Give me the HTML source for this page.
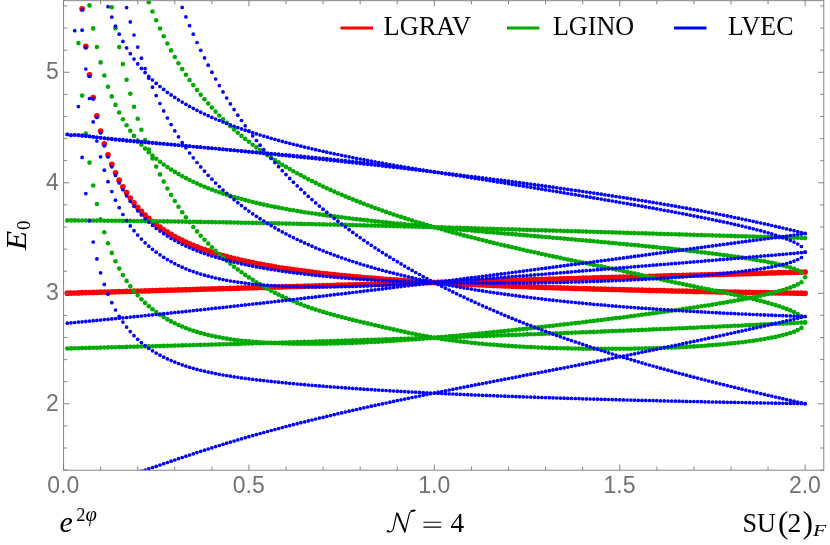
<!DOCTYPE html>
<html><head><meta charset="utf-8"><title>E0 spectrum</title>
<style>html,body{margin:0;padding:0;background:#fff;}svg{display:block;will-change:transform;}</style></head>
<body>
<svg width="830" height="545" viewBox="0 0 830 545">
<defs><clipPath id="cp"><rect x="63.60" y="0.70" width="760.20" height="469.50"/></clipPath></defs>
<rect x="0" y="0" width="830" height="545" fill="#fff"/>
<g clip-path="url(#cp)">
<g fill="#ff0000">
<circle cx="67.3" cy="293.2" r="2.85"/>
<circle cx="71.0" cy="293.1" r="2.85"/>
<circle cx="74.7" cy="293.0" r="2.85"/>
<circle cx="78.4" cy="292.9" r="2.85"/>
<circle cx="82.1" cy="292.7" r="2.85"/>
<circle cx="85.8" cy="292.6" r="2.85"/>
<circle cx="89.5" cy="292.5" r="2.85"/>
<circle cx="93.2" cy="292.4" r="2.85"/>
<circle cx="96.9" cy="292.3" r="2.85"/>
<circle cx="100.6" cy="292.2" r="2.85"/>
<circle cx="104.3" cy="292.1" r="2.85"/>
<circle cx="108.0" cy="292.0" r="2.85"/>
<circle cx="111.8" cy="291.9" r="2.85"/>
<circle cx="115.5" cy="291.8" r="2.85"/>
<circle cx="119.2" cy="291.6" r="2.85"/>
<circle cx="122.9" cy="291.5" r="2.85"/>
<circle cx="126.6" cy="291.4" r="2.85"/>
<circle cx="130.3" cy="291.3" r="2.85"/>
<circle cx="134.0" cy="291.2" r="2.85"/>
<circle cx="137.7" cy="291.1" r="2.85"/>
<circle cx="141.4" cy="291.0" r="2.85"/>
<circle cx="145.1" cy="290.9" r="2.85"/>
<circle cx="148.8" cy="290.8" r="2.85"/>
<circle cx="152.5" cy="290.7" r="2.85"/>
<circle cx="156.2" cy="290.6" r="2.85"/>
<circle cx="160.0" cy="290.4" r="2.85"/>
<circle cx="163.7" cy="290.3" r="2.85"/>
<circle cx="167.4" cy="290.2" r="2.85"/>
<circle cx="171.1" cy="290.1" r="2.85"/>
<circle cx="174.8" cy="290.0" r="2.85"/>
<circle cx="178.5" cy="289.9" r="2.85"/>
<circle cx="182.2" cy="289.8" r="2.85"/>
<circle cx="185.9" cy="289.7" r="2.85"/>
<circle cx="189.6" cy="289.6" r="2.85"/>
<circle cx="193.3" cy="289.5" r="2.85"/>
<circle cx="197.0" cy="289.4" r="2.85"/>
<circle cx="200.7" cy="289.2" r="2.85"/>
<circle cx="204.5" cy="289.1" r="2.85"/>
<circle cx="208.2" cy="289.0" r="2.85"/>
<circle cx="211.9" cy="288.9" r="2.85"/>
<circle cx="215.6" cy="288.8" r="2.85"/>
<circle cx="219.3" cy="288.7" r="2.85"/>
<circle cx="223.0" cy="288.6" r="2.85"/>
<circle cx="226.7" cy="288.5" r="2.85"/>
<circle cx="230.4" cy="288.4" r="2.85"/>
<circle cx="234.1" cy="288.3" r="2.85"/>
<circle cx="237.8" cy="288.2" r="2.85"/>
<circle cx="241.5" cy="288.0" r="2.85"/>
<circle cx="245.2" cy="287.9" r="2.85"/>
<circle cx="248.9" cy="287.8" r="2.85"/>
<circle cx="252.7" cy="287.7" r="2.85"/>
<circle cx="256.4" cy="287.6" r="2.85"/>
<circle cx="260.1" cy="287.5" r="2.85"/>
<circle cx="263.8" cy="287.4" r="2.85"/>
<circle cx="267.5" cy="287.3" r="2.85"/>
<circle cx="271.2" cy="287.2" r="2.85"/>
<circle cx="274.9" cy="287.1" r="2.85"/>
<circle cx="278.6" cy="287.0" r="2.85"/>
<circle cx="282.3" cy="286.9" r="2.85"/>
<circle cx="286.0" cy="286.7" r="2.85"/>
<circle cx="289.7" cy="286.6" r="2.85"/>
<circle cx="293.4" cy="286.5" r="2.85"/>
<circle cx="297.2" cy="286.4" r="2.85"/>
<circle cx="300.9" cy="286.3" r="2.85"/>
<circle cx="304.6" cy="286.2" r="2.85"/>
<circle cx="308.3" cy="286.1" r="2.85"/>
<circle cx="312.0" cy="286.0" r="2.85"/>
<circle cx="315.7" cy="285.9" r="2.85"/>
<circle cx="319.4" cy="285.8" r="2.85"/>
<circle cx="323.1" cy="285.7" r="2.85"/>
<circle cx="326.8" cy="285.6" r="2.85"/>
<circle cx="330.5" cy="285.5" r="2.85"/>
<circle cx="334.2" cy="285.3" r="2.85"/>
<circle cx="337.9" cy="285.2" r="2.85"/>
<circle cx="341.7" cy="285.1" r="2.85"/>
<circle cx="345.4" cy="285.0" r="2.85"/>
<circle cx="349.1" cy="284.9" r="2.85"/>
<circle cx="352.8" cy="284.8" r="2.85"/>
<circle cx="356.5" cy="284.7" r="2.85"/>
<circle cx="360.2" cy="284.6" r="2.85"/>
<circle cx="363.9" cy="284.5" r="2.85"/>
<circle cx="367.6" cy="284.4" r="2.85"/>
<circle cx="371.3" cy="284.3" r="2.85"/>
<circle cx="375.0" cy="284.2" r="2.85"/>
<circle cx="378.7" cy="284.1" r="2.85"/>
<circle cx="382.4" cy="284.0" r="2.85"/>
<circle cx="386.1" cy="283.8" r="2.85"/>
<circle cx="389.9" cy="283.7" r="2.85"/>
<circle cx="393.6" cy="283.6" r="2.85"/>
<circle cx="397.3" cy="283.5" r="2.85"/>
<circle cx="401.0" cy="283.4" r="2.85"/>
<circle cx="404.7" cy="283.3" r="2.85"/>
<circle cx="408.4" cy="283.2" r="2.85"/>
<circle cx="412.1" cy="283.1" r="2.85"/>
<circle cx="415.8" cy="283.0" r="2.85"/>
<circle cx="419.5" cy="282.9" r="2.85"/>
<circle cx="423.2" cy="282.8" r="2.85"/>
<circle cx="426.9" cy="282.7" r="2.85"/>
<circle cx="430.6" cy="282.6" r="2.85"/>
<circle cx="434.4" cy="282.5" r="2.85"/>
<circle cx="438.1" cy="282.4" r="2.85"/>
<circle cx="441.8" cy="282.2" r="2.85"/>
<circle cx="445.5" cy="282.1" r="2.85"/>
<circle cx="449.2" cy="282.0" r="2.85"/>
<circle cx="452.9" cy="281.9" r="2.85"/>
<circle cx="456.6" cy="281.8" r="2.85"/>
<circle cx="460.3" cy="281.7" r="2.85"/>
<circle cx="464.0" cy="281.6" r="2.85"/>
<circle cx="467.7" cy="281.5" r="2.85"/>
<circle cx="471.4" cy="281.4" r="2.85"/>
<circle cx="475.1" cy="281.3" r="2.85"/>
<circle cx="478.8" cy="281.2" r="2.85"/>
<circle cx="482.6" cy="281.1" r="2.85"/>
<circle cx="486.3" cy="281.0" r="2.85"/>
<circle cx="490.0" cy="280.9" r="2.85"/>
<circle cx="493.7" cy="280.8" r="2.85"/>
<circle cx="497.4" cy="280.7" r="2.85"/>
<circle cx="501.1" cy="280.6" r="2.85"/>
<circle cx="504.8" cy="280.4" r="2.85"/>
<circle cx="508.5" cy="280.3" r="2.85"/>
<circle cx="512.2" cy="280.2" r="2.85"/>
<circle cx="515.9" cy="280.1" r="2.85"/>
<circle cx="519.6" cy="280.0" r="2.85"/>
<circle cx="523.3" cy="279.9" r="2.85"/>
<circle cx="527.0" cy="279.8" r="2.85"/>
<circle cx="530.8" cy="279.7" r="2.85"/>
<circle cx="534.5" cy="279.6" r="2.85"/>
<circle cx="538.2" cy="279.5" r="2.85"/>
<circle cx="541.9" cy="279.4" r="2.85"/>
<circle cx="545.6" cy="279.3" r="2.85"/>
<circle cx="549.3" cy="279.2" r="2.85"/>
<circle cx="553.0" cy="279.1" r="2.85"/>
<circle cx="556.7" cy="279.0" r="2.85"/>
<circle cx="560.4" cy="278.9" r="2.85"/>
<circle cx="564.1" cy="278.8" r="2.85"/>
<circle cx="567.8" cy="278.7" r="2.85"/>
<circle cx="571.5" cy="278.6" r="2.85"/>
<circle cx="575.3" cy="278.5" r="2.85"/>
<circle cx="579.0" cy="278.3" r="2.85"/>
<circle cx="582.7" cy="278.2" r="2.85"/>
<circle cx="586.4" cy="278.1" r="2.85"/>
<circle cx="590.1" cy="278.0" r="2.85"/>
<circle cx="593.8" cy="277.9" r="2.85"/>
<circle cx="597.5" cy="277.8" r="2.85"/>
<circle cx="601.2" cy="277.7" r="2.85"/>
<circle cx="604.9" cy="277.6" r="2.85"/>
<circle cx="608.6" cy="277.5" r="2.85"/>
<circle cx="612.3" cy="277.4" r="2.85"/>
<circle cx="616.0" cy="277.3" r="2.85"/>
<circle cx="619.8" cy="277.2" r="2.85"/>
<circle cx="623.5" cy="277.1" r="2.85"/>
<circle cx="627.2" cy="277.0" r="2.85"/>
<circle cx="630.9" cy="276.9" r="2.85"/>
<circle cx="634.6" cy="276.8" r="2.85"/>
<circle cx="638.3" cy="276.7" r="2.85"/>
<circle cx="642.0" cy="276.6" r="2.85"/>
<circle cx="645.7" cy="276.5" r="2.85"/>
<circle cx="649.4" cy="276.4" r="2.85"/>
<circle cx="653.1" cy="276.3" r="2.85"/>
<circle cx="656.8" cy="276.2" r="2.85"/>
<circle cx="660.5" cy="276.0" r="2.85"/>
<circle cx="664.2" cy="275.9" r="2.85"/>
<circle cx="668.0" cy="275.8" r="2.85"/>
<circle cx="671.7" cy="275.7" r="2.85"/>
<circle cx="675.4" cy="275.6" r="2.85"/>
<circle cx="679.1" cy="275.5" r="2.85"/>
<circle cx="682.8" cy="275.4" r="2.85"/>
<circle cx="686.5" cy="275.3" r="2.85"/>
<circle cx="690.2" cy="275.2" r="2.85"/>
<circle cx="693.9" cy="275.1" r="2.85"/>
<circle cx="697.6" cy="275.0" r="2.85"/>
<circle cx="701.3" cy="274.9" r="2.85"/>
<circle cx="705.0" cy="274.8" r="2.85"/>
<circle cx="708.7" cy="274.7" r="2.85"/>
<circle cx="712.4" cy="274.6" r="2.85"/>
<circle cx="716.2" cy="274.5" r="2.85"/>
<circle cx="719.9" cy="274.4" r="2.85"/>
<circle cx="723.6" cy="274.3" r="2.85"/>
<circle cx="727.3" cy="274.2" r="2.85"/>
<circle cx="731.0" cy="274.1" r="2.85"/>
<circle cx="734.7" cy="274.0" r="2.85"/>
<circle cx="738.4" cy="273.9" r="2.85"/>
<circle cx="742.1" cy="273.8" r="2.85"/>
<circle cx="745.8" cy="273.7" r="2.85"/>
<circle cx="749.5" cy="273.6" r="2.85"/>
<circle cx="753.2" cy="273.5" r="2.85"/>
<circle cx="756.9" cy="273.4" r="2.85"/>
<circle cx="760.7" cy="273.3" r="2.85"/>
<circle cx="764.4" cy="273.2" r="2.85"/>
<circle cx="768.1" cy="273.0" r="2.85"/>
<circle cx="771.8" cy="272.9" r="2.85"/>
<circle cx="775.5" cy="272.8" r="2.85"/>
<circle cx="779.2" cy="272.7" r="2.85"/>
<circle cx="782.9" cy="272.6" r="2.85"/>
<circle cx="786.6" cy="272.5" r="2.85"/>
<circle cx="790.3" cy="272.4" r="2.85"/>
<circle cx="794.0" cy="272.3" r="2.85"/>
<circle cx="797.7" cy="272.2" r="2.85"/>
<circle cx="801.4" cy="272.1" r="2.85"/>
<circle cx="805.1" cy="272.0" r="2.85"/>
<circle cx="82.1" cy="8.8" r="2.85"/>
<circle cx="85.8" cy="46.4" r="2.85"/>
<circle cx="89.5" cy="74.9" r="2.85"/>
<circle cx="93.2" cy="97.5" r="2.85"/>
<circle cx="96.9" cy="115.8" r="2.85"/>
<circle cx="100.6" cy="131.0" r="2.85"/>
<circle cx="104.3" cy="143.9" r="2.85"/>
<circle cx="108.0" cy="154.9" r="2.85"/>
<circle cx="111.8" cy="164.4" r="2.85"/>
<circle cx="115.5" cy="172.8" r="2.85"/>
<circle cx="119.2" cy="180.2" r="2.85"/>
<circle cx="122.9" cy="186.8" r="2.85"/>
<circle cx="126.6" cy="192.7" r="2.85"/>
<circle cx="130.3" cy="198.0" r="2.85"/>
<circle cx="134.0" cy="202.8" r="2.85"/>
<circle cx="137.7" cy="207.3" r="2.85"/>
<circle cx="141.4" cy="211.3" r="2.85"/>
<circle cx="145.1" cy="215.0" r="2.85"/>
<circle cx="148.8" cy="218.4" r="2.85"/>
<circle cx="152.5" cy="221.6" r="2.85"/>
<circle cx="156.2" cy="224.5" r="2.85"/>
<circle cx="160.0" cy="227.2" r="2.85"/>
<circle cx="163.7" cy="229.8" r="2.85"/>
<circle cx="167.4" cy="232.2" r="2.85"/>
<circle cx="171.1" cy="234.4" r="2.85"/>
<circle cx="174.8" cy="236.5" r="2.85"/>
<circle cx="178.5" cy="238.5" r="2.85"/>
<circle cx="182.2" cy="240.4" r="2.85"/>
<circle cx="185.9" cy="242.1" r="2.85"/>
<circle cx="189.6" cy="243.8" r="2.85"/>
<circle cx="193.3" cy="245.4" r="2.85"/>
<circle cx="197.0" cy="246.9" r="2.85"/>
<circle cx="200.7" cy="248.3" r="2.85"/>
<circle cx="204.5" cy="249.6" r="2.85"/>
<circle cx="208.2" cy="250.9" r="2.85"/>
<circle cx="211.9" cy="252.2" r="2.85"/>
<circle cx="215.6" cy="253.3" r="2.85"/>
<circle cx="219.3" cy="254.5" r="2.85"/>
<circle cx="223.0" cy="255.5" r="2.85"/>
<circle cx="226.7" cy="256.6" r="2.85"/>
<circle cx="230.4" cy="257.6" r="2.85"/>
<circle cx="234.1" cy="258.5" r="2.85"/>
<circle cx="237.8" cy="259.4" r="2.85"/>
<circle cx="241.5" cy="260.3" r="2.85"/>
<circle cx="245.2" cy="261.1" r="2.85"/>
<circle cx="248.9" cy="261.9" r="2.85"/>
<circle cx="252.7" cy="262.7" r="2.85"/>
<circle cx="256.4" cy="263.5" r="2.85"/>
<circle cx="260.1" cy="264.2" r="2.85"/>
<circle cx="263.8" cy="264.9" r="2.85"/>
<circle cx="267.5" cy="265.6" r="2.85"/>
<circle cx="271.2" cy="266.2" r="2.85"/>
<circle cx="274.9" cy="266.8" r="2.85"/>
<circle cx="278.6" cy="267.5" r="2.85"/>
<circle cx="282.3" cy="268.0" r="2.85"/>
<circle cx="286.0" cy="268.6" r="2.85"/>
<circle cx="289.7" cy="269.2" r="2.85"/>
<circle cx="293.4" cy="269.7" r="2.85"/>
<circle cx="297.2" cy="270.2" r="2.85"/>
<circle cx="300.9" cy="270.7" r="2.85"/>
<circle cx="304.6" cy="271.2" r="2.85"/>
<circle cx="308.3" cy="271.7" r="2.85"/>
<circle cx="312.0" cy="272.2" r="2.85"/>
<circle cx="315.7" cy="272.6" r="2.85"/>
<circle cx="319.4" cy="273.1" r="2.85"/>
<circle cx="323.1" cy="273.5" r="2.85"/>
<circle cx="326.8" cy="273.9" r="2.85"/>
<circle cx="330.5" cy="274.3" r="2.85"/>
<circle cx="334.2" cy="274.7" r="2.85"/>
<circle cx="337.9" cy="275.1" r="2.85"/>
<circle cx="341.7" cy="275.5" r="2.85"/>
<circle cx="345.4" cy="275.8" r="2.85"/>
<circle cx="349.1" cy="276.2" r="2.85"/>
<circle cx="352.8" cy="276.5" r="2.85"/>
<circle cx="356.5" cy="276.9" r="2.85"/>
<circle cx="360.2" cy="277.2" r="2.85"/>
<circle cx="363.9" cy="277.5" r="2.85"/>
<circle cx="367.6" cy="277.8" r="2.85"/>
<circle cx="371.3" cy="278.1" r="2.85"/>
<circle cx="375.0" cy="278.4" r="2.85"/>
<circle cx="378.7" cy="278.7" r="2.85"/>
<circle cx="382.4" cy="279.0" r="2.85"/>
<circle cx="386.1" cy="279.3" r="2.85"/>
<circle cx="389.9" cy="279.6" r="2.85"/>
<circle cx="393.6" cy="279.8" r="2.85"/>
<circle cx="397.3" cy="280.1" r="2.85"/>
<circle cx="401.0" cy="280.4" r="2.85"/>
<circle cx="404.7" cy="280.6" r="2.85"/>
<circle cx="408.4" cy="280.9" r="2.85"/>
<circle cx="412.1" cy="281.1" r="2.85"/>
<circle cx="415.8" cy="281.3" r="2.85"/>
<circle cx="419.5" cy="281.6" r="2.85"/>
<circle cx="423.2" cy="281.8" r="2.85"/>
<circle cx="426.9" cy="282.0" r="2.85"/>
<circle cx="430.6" cy="282.2" r="2.85"/>
<circle cx="434.4" cy="282.5" r="2.85"/>
<circle cx="438.1" cy="282.7" r="2.85"/>
<circle cx="441.8" cy="282.9" r="2.85"/>
<circle cx="445.5" cy="283.1" r="2.85"/>
<circle cx="449.2" cy="283.3" r="2.85"/>
<circle cx="452.9" cy="283.5" r="2.85"/>
<circle cx="456.6" cy="283.7" r="2.85"/>
<circle cx="460.3" cy="283.9" r="2.85"/>
<circle cx="464.0" cy="284.0" r="2.85"/>
<circle cx="467.7" cy="284.2" r="2.85"/>
<circle cx="471.4" cy="284.4" r="2.85"/>
<circle cx="475.1" cy="284.6" r="2.85"/>
<circle cx="478.8" cy="284.8" r="2.85"/>
<circle cx="482.6" cy="284.9" r="2.85"/>
<circle cx="486.3" cy="285.1" r="2.85"/>
<circle cx="490.0" cy="285.2" r="2.85"/>
<circle cx="493.7" cy="285.4" r="2.85"/>
<circle cx="497.4" cy="285.6" r="2.85"/>
<circle cx="501.1" cy="285.7" r="2.85"/>
<circle cx="504.8" cy="285.9" r="2.85"/>
<circle cx="508.5" cy="286.0" r="2.85"/>
<circle cx="512.2" cy="286.2" r="2.85"/>
<circle cx="515.9" cy="286.3" r="2.85"/>
<circle cx="519.6" cy="286.5" r="2.85"/>
<circle cx="523.3" cy="286.6" r="2.85"/>
<circle cx="527.0" cy="286.7" r="2.85"/>
<circle cx="530.8" cy="286.9" r="2.85"/>
<circle cx="534.5" cy="287.0" r="2.85"/>
<circle cx="538.2" cy="287.2" r="2.85"/>
<circle cx="541.9" cy="287.3" r="2.85"/>
<circle cx="545.6" cy="287.4" r="2.85"/>
<circle cx="549.3" cy="287.5" r="2.85"/>
<circle cx="553.0" cy="287.7" r="2.85"/>
<circle cx="556.7" cy="287.8" r="2.85"/>
<circle cx="560.4" cy="287.9" r="2.85"/>
<circle cx="564.1" cy="288.0" r="2.85"/>
<circle cx="567.8" cy="288.1" r="2.85"/>
<circle cx="571.5" cy="288.3" r="2.85"/>
<circle cx="575.3" cy="288.4" r="2.85"/>
<circle cx="579.0" cy="288.5" r="2.85"/>
<circle cx="582.7" cy="288.6" r="2.85"/>
<circle cx="586.4" cy="288.7" r="2.85"/>
<circle cx="590.1" cy="288.8" r="2.85"/>
<circle cx="593.8" cy="288.9" r="2.85"/>
<circle cx="597.5" cy="289.0" r="2.85"/>
<circle cx="601.2" cy="289.1" r="2.85"/>
<circle cx="604.9" cy="289.2" r="2.85"/>
<circle cx="608.6" cy="289.3" r="2.85"/>
<circle cx="612.3" cy="289.4" r="2.85"/>
<circle cx="616.0" cy="289.5" r="2.85"/>
<circle cx="619.8" cy="289.6" r="2.85"/>
<circle cx="623.5" cy="289.7" r="2.85"/>
<circle cx="627.2" cy="289.8" r="2.85"/>
<circle cx="630.9" cy="289.9" r="2.85"/>
<circle cx="634.6" cy="290.0" r="2.85"/>
<circle cx="638.3" cy="290.1" r="2.85"/>
<circle cx="642.0" cy="290.2" r="2.85"/>
<circle cx="645.7" cy="290.3" r="2.85"/>
<circle cx="649.4" cy="290.4" r="2.85"/>
<circle cx="653.1" cy="290.5" r="2.85"/>
<circle cx="656.8" cy="290.6" r="2.85"/>
<circle cx="660.5" cy="290.6" r="2.85"/>
<circle cx="664.2" cy="290.7" r="2.85"/>
<circle cx="668.0" cy="290.8" r="2.85"/>
<circle cx="671.7" cy="290.9" r="2.85"/>
<circle cx="675.4" cy="291.0" r="2.85"/>
<circle cx="679.1" cy="291.0" r="2.85"/>
<circle cx="682.8" cy="291.1" r="2.85"/>
<circle cx="686.5" cy="291.2" r="2.85"/>
<circle cx="690.2" cy="291.3" r="2.85"/>
<circle cx="693.9" cy="291.4" r="2.85"/>
<circle cx="697.6" cy="291.4" r="2.85"/>
<circle cx="701.3" cy="291.5" r="2.85"/>
<circle cx="705.0" cy="291.6" r="2.85"/>
<circle cx="708.7" cy="291.7" r="2.85"/>
<circle cx="712.4" cy="291.7" r="2.85"/>
<circle cx="716.2" cy="291.8" r="2.85"/>
<circle cx="719.9" cy="291.9" r="2.85"/>
<circle cx="723.6" cy="291.9" r="2.85"/>
<circle cx="727.3" cy="292.0" r="2.85"/>
<circle cx="731.0" cy="292.1" r="2.85"/>
<circle cx="734.7" cy="292.1" r="2.85"/>
<circle cx="738.4" cy="292.2" r="2.85"/>
<circle cx="742.1" cy="292.3" r="2.85"/>
<circle cx="745.8" cy="292.3" r="2.85"/>
<circle cx="749.5" cy="292.4" r="2.85"/>
<circle cx="753.2" cy="292.5" r="2.85"/>
<circle cx="756.9" cy="292.5" r="2.85"/>
<circle cx="760.7" cy="292.6" r="2.85"/>
<circle cx="764.4" cy="292.7" r="2.85"/>
<circle cx="768.1" cy="292.7" r="2.85"/>
<circle cx="771.8" cy="292.8" r="2.85"/>
<circle cx="775.5" cy="292.8" r="2.85"/>
<circle cx="779.2" cy="292.9" r="2.85"/>
<circle cx="782.9" cy="293.0" r="2.85"/>
<circle cx="786.6" cy="293.0" r="2.85"/>
<circle cx="790.3" cy="293.1" r="2.85"/>
<circle cx="794.0" cy="293.1" r="2.85"/>
<circle cx="797.7" cy="293.2" r="2.85"/>
<circle cx="801.4" cy="293.2" r="2.85"/>
<circle cx="805.1" cy="293.3" r="2.85"/>
</g>
<g fill="#00aa00">
<circle cx="67.3" cy="220.4" r="2.3"/>
<circle cx="71.0" cy="220.4" r="2.3"/>
<circle cx="74.7" cy="220.4" r="2.3"/>
<circle cx="78.4" cy="220.5" r="2.3"/>
<circle cx="82.1" cy="220.5" r="2.3"/>
<circle cx="85.8" cy="220.5" r="2.3"/>
<circle cx="89.5" cy="220.5" r="2.3"/>
<circle cx="93.2" cy="220.6" r="2.3"/>
<circle cx="96.9" cy="220.6" r="2.3"/>
<circle cx="100.6" cy="220.6" r="2.3"/>
<circle cx="104.3" cy="220.7" r="2.3"/>
<circle cx="108.0" cy="220.7" r="2.3"/>
<circle cx="111.8" cy="220.7" r="2.3"/>
<circle cx="115.5" cy="220.8" r="2.3"/>
<circle cx="119.2" cy="220.8" r="2.3"/>
<circle cx="122.9" cy="220.9" r="2.3"/>
<circle cx="126.6" cy="220.9" r="2.3"/>
<circle cx="130.3" cy="220.9" r="2.3"/>
<circle cx="134.0" cy="221.0" r="2.3"/>
<circle cx="137.7" cy="221.0" r="2.3"/>
<circle cx="141.4" cy="221.1" r="2.3"/>
<circle cx="145.1" cy="221.1" r="2.3"/>
<circle cx="148.8" cy="221.2" r="2.3"/>
<circle cx="152.5" cy="221.2" r="2.3"/>
<circle cx="156.2" cy="221.3" r="2.3"/>
<circle cx="160.0" cy="221.3" r="2.3"/>
<circle cx="163.7" cy="221.4" r="2.3"/>
<circle cx="167.4" cy="221.4" r="2.3"/>
<circle cx="171.1" cy="221.5" r="2.3"/>
<circle cx="174.8" cy="221.5" r="2.3"/>
<circle cx="178.5" cy="221.6" r="2.3"/>
<circle cx="182.2" cy="221.6" r="2.3"/>
<circle cx="185.9" cy="221.7" r="2.3"/>
<circle cx="189.6" cy="221.8" r="2.3"/>
<circle cx="193.3" cy="221.8" r="2.3"/>
<circle cx="197.0" cy="221.9" r="2.3"/>
<circle cx="200.7" cy="221.9" r="2.3"/>
<circle cx="204.5" cy="222.0" r="2.3"/>
<circle cx="208.2" cy="222.1" r="2.3"/>
<circle cx="211.9" cy="222.1" r="2.3"/>
<circle cx="215.6" cy="222.2" r="2.3"/>
<circle cx="219.3" cy="222.2" r="2.3"/>
<circle cx="223.0" cy="222.3" r="2.3"/>
<circle cx="226.7" cy="222.4" r="2.3"/>
<circle cx="230.4" cy="222.4" r="2.3"/>
<circle cx="234.1" cy="222.5" r="2.3"/>
<circle cx="237.8" cy="222.6" r="2.3"/>
<circle cx="241.5" cy="222.7" r="2.3"/>
<circle cx="245.2" cy="222.7" r="2.3"/>
<circle cx="248.9" cy="222.8" r="2.3"/>
<circle cx="252.7" cy="222.9" r="2.3"/>
<circle cx="256.4" cy="222.9" r="2.3"/>
<circle cx="260.1" cy="223.0" r="2.3"/>
<circle cx="263.8" cy="223.1" r="2.3"/>
<circle cx="267.5" cy="223.2" r="2.3"/>
<circle cx="271.2" cy="223.2" r="2.3"/>
<circle cx="274.9" cy="223.3" r="2.3"/>
<circle cx="278.6" cy="223.4" r="2.3"/>
<circle cx="282.3" cy="223.5" r="2.3"/>
<circle cx="286.0" cy="223.6" r="2.3"/>
<circle cx="289.7" cy="223.6" r="2.3"/>
<circle cx="293.4" cy="223.7" r="2.3"/>
<circle cx="297.2" cy="223.8" r="2.3"/>
<circle cx="300.9" cy="223.9" r="2.3"/>
<circle cx="304.6" cy="224.0" r="2.3"/>
<circle cx="308.3" cy="224.0" r="2.3"/>
<circle cx="312.0" cy="224.1" r="2.3"/>
<circle cx="315.7" cy="224.2" r="2.3"/>
<circle cx="319.4" cy="224.3" r="2.3"/>
<circle cx="323.1" cy="224.4" r="2.3"/>
<circle cx="326.8" cy="224.5" r="2.3"/>
<circle cx="330.5" cy="224.6" r="2.3"/>
<circle cx="334.2" cy="224.6" r="2.3"/>
<circle cx="337.9" cy="224.7" r="2.3"/>
<circle cx="341.7" cy="224.8" r="2.3"/>
<circle cx="345.4" cy="224.9" r="2.3"/>
<circle cx="349.1" cy="225.0" r="2.3"/>
<circle cx="352.8" cy="225.1" r="2.3"/>
<circle cx="356.5" cy="225.2" r="2.3"/>
<circle cx="360.2" cy="225.3" r="2.3"/>
<circle cx="363.9" cy="225.4" r="2.3"/>
<circle cx="367.6" cy="225.5" r="2.3"/>
<circle cx="371.3" cy="225.6" r="2.3"/>
<circle cx="375.0" cy="225.6" r="2.3"/>
<circle cx="378.7" cy="225.7" r="2.3"/>
<circle cx="382.4" cy="225.8" r="2.3"/>
<circle cx="386.1" cy="225.9" r="2.3"/>
<circle cx="389.9" cy="226.0" r="2.3"/>
<circle cx="393.6" cy="226.1" r="2.3"/>
<circle cx="397.3" cy="226.2" r="2.3"/>
<circle cx="401.0" cy="226.3" r="2.3"/>
<circle cx="404.7" cy="226.4" r="2.3"/>
<circle cx="408.4" cy="226.5" r="2.3"/>
<circle cx="412.1" cy="226.6" r="2.3"/>
<circle cx="415.8" cy="226.7" r="2.3"/>
<circle cx="419.5" cy="226.8" r="2.3"/>
<circle cx="423.2" cy="226.9" r="2.3"/>
<circle cx="426.9" cy="227.0" r="2.3"/>
<circle cx="430.6" cy="227.1" r="2.3"/>
<circle cx="434.4" cy="227.2" r="2.3"/>
<circle cx="438.1" cy="227.3" r="2.3"/>
<circle cx="441.8" cy="227.4" r="2.3"/>
<circle cx="445.5" cy="227.5" r="2.3"/>
<circle cx="449.2" cy="227.6" r="2.3"/>
<circle cx="452.9" cy="227.7" r="2.3"/>
<circle cx="456.6" cy="227.8" r="2.3"/>
<circle cx="460.3" cy="227.9" r="2.3"/>
<circle cx="464.0" cy="228.0" r="2.3"/>
<circle cx="467.7" cy="228.1" r="2.3"/>
<circle cx="471.4" cy="228.3" r="2.3"/>
<circle cx="475.1" cy="228.4" r="2.3"/>
<circle cx="478.8" cy="228.5" r="2.3"/>
<circle cx="482.6" cy="228.6" r="2.3"/>
<circle cx="486.3" cy="228.7" r="2.3"/>
<circle cx="490.0" cy="228.8" r="2.3"/>
<circle cx="493.7" cy="228.9" r="2.3"/>
<circle cx="497.4" cy="229.0" r="2.3"/>
<circle cx="501.1" cy="229.1" r="2.3"/>
<circle cx="504.8" cy="229.2" r="2.3"/>
<circle cx="508.5" cy="229.3" r="2.3"/>
<circle cx="512.2" cy="229.4" r="2.3"/>
<circle cx="515.9" cy="229.5" r="2.3"/>
<circle cx="519.6" cy="229.6" r="2.3"/>
<circle cx="523.3" cy="229.8" r="2.3"/>
<circle cx="527.0" cy="229.9" r="2.3"/>
<circle cx="530.8" cy="230.0" r="2.3"/>
<circle cx="534.5" cy="230.1" r="2.3"/>
<circle cx="538.2" cy="230.2" r="2.3"/>
<circle cx="541.9" cy="230.3" r="2.3"/>
<circle cx="545.6" cy="230.4" r="2.3"/>
<circle cx="549.3" cy="230.5" r="2.3"/>
<circle cx="553.0" cy="230.6" r="2.3"/>
<circle cx="556.7" cy="230.7" r="2.3"/>
<circle cx="560.4" cy="230.8" r="2.3"/>
<circle cx="564.1" cy="231.0" r="2.3"/>
<circle cx="567.8" cy="231.1" r="2.3"/>
<circle cx="571.5" cy="231.2" r="2.3"/>
<circle cx="575.3" cy="231.3" r="2.3"/>
<circle cx="579.0" cy="231.4" r="2.3"/>
<circle cx="582.7" cy="231.5" r="2.3"/>
<circle cx="586.4" cy="231.6" r="2.3"/>
<circle cx="590.1" cy="231.7" r="2.3"/>
<circle cx="593.8" cy="231.8" r="2.3"/>
<circle cx="597.5" cy="232.0" r="2.3"/>
<circle cx="601.2" cy="232.1" r="2.3"/>
<circle cx="604.9" cy="232.2" r="2.3"/>
<circle cx="608.6" cy="232.3" r="2.3"/>
<circle cx="612.3" cy="232.4" r="2.3"/>
<circle cx="616.0" cy="232.5" r="2.3"/>
<circle cx="619.8" cy="232.6" r="2.3"/>
<circle cx="623.5" cy="232.7" r="2.3"/>
<circle cx="627.2" cy="232.9" r="2.3"/>
<circle cx="630.9" cy="233.0" r="2.3"/>
<circle cx="634.6" cy="233.1" r="2.3"/>
<circle cx="638.3" cy="233.2" r="2.3"/>
<circle cx="642.0" cy="233.3" r="2.3"/>
<circle cx="645.7" cy="233.4" r="2.3"/>
<circle cx="649.4" cy="233.5" r="2.3"/>
<circle cx="653.1" cy="233.6" r="2.3"/>
<circle cx="656.8" cy="233.7" r="2.3"/>
<circle cx="660.5" cy="233.9" r="2.3"/>
<circle cx="664.2" cy="234.0" r="2.3"/>
<circle cx="668.0" cy="234.1" r="2.3"/>
<circle cx="671.7" cy="234.2" r="2.3"/>
<circle cx="675.4" cy="234.3" r="2.3"/>
<circle cx="679.1" cy="234.4" r="2.3"/>
<circle cx="682.8" cy="234.5" r="2.3"/>
<circle cx="686.5" cy="234.6" r="2.3"/>
<circle cx="690.2" cy="234.7" r="2.3"/>
<circle cx="693.9" cy="234.9" r="2.3"/>
<circle cx="697.6" cy="235.0" r="2.3"/>
<circle cx="701.3" cy="235.1" r="2.3"/>
<circle cx="705.0" cy="235.2" r="2.3"/>
<circle cx="708.7" cy="235.3" r="2.3"/>
<circle cx="712.4" cy="235.4" r="2.3"/>
<circle cx="716.2" cy="235.5" r="2.3"/>
<circle cx="719.9" cy="235.6" r="2.3"/>
<circle cx="723.6" cy="235.7" r="2.3"/>
<circle cx="727.3" cy="235.8" r="2.3"/>
<circle cx="731.0" cy="235.9" r="2.3"/>
<circle cx="734.7" cy="236.1" r="2.3"/>
<circle cx="738.4" cy="236.2" r="2.3"/>
<circle cx="742.1" cy="236.3" r="2.3"/>
<circle cx="745.8" cy="236.4" r="2.3"/>
<circle cx="749.5" cy="236.5" r="2.3"/>
<circle cx="753.2" cy="236.6" r="2.3"/>
<circle cx="756.9" cy="236.7" r="2.3"/>
<circle cx="760.7" cy="236.8" r="2.3"/>
<circle cx="764.4" cy="236.9" r="2.3"/>
<circle cx="768.1" cy="237.0" r="2.3"/>
<circle cx="771.8" cy="237.1" r="2.3"/>
<circle cx="775.5" cy="237.2" r="2.3"/>
<circle cx="779.2" cy="237.3" r="2.3"/>
<circle cx="782.9" cy="237.4" r="2.3"/>
<circle cx="786.6" cy="237.5" r="2.3"/>
<circle cx="790.3" cy="237.6" r="2.3"/>
<circle cx="794.0" cy="237.7" r="2.3"/>
<circle cx="797.7" cy="237.8" r="2.3"/>
<circle cx="801.4" cy="237.9" r="2.3"/>
<circle cx="805.1" cy="238.1" r="2.3"/>
<circle cx="67.3" cy="348.5" r="2.3"/>
<circle cx="71.0" cy="348.4" r="2.3"/>
<circle cx="74.7" cy="348.3" r="2.3"/>
<circle cx="78.4" cy="348.2" r="2.3"/>
<circle cx="82.1" cy="348.1" r="2.3"/>
<circle cx="85.8" cy="348.0" r="2.3"/>
<circle cx="89.5" cy="347.9" r="2.3"/>
<circle cx="93.2" cy="347.8" r="2.3"/>
<circle cx="96.9" cy="347.7" r="2.3"/>
<circle cx="100.6" cy="347.6" r="2.3"/>
<circle cx="104.3" cy="347.5" r="2.3"/>
<circle cx="108.0" cy="347.4" r="2.3"/>
<circle cx="111.8" cy="347.3" r="2.3"/>
<circle cx="115.5" cy="347.2" r="2.3"/>
<circle cx="119.2" cy="347.1" r="2.3"/>
<circle cx="122.9" cy="347.0" r="2.3"/>
<circle cx="126.6" cy="346.9" r="2.3"/>
<circle cx="130.3" cy="346.8" r="2.3"/>
<circle cx="134.0" cy="346.7" r="2.3"/>
<circle cx="137.7" cy="346.6" r="2.3"/>
<circle cx="141.4" cy="346.5" r="2.3"/>
<circle cx="145.1" cy="346.4" r="2.3"/>
<circle cx="148.8" cy="346.3" r="2.3"/>
<circle cx="152.5" cy="346.2" r="2.3"/>
<circle cx="156.2" cy="346.1" r="2.3"/>
<circle cx="160.0" cy="346.0" r="2.3"/>
<circle cx="163.7" cy="345.9" r="2.3"/>
<circle cx="167.4" cy="345.8" r="2.3"/>
<circle cx="171.1" cy="345.7" r="2.3"/>
<circle cx="174.8" cy="345.6" r="2.3"/>
<circle cx="178.5" cy="345.5" r="2.3"/>
<circle cx="182.2" cy="345.4" r="2.3"/>
<circle cx="185.9" cy="345.3" r="2.3"/>
<circle cx="189.6" cy="345.2" r="2.3"/>
<circle cx="193.3" cy="345.1" r="2.3"/>
<circle cx="197.0" cy="345.0" r="2.3"/>
<circle cx="200.7" cy="344.9" r="2.3"/>
<circle cx="204.5" cy="344.8" r="2.3"/>
<circle cx="208.2" cy="344.7" r="2.3"/>
<circle cx="211.9" cy="344.6" r="2.3"/>
<circle cx="215.6" cy="344.5" r="2.3"/>
<circle cx="219.3" cy="344.4" r="2.3"/>
<circle cx="223.0" cy="344.3" r="2.3"/>
<circle cx="226.7" cy="344.2" r="2.3"/>
<circle cx="230.4" cy="344.1" r="2.3"/>
<circle cx="234.1" cy="344.0" r="2.3"/>
<circle cx="237.8" cy="343.9" r="2.3"/>
<circle cx="241.5" cy="343.8" r="2.3"/>
<circle cx="245.2" cy="343.6" r="2.3"/>
<circle cx="248.9" cy="343.5" r="2.3"/>
<circle cx="252.7" cy="343.4" r="2.3"/>
<circle cx="256.4" cy="343.3" r="2.3"/>
<circle cx="260.1" cy="343.2" r="2.3"/>
<circle cx="263.8" cy="343.1" r="2.3"/>
<circle cx="267.5" cy="343.0" r="2.3"/>
<circle cx="271.2" cy="342.9" r="2.3"/>
<circle cx="274.9" cy="342.8" r="2.3"/>
<circle cx="278.6" cy="342.7" r="2.3"/>
<circle cx="282.3" cy="342.6" r="2.3"/>
<circle cx="286.0" cy="342.5" r="2.3"/>
<circle cx="289.7" cy="342.3" r="2.3"/>
<circle cx="293.4" cy="342.2" r="2.3"/>
<circle cx="297.2" cy="342.1" r="2.3"/>
<circle cx="300.9" cy="342.0" r="2.3"/>
<circle cx="304.6" cy="341.9" r="2.3"/>
<circle cx="308.3" cy="341.8" r="2.3"/>
<circle cx="312.0" cy="341.7" r="2.3"/>
<circle cx="315.7" cy="341.6" r="2.3"/>
<circle cx="319.4" cy="341.4" r="2.3"/>
<circle cx="323.1" cy="341.3" r="2.3"/>
<circle cx="326.8" cy="341.2" r="2.3"/>
<circle cx="330.5" cy="341.1" r="2.3"/>
<circle cx="334.2" cy="341.0" r="2.3"/>
<circle cx="337.9" cy="340.9" r="2.3"/>
<circle cx="341.7" cy="340.8" r="2.3"/>
<circle cx="345.4" cy="340.6" r="2.3"/>
<circle cx="349.1" cy="340.5" r="2.3"/>
<circle cx="352.8" cy="340.4" r="2.3"/>
<circle cx="356.5" cy="340.3" r="2.3"/>
<circle cx="360.2" cy="340.2" r="2.3"/>
<circle cx="363.9" cy="340.1" r="2.3"/>
<circle cx="367.6" cy="339.9" r="2.3"/>
<circle cx="371.3" cy="339.8" r="2.3"/>
<circle cx="375.0" cy="339.7" r="2.3"/>
<circle cx="378.7" cy="339.6" r="2.3"/>
<circle cx="382.4" cy="339.5" r="2.3"/>
<circle cx="386.1" cy="339.3" r="2.3"/>
<circle cx="389.9" cy="339.2" r="2.3"/>
<circle cx="393.6" cy="339.1" r="2.3"/>
<circle cx="397.3" cy="339.0" r="2.3"/>
<circle cx="401.0" cy="338.9" r="2.3"/>
<circle cx="404.7" cy="338.7" r="2.3"/>
<circle cx="408.4" cy="338.6" r="2.3"/>
<circle cx="412.1" cy="338.5" r="2.3"/>
<circle cx="415.8" cy="338.4" r="2.3"/>
<circle cx="419.5" cy="338.2" r="2.3"/>
<circle cx="423.2" cy="338.1" r="2.3"/>
<circle cx="426.9" cy="338.0" r="2.3"/>
<circle cx="430.6" cy="337.9" r="2.3"/>
<circle cx="434.4" cy="337.7" r="2.3"/>
<circle cx="438.1" cy="337.6" r="2.3"/>
<circle cx="441.8" cy="337.5" r="2.3"/>
<circle cx="445.5" cy="337.4" r="2.3"/>
<circle cx="449.2" cy="337.2" r="2.3"/>
<circle cx="452.9" cy="337.1" r="2.3"/>
<circle cx="456.6" cy="337.0" r="2.3"/>
<circle cx="460.3" cy="336.8" r="2.3"/>
<circle cx="464.0" cy="336.7" r="2.3"/>
<circle cx="467.7" cy="336.6" r="2.3"/>
<circle cx="471.4" cy="336.5" r="2.3"/>
<circle cx="475.1" cy="336.3" r="2.3"/>
<circle cx="478.8" cy="336.2" r="2.3"/>
<circle cx="482.6" cy="336.1" r="2.3"/>
<circle cx="486.3" cy="335.9" r="2.3"/>
<circle cx="490.0" cy="335.8" r="2.3"/>
<circle cx="493.7" cy="335.7" r="2.3"/>
<circle cx="497.4" cy="335.5" r="2.3"/>
<circle cx="501.1" cy="335.4" r="2.3"/>
<circle cx="504.8" cy="335.3" r="2.3"/>
<circle cx="508.5" cy="335.1" r="2.3"/>
<circle cx="512.2" cy="335.0" r="2.3"/>
<circle cx="515.9" cy="334.9" r="2.3"/>
<circle cx="519.6" cy="334.7" r="2.3"/>
<circle cx="523.3" cy="334.6" r="2.3"/>
<circle cx="527.0" cy="334.4" r="2.3"/>
<circle cx="530.8" cy="334.3" r="2.3"/>
<circle cx="534.5" cy="334.2" r="2.3"/>
<circle cx="538.2" cy="334.0" r="2.3"/>
<circle cx="541.9" cy="333.9" r="2.3"/>
<circle cx="545.6" cy="333.7" r="2.3"/>
<circle cx="549.3" cy="333.6" r="2.3"/>
<circle cx="553.0" cy="333.5" r="2.3"/>
<circle cx="556.7" cy="333.3" r="2.3"/>
<circle cx="560.4" cy="333.2" r="2.3"/>
<circle cx="564.1" cy="333.0" r="2.3"/>
<circle cx="567.8" cy="332.9" r="2.3"/>
<circle cx="571.5" cy="332.8" r="2.3"/>
<circle cx="575.3" cy="332.6" r="2.3"/>
<circle cx="579.0" cy="332.5" r="2.3"/>
<circle cx="582.7" cy="332.3" r="2.3"/>
<circle cx="586.4" cy="332.2" r="2.3"/>
<circle cx="590.1" cy="332.0" r="2.3"/>
<circle cx="593.8" cy="331.9" r="2.3"/>
<circle cx="597.5" cy="331.7" r="2.3"/>
<circle cx="601.2" cy="331.6" r="2.3"/>
<circle cx="604.9" cy="331.4" r="2.3"/>
<circle cx="608.6" cy="331.3" r="2.3"/>
<circle cx="612.3" cy="331.1" r="2.3"/>
<circle cx="616.0" cy="331.0" r="2.3"/>
<circle cx="619.8" cy="330.8" r="2.3"/>
<circle cx="623.5" cy="330.7" r="2.3"/>
<circle cx="627.2" cy="330.5" r="2.3"/>
<circle cx="630.9" cy="330.4" r="2.3"/>
<circle cx="634.6" cy="330.2" r="2.3"/>
<circle cx="638.3" cy="330.1" r="2.3"/>
<circle cx="642.0" cy="329.9" r="2.3"/>
<circle cx="645.7" cy="329.8" r="2.3"/>
<circle cx="649.4" cy="329.6" r="2.3"/>
<circle cx="653.1" cy="329.4" r="2.3"/>
<circle cx="656.8" cy="329.3" r="2.3"/>
<circle cx="660.5" cy="329.1" r="2.3"/>
<circle cx="664.2" cy="329.0" r="2.3"/>
<circle cx="668.0" cy="328.8" r="2.3"/>
<circle cx="671.7" cy="328.6" r="2.3"/>
<circle cx="675.4" cy="328.5" r="2.3"/>
<circle cx="679.1" cy="328.3" r="2.3"/>
<circle cx="682.8" cy="328.2" r="2.3"/>
<circle cx="686.5" cy="328.0" r="2.3"/>
<circle cx="690.2" cy="327.8" r="2.3"/>
<circle cx="693.9" cy="327.7" r="2.3"/>
<circle cx="697.6" cy="327.5" r="2.3"/>
<circle cx="701.3" cy="327.3" r="2.3"/>
<circle cx="705.0" cy="327.2" r="2.3"/>
<circle cx="708.7" cy="327.0" r="2.3"/>
<circle cx="712.4" cy="326.8" r="2.3"/>
<circle cx="716.2" cy="326.7" r="2.3"/>
<circle cx="719.9" cy="326.5" r="2.3"/>
<circle cx="723.6" cy="326.3" r="2.3"/>
<circle cx="727.3" cy="326.2" r="2.3"/>
<circle cx="731.0" cy="326.0" r="2.3"/>
<circle cx="734.7" cy="325.8" r="2.3"/>
<circle cx="738.4" cy="325.7" r="2.3"/>
<circle cx="742.1" cy="325.5" r="2.3"/>
<circle cx="745.8" cy="325.3" r="2.3"/>
<circle cx="749.5" cy="325.1" r="2.3"/>
<circle cx="753.2" cy="325.0" r="2.3"/>
<circle cx="756.9" cy="324.8" r="2.3"/>
<circle cx="760.7" cy="324.6" r="2.3"/>
<circle cx="764.4" cy="324.4" r="2.3"/>
<circle cx="768.1" cy="324.3" r="2.3"/>
<circle cx="771.8" cy="324.1" r="2.3"/>
<circle cx="775.5" cy="323.9" r="2.3"/>
<circle cx="779.2" cy="323.7" r="2.3"/>
<circle cx="782.9" cy="323.6" r="2.3"/>
<circle cx="786.6" cy="323.4" r="2.3"/>
<circle cx="790.3" cy="323.2" r="2.3"/>
<circle cx="794.0" cy="323.0" r="2.3"/>
<circle cx="797.7" cy="322.8" r="2.3"/>
<circle cx="801.4" cy="322.6" r="2.3"/>
<circle cx="805.1" cy="322.5" r="2.3"/>
<circle cx="89.5" cy="5.4" r="2.3"/>
<circle cx="93.2" cy="28.4" r="2.3"/>
<circle cx="96.9" cy="47.0" r="2.3"/>
<circle cx="100.6" cy="62.4" r="2.3"/>
<circle cx="104.3" cy="75.5" r="2.3"/>
<circle cx="108.0" cy="86.7" r="2.3"/>
<circle cx="111.8" cy="96.4" r="2.3"/>
<circle cx="115.5" cy="104.9" r="2.3"/>
<circle cx="119.2" cy="112.5" r="2.3"/>
<circle cx="122.9" cy="119.2" r="2.3"/>
<circle cx="126.6" cy="125.3" r="2.3"/>
<circle cx="130.3" cy="130.8" r="2.3"/>
<circle cx="134.0" cy="135.9" r="2.3"/>
<circle cx="137.7" cy="140.5" r="2.3"/>
<circle cx="141.4" cy="144.7" r="2.3"/>
<circle cx="145.1" cy="148.6" r="2.3"/>
<circle cx="148.8" cy="152.3" r="2.3"/>
<circle cx="152.5" cy="155.6" r="2.3"/>
<circle cx="156.2" cy="158.8" r="2.3"/>
<circle cx="160.0" cy="161.7" r="2.3"/>
<circle cx="163.7" cy="164.5" r="2.3"/>
<circle cx="167.4" cy="167.1" r="2.3"/>
<circle cx="171.1" cy="169.6" r="2.3"/>
<circle cx="174.8" cy="171.9" r="2.3"/>
<circle cx="178.5" cy="174.1" r="2.3"/>
<circle cx="182.2" cy="176.2" r="2.3"/>
<circle cx="185.9" cy="178.1" r="2.3"/>
<circle cx="189.6" cy="180.0" r="2.3"/>
<circle cx="193.3" cy="181.8" r="2.3"/>
<circle cx="197.0" cy="183.5" r="2.3"/>
<circle cx="200.7" cy="185.2" r="2.3"/>
<circle cx="204.5" cy="186.7" r="2.3"/>
<circle cx="208.2" cy="188.2" r="2.3"/>
<circle cx="211.9" cy="189.6" r="2.3"/>
<circle cx="215.6" cy="191.0" r="2.3"/>
<circle cx="219.3" cy="192.3" r="2.3"/>
<circle cx="223.0" cy="193.6" r="2.3"/>
<circle cx="226.7" cy="194.8" r="2.3"/>
<circle cx="230.4" cy="195.9" r="2.3"/>
<circle cx="234.1" cy="197.0" r="2.3"/>
<circle cx="237.8" cy="198.1" r="2.3"/>
<circle cx="241.5" cy="199.1" r="2.3"/>
<circle cx="245.2" cy="200.1" r="2.3"/>
<circle cx="248.9" cy="201.1" r="2.3"/>
<circle cx="252.7" cy="202.0" r="2.3"/>
<circle cx="256.4" cy="202.9" r="2.3"/>
<circle cx="260.1" cy="203.8" r="2.3"/>
<circle cx="263.8" cy="204.6" r="2.3"/>
<circle cx="267.5" cy="205.4" r="2.3"/>
<circle cx="271.2" cy="206.2" r="2.3"/>
<circle cx="274.9" cy="206.9" r="2.3"/>
<circle cx="278.6" cy="207.6" r="2.3"/>
<circle cx="282.3" cy="208.3" r="2.3"/>
<circle cx="286.0" cy="209.0" r="2.3"/>
<circle cx="289.7" cy="209.7" r="2.3"/>
<circle cx="293.4" cy="210.3" r="2.3"/>
<circle cx="297.2" cy="211.0" r="2.3"/>
<circle cx="300.9" cy="211.6" r="2.3"/>
<circle cx="304.6" cy="212.2" r="2.3"/>
<circle cx="308.3" cy="212.7" r="2.3"/>
<circle cx="312.0" cy="213.3" r="2.3"/>
<circle cx="315.7" cy="213.8" r="2.3"/>
<circle cx="319.4" cy="214.4" r="2.3"/>
<circle cx="323.1" cy="214.9" r="2.3"/>
<circle cx="326.8" cy="215.4" r="2.3"/>
<circle cx="330.5" cy="215.9" r="2.3"/>
<circle cx="334.2" cy="216.4" r="2.3"/>
<circle cx="337.9" cy="216.9" r="2.3"/>
<circle cx="341.7" cy="217.3" r="2.3"/>
<circle cx="345.4" cy="217.8" r="2.3"/>
<circle cx="349.1" cy="218.3" r="2.3"/>
<circle cx="352.8" cy="218.7" r="2.3"/>
<circle cx="356.5" cy="219.1" r="2.3"/>
<circle cx="360.2" cy="219.6" r="2.3"/>
<circle cx="363.9" cy="220.0" r="2.3"/>
<circle cx="367.6" cy="220.4" r="2.3"/>
<circle cx="371.3" cy="220.8" r="2.3"/>
<circle cx="375.0" cy="221.2" r="2.3"/>
<circle cx="378.7" cy="221.6" r="2.3"/>
<circle cx="382.4" cy="222.0" r="2.3"/>
<circle cx="386.1" cy="222.4" r="2.3"/>
<circle cx="389.9" cy="222.8" r="2.3"/>
<circle cx="393.6" cy="223.2" r="2.3"/>
<circle cx="397.3" cy="223.6" r="2.3"/>
<circle cx="401.0" cy="223.9" r="2.3"/>
<circle cx="404.7" cy="224.3" r="2.3"/>
<circle cx="408.4" cy="224.7" r="2.3"/>
<circle cx="412.1" cy="225.0" r="2.3"/>
<circle cx="415.8" cy="225.4" r="2.3"/>
<circle cx="419.5" cy="225.8" r="2.3"/>
<circle cx="423.2" cy="226.1" r="2.3"/>
<circle cx="426.9" cy="226.5" r="2.3"/>
<circle cx="430.6" cy="226.8" r="2.3"/>
<circle cx="434.4" cy="227.2" r="2.3"/>
<circle cx="438.1" cy="227.5" r="2.3"/>
<circle cx="441.8" cy="227.9" r="2.3"/>
<circle cx="445.5" cy="228.2" r="2.3"/>
<circle cx="449.2" cy="228.5" r="2.3"/>
<circle cx="452.9" cy="228.9" r="2.3"/>
<circle cx="456.6" cy="229.2" r="2.3"/>
<circle cx="460.3" cy="229.6" r="2.3"/>
<circle cx="464.0" cy="229.9" r="2.3"/>
<circle cx="467.7" cy="230.2" r="2.3"/>
<circle cx="471.4" cy="230.5" r="2.3"/>
<circle cx="475.1" cy="230.9" r="2.3"/>
<circle cx="478.8" cy="231.2" r="2.3"/>
<circle cx="482.6" cy="231.5" r="2.3"/>
<circle cx="486.3" cy="231.9" r="2.3"/>
<circle cx="490.0" cy="232.2" r="2.3"/>
<circle cx="493.7" cy="232.5" r="2.3"/>
<circle cx="497.4" cy="232.8" r="2.3"/>
<circle cx="501.1" cy="233.2" r="2.3"/>
<circle cx="504.8" cy="233.5" r="2.3"/>
<circle cx="508.5" cy="233.8" r="2.3"/>
<circle cx="512.2" cy="234.1" r="2.3"/>
<circle cx="515.9" cy="234.4" r="2.3"/>
<circle cx="519.6" cy="234.8" r="2.3"/>
<circle cx="523.3" cy="235.1" r="2.3"/>
<circle cx="527.0" cy="235.4" r="2.3"/>
<circle cx="530.8" cy="235.7" r="2.3"/>
<circle cx="534.5" cy="236.1" r="2.3"/>
<circle cx="538.2" cy="236.4" r="2.3"/>
<circle cx="541.9" cy="236.7" r="2.3"/>
<circle cx="545.6" cy="237.0" r="2.3"/>
<circle cx="549.3" cy="237.3" r="2.3"/>
<circle cx="553.0" cy="237.7" r="2.3"/>
<circle cx="556.7" cy="238.0" r="2.3"/>
<circle cx="560.4" cy="238.3" r="2.3"/>
<circle cx="564.1" cy="238.6" r="2.3"/>
<circle cx="567.8" cy="239.0" r="2.3"/>
<circle cx="571.5" cy="239.3" r="2.3"/>
<circle cx="575.3" cy="239.6" r="2.3"/>
<circle cx="579.0" cy="240.0" r="2.3"/>
<circle cx="582.7" cy="240.3" r="2.3"/>
<circle cx="586.4" cy="240.6" r="2.3"/>
<circle cx="590.1" cy="240.9" r="2.3"/>
<circle cx="593.8" cy="241.3" r="2.3"/>
<circle cx="597.5" cy="241.6" r="2.3"/>
<circle cx="601.2" cy="242.0" r="2.3"/>
<circle cx="604.9" cy="242.3" r="2.3"/>
<circle cx="608.6" cy="242.6" r="2.3"/>
<circle cx="612.3" cy="243.0" r="2.3"/>
<circle cx="616.0" cy="243.3" r="2.3"/>
<circle cx="619.8" cy="243.7" r="2.3"/>
<circle cx="623.5" cy="244.0" r="2.3"/>
<circle cx="627.2" cy="244.4" r="2.3"/>
<circle cx="630.9" cy="244.7" r="2.3"/>
<circle cx="634.6" cy="245.1" r="2.3"/>
<circle cx="638.3" cy="245.4" r="2.3"/>
<circle cx="642.0" cy="245.8" r="2.3"/>
<circle cx="645.7" cy="246.2" r="2.3"/>
<circle cx="649.4" cy="246.5" r="2.3"/>
<circle cx="653.1" cy="246.9" r="2.3"/>
<circle cx="656.8" cy="247.3" r="2.3"/>
<circle cx="660.5" cy="247.7" r="2.3"/>
<circle cx="664.2" cy="248.1" r="2.3"/>
<circle cx="668.0" cy="248.4" r="2.3"/>
<circle cx="671.7" cy="248.8" r="2.3"/>
<circle cx="675.4" cy="249.2" r="2.3"/>
<circle cx="679.1" cy="249.6" r="2.3"/>
<circle cx="682.8" cy="250.0" r="2.3"/>
<circle cx="686.5" cy="250.5" r="2.3"/>
<circle cx="690.2" cy="250.9" r="2.3"/>
<circle cx="693.9" cy="251.3" r="2.3"/>
<circle cx="697.6" cy="251.7" r="2.3"/>
<circle cx="701.3" cy="252.2" r="2.3"/>
<circle cx="705.0" cy="252.6" r="2.3"/>
<circle cx="708.7" cy="253.1" r="2.3"/>
<circle cx="712.4" cy="253.5" r="2.3"/>
<circle cx="716.2" cy="254.0" r="2.3"/>
<circle cx="719.9" cy="254.5" r="2.3"/>
<circle cx="723.6" cy="255.0" r="2.3"/>
<circle cx="727.3" cy="255.5" r="2.3"/>
<circle cx="731.0" cy="256.0" r="2.3"/>
<circle cx="734.7" cy="256.5" r="2.3"/>
<circle cx="738.4" cy="257.1" r="2.3"/>
<circle cx="742.1" cy="257.6" r="2.3"/>
<circle cx="745.8" cy="258.2" r="2.3"/>
<circle cx="749.5" cy="258.8" r="2.3"/>
<circle cx="753.2" cy="259.4" r="2.3"/>
<circle cx="756.9" cy="260.0" r="2.3"/>
<circle cx="760.7" cy="260.7" r="2.3"/>
<circle cx="764.4" cy="261.3" r="2.3"/>
<circle cx="768.1" cy="262.1" r="2.3"/>
<circle cx="771.8" cy="262.8" r="2.3"/>
<circle cx="775.5" cy="263.6" r="2.3"/>
<circle cx="779.2" cy="264.5" r="2.3"/>
<circle cx="782.9" cy="265.4" r="2.3"/>
<circle cx="786.6" cy="266.4" r="2.3"/>
<circle cx="790.3" cy="267.5" r="2.3"/>
<circle cx="794.0" cy="268.8" r="2.3"/>
<circle cx="797.7" cy="270.3" r="2.3"/>
<circle cx="801.4" cy="272.3" r="2.3"/>
<circle cx="805.1" cy="277.2" r="2.3"/>
<circle cx="78.4" cy="43.1" r="2.3"/>
<circle cx="82.1" cy="95.6" r="2.3"/>
<circle cx="85.8" cy="133.6" r="2.3"/>
<circle cx="89.5" cy="162.6" r="2.3"/>
<circle cx="93.2" cy="185.5" r="2.3"/>
<circle cx="96.9" cy="204.0" r="2.3"/>
<circle cx="100.6" cy="219.4" r="2.3"/>
<circle cx="104.3" cy="232.3" r="2.3"/>
<circle cx="108.0" cy="243.3" r="2.3"/>
<circle cx="111.8" cy="252.9" r="2.3"/>
<circle cx="115.5" cy="261.2" r="2.3"/>
<circle cx="119.2" cy="268.6" r="2.3"/>
<circle cx="122.9" cy="275.1" r="2.3"/>
<circle cx="126.6" cy="280.9" r="2.3"/>
<circle cx="130.3" cy="286.2" r="2.3"/>
<circle cx="134.0" cy="291.0" r="2.3"/>
<circle cx="137.7" cy="295.3" r="2.3"/>
<circle cx="141.4" cy="299.3" r="2.3"/>
<circle cx="145.1" cy="302.9" r="2.3"/>
<circle cx="148.8" cy="306.2" r="2.3"/>
<circle cx="152.5" cy="309.3" r="2.3"/>
<circle cx="156.2" cy="312.1" r="2.3"/>
<circle cx="160.0" cy="314.7" r="2.3"/>
<circle cx="163.7" cy="317.1" r="2.3"/>
<circle cx="167.4" cy="319.4" r="2.3"/>
<circle cx="171.1" cy="321.4" r="2.3"/>
<circle cx="174.8" cy="323.3" r="2.3"/>
<circle cx="178.5" cy="325.0" r="2.3"/>
<circle cx="182.2" cy="326.6" r="2.3"/>
<circle cx="185.9" cy="328.1" r="2.3"/>
<circle cx="189.6" cy="329.5" r="2.3"/>
<circle cx="193.3" cy="330.8" r="2.3"/>
<circle cx="197.0" cy="331.9" r="2.3"/>
<circle cx="200.7" cy="333.0" r="2.3"/>
<circle cx="204.5" cy="334.0" r="2.3"/>
<circle cx="208.2" cy="335.0" r="2.3"/>
<circle cx="211.9" cy="335.8" r="2.3"/>
<circle cx="215.6" cy="336.6" r="2.3"/>
<circle cx="219.3" cy="337.3" r="2.3"/>
<circle cx="223.0" cy="338.0" r="2.3"/>
<circle cx="226.7" cy="338.6" r="2.3"/>
<circle cx="230.4" cy="339.2" r="2.3"/>
<circle cx="234.1" cy="339.7" r="2.3"/>
<circle cx="237.8" cy="340.2" r="2.3"/>
<circle cx="241.5" cy="340.7" r="2.3"/>
<circle cx="245.2" cy="341.1" r="2.3"/>
<circle cx="248.9" cy="341.4" r="2.3"/>
<circle cx="252.7" cy="341.8" r="2.3"/>
<circle cx="256.4" cy="342.1" r="2.3"/>
<circle cx="260.1" cy="342.3" r="2.3"/>
<circle cx="263.8" cy="342.6" r="2.3"/>
<circle cx="267.5" cy="342.8" r="2.3"/>
<circle cx="271.2" cy="343.0" r="2.3"/>
<circle cx="274.9" cy="343.2" r="2.3"/>
<circle cx="278.6" cy="343.3" r="2.3"/>
<circle cx="282.3" cy="343.4" r="2.3"/>
<circle cx="286.0" cy="343.5" r="2.3"/>
<circle cx="289.7" cy="343.6" r="2.3"/>
<circle cx="293.4" cy="343.7" r="2.3"/>
<circle cx="297.2" cy="343.8" r="2.3"/>
<circle cx="300.9" cy="343.8" r="2.3"/>
<circle cx="304.6" cy="343.8" r="2.3"/>
<circle cx="308.3" cy="343.8" r="2.3"/>
<circle cx="312.0" cy="343.8" r="2.3"/>
<circle cx="315.7" cy="343.8" r="2.3"/>
<circle cx="319.4" cy="343.8" r="2.3"/>
<circle cx="323.1" cy="343.7" r="2.3"/>
<circle cx="326.8" cy="343.6" r="2.3"/>
<circle cx="330.5" cy="343.6" r="2.3"/>
<circle cx="334.2" cy="343.5" r="2.3"/>
<circle cx="337.9" cy="343.4" r="2.3"/>
<circle cx="341.7" cy="343.3" r="2.3"/>
<circle cx="345.4" cy="343.2" r="2.3"/>
<circle cx="349.1" cy="343.0" r="2.3"/>
<circle cx="352.8" cy="342.9" r="2.3"/>
<circle cx="356.5" cy="342.7" r="2.3"/>
<circle cx="360.2" cy="342.6" r="2.3"/>
<circle cx="363.9" cy="342.4" r="2.3"/>
<circle cx="367.6" cy="342.2" r="2.3"/>
<circle cx="371.3" cy="342.0" r="2.3"/>
<circle cx="375.0" cy="341.9" r="2.3"/>
<circle cx="378.7" cy="341.7" r="2.3"/>
<circle cx="382.4" cy="341.4" r="2.3"/>
<circle cx="386.1" cy="341.2" r="2.3"/>
<circle cx="389.9" cy="341.0" r="2.3"/>
<circle cx="393.6" cy="340.8" r="2.3"/>
<circle cx="397.3" cy="340.5" r="2.3"/>
<circle cx="401.0" cy="340.3" r="2.3"/>
<circle cx="404.7" cy="340.0" r="2.3"/>
<circle cx="408.4" cy="339.7" r="2.3"/>
<circle cx="412.1" cy="339.5" r="2.3"/>
<circle cx="415.8" cy="339.2" r="2.3"/>
<circle cx="419.5" cy="338.9" r="2.3"/>
<circle cx="423.2" cy="338.6" r="2.3"/>
<circle cx="426.9" cy="338.3" r="2.3"/>
<circle cx="430.6" cy="338.0" r="2.3"/>
<circle cx="434.4" cy="337.7" r="2.3"/>
<circle cx="438.1" cy="337.4" r="2.3"/>
<circle cx="441.8" cy="337.1" r="2.3"/>
<circle cx="445.5" cy="336.8" r="2.3"/>
<circle cx="449.2" cy="336.4" r="2.3"/>
<circle cx="452.9" cy="336.1" r="2.3"/>
<circle cx="456.6" cy="335.8" r="2.3"/>
<circle cx="460.3" cy="335.4" r="2.3"/>
<circle cx="464.0" cy="335.1" r="2.3"/>
<circle cx="467.7" cy="334.7" r="2.3"/>
<circle cx="471.4" cy="334.4" r="2.3"/>
<circle cx="475.1" cy="334.0" r="2.3"/>
<circle cx="478.8" cy="333.6" r="2.3"/>
<circle cx="482.6" cy="333.3" r="2.3"/>
<circle cx="486.3" cy="332.9" r="2.3"/>
<circle cx="490.0" cy="332.5" r="2.3"/>
<circle cx="493.7" cy="332.1" r="2.3"/>
<circle cx="497.4" cy="331.7" r="2.3"/>
<circle cx="501.1" cy="331.4" r="2.3"/>
<circle cx="504.8" cy="331.0" r="2.3"/>
<circle cx="508.5" cy="330.6" r="2.3"/>
<circle cx="512.2" cy="330.2" r="2.3"/>
<circle cx="515.9" cy="329.8" r="2.3"/>
<circle cx="519.6" cy="329.4" r="2.3"/>
<circle cx="523.3" cy="329.0" r="2.3"/>
<circle cx="527.0" cy="328.6" r="2.3"/>
<circle cx="530.8" cy="328.2" r="2.3"/>
<circle cx="534.5" cy="327.8" r="2.3"/>
<circle cx="538.2" cy="327.4" r="2.3"/>
<circle cx="541.9" cy="326.9" r="2.3"/>
<circle cx="545.6" cy="326.5" r="2.3"/>
<circle cx="549.3" cy="326.1" r="2.3"/>
<circle cx="553.0" cy="325.7" r="2.3"/>
<circle cx="556.7" cy="325.3" r="2.3"/>
<circle cx="560.4" cy="324.8" r="2.3"/>
<circle cx="564.1" cy="324.4" r="2.3"/>
<circle cx="567.8" cy="324.0" r="2.3"/>
<circle cx="571.5" cy="323.5" r="2.3"/>
<circle cx="575.3" cy="323.1" r="2.3"/>
<circle cx="579.0" cy="322.7" r="2.3"/>
<circle cx="582.7" cy="322.2" r="2.3"/>
<circle cx="586.4" cy="321.8" r="2.3"/>
<circle cx="590.1" cy="321.3" r="2.3"/>
<circle cx="593.8" cy="320.9" r="2.3"/>
<circle cx="597.5" cy="320.4" r="2.3"/>
<circle cx="601.2" cy="320.0" r="2.3"/>
<circle cx="604.9" cy="319.5" r="2.3"/>
<circle cx="608.6" cy="319.0" r="2.3"/>
<circle cx="612.3" cy="318.6" r="2.3"/>
<circle cx="616.0" cy="318.1" r="2.3"/>
<circle cx="619.8" cy="317.7" r="2.3"/>
<circle cx="623.5" cy="317.2" r="2.3"/>
<circle cx="627.2" cy="316.7" r="2.3"/>
<circle cx="630.9" cy="316.2" r="2.3"/>
<circle cx="634.6" cy="315.7" r="2.3"/>
<circle cx="638.3" cy="315.3" r="2.3"/>
<circle cx="642.0" cy="314.8" r="2.3"/>
<circle cx="645.7" cy="314.3" r="2.3"/>
<circle cx="649.4" cy="313.8" r="2.3"/>
<circle cx="653.1" cy="313.3" r="2.3"/>
<circle cx="656.8" cy="312.8" r="2.3"/>
<circle cx="660.5" cy="312.3" r="2.3"/>
<circle cx="664.2" cy="311.8" r="2.3"/>
<circle cx="668.0" cy="311.2" r="2.3"/>
<circle cx="671.7" cy="310.7" r="2.3"/>
<circle cx="675.4" cy="310.2" r="2.3"/>
<circle cx="679.1" cy="309.7" r="2.3"/>
<circle cx="682.8" cy="309.1" r="2.3"/>
<circle cx="686.5" cy="308.6" r="2.3"/>
<circle cx="690.2" cy="308.0" r="2.3"/>
<circle cx="693.9" cy="307.5" r="2.3"/>
<circle cx="697.6" cy="306.9" r="2.3"/>
<circle cx="701.3" cy="306.3" r="2.3"/>
<circle cx="705.0" cy="305.7" r="2.3"/>
<circle cx="708.7" cy="305.2" r="2.3"/>
<circle cx="712.4" cy="304.6" r="2.3"/>
<circle cx="716.2" cy="304.0" r="2.3"/>
<circle cx="719.9" cy="303.3" r="2.3"/>
<circle cx="723.6" cy="302.7" r="2.3"/>
<circle cx="727.3" cy="302.1" r="2.3"/>
<circle cx="731.0" cy="301.4" r="2.3"/>
<circle cx="734.7" cy="300.8" r="2.3"/>
<circle cx="738.4" cy="300.1" r="2.3"/>
<circle cx="742.1" cy="299.4" r="2.3"/>
<circle cx="745.8" cy="298.7" r="2.3"/>
<circle cx="749.5" cy="297.9" r="2.3"/>
<circle cx="753.2" cy="297.2" r="2.3"/>
<circle cx="756.9" cy="296.4" r="2.3"/>
<circle cx="760.7" cy="295.6" r="2.3"/>
<circle cx="764.4" cy="294.8" r="2.3"/>
<circle cx="768.1" cy="293.9" r="2.3"/>
<circle cx="771.8" cy="293.0" r="2.3"/>
<circle cx="775.5" cy="292.1" r="2.3"/>
<circle cx="779.2" cy="291.1" r="2.3"/>
<circle cx="782.9" cy="290.0" r="2.3"/>
<circle cx="786.6" cy="288.8" r="2.3"/>
<circle cx="790.3" cy="287.6" r="2.3"/>
<circle cx="794.0" cy="286.1" r="2.3"/>
<circle cx="797.7" cy="284.4" r="2.3"/>
<circle cx="801.4" cy="282.3" r="2.3"/>
<circle cx="148.8" cy="2.2" r="2.3"/>
<circle cx="152.5" cy="11.5" r="2.3"/>
<circle cx="156.2" cy="20.3" r="2.3"/>
<circle cx="160.0" cy="28.5" r="2.3"/>
<circle cx="163.7" cy="36.2" r="2.3"/>
<circle cx="167.4" cy="43.5" r="2.3"/>
<circle cx="171.1" cy="50.4" r="2.3"/>
<circle cx="174.8" cy="57.0" r="2.3"/>
<circle cx="178.5" cy="63.2" r="2.3"/>
<circle cx="182.2" cy="69.1" r="2.3"/>
<circle cx="185.9" cy="74.7" r="2.3"/>
<circle cx="189.6" cy="80.0" r="2.3"/>
<circle cx="193.3" cy="85.1" r="2.3"/>
<circle cx="197.0" cy="90.0" r="2.3"/>
<circle cx="200.7" cy="94.7" r="2.3"/>
<circle cx="204.5" cy="99.2" r="2.3"/>
<circle cx="208.2" cy="103.5" r="2.3"/>
<circle cx="211.9" cy="107.6" r="2.3"/>
<circle cx="215.6" cy="111.6" r="2.3"/>
<circle cx="219.3" cy="115.5" r="2.3"/>
<circle cx="223.0" cy="119.2" r="2.3"/>
<circle cx="226.7" cy="122.7" r="2.3"/>
<circle cx="230.4" cy="126.2" r="2.3"/>
<circle cx="234.1" cy="129.5" r="2.3"/>
<circle cx="237.8" cy="132.7" r="2.3"/>
<circle cx="241.5" cy="135.9" r="2.3"/>
<circle cx="245.2" cy="138.9" r="2.3"/>
<circle cx="248.9" cy="141.8" r="2.3"/>
<circle cx="252.7" cy="144.7" r="2.3"/>
<circle cx="256.4" cy="147.4" r="2.3"/>
<circle cx="260.1" cy="150.1" r="2.3"/>
<circle cx="263.8" cy="152.7" r="2.3"/>
<circle cx="267.5" cy="155.2" r="2.3"/>
<circle cx="271.2" cy="157.7" r="2.3"/>
<circle cx="274.9" cy="160.1" r="2.3"/>
<circle cx="278.6" cy="162.4" r="2.3"/>
<circle cx="282.3" cy="164.7" r="2.3"/>
<circle cx="286.0" cy="166.9" r="2.3"/>
<circle cx="289.7" cy="169.1" r="2.3"/>
<circle cx="293.4" cy="171.2" r="2.3"/>
<circle cx="297.2" cy="173.3" r="2.3"/>
<circle cx="300.9" cy="175.3" r="2.3"/>
<circle cx="304.6" cy="177.3" r="2.3"/>
<circle cx="308.3" cy="179.2" r="2.3"/>
<circle cx="312.0" cy="181.1" r="2.3"/>
<circle cx="315.7" cy="182.9" r="2.3"/>
<circle cx="319.4" cy="184.7" r="2.3"/>
<circle cx="323.1" cy="186.5" r="2.3"/>
<circle cx="326.8" cy="188.2" r="2.3"/>
<circle cx="330.5" cy="189.9" r="2.3"/>
<circle cx="334.2" cy="191.6" r="2.3"/>
<circle cx="337.9" cy="193.2" r="2.3"/>
<circle cx="341.7" cy="194.8" r="2.3"/>
<circle cx="345.4" cy="196.4" r="2.3"/>
<circle cx="349.1" cy="197.9" r="2.3"/>
<circle cx="352.8" cy="199.4" r="2.3"/>
<circle cx="356.5" cy="200.9" r="2.3"/>
<circle cx="360.2" cy="202.4" r="2.3"/>
<circle cx="363.9" cy="203.8" r="2.3"/>
<circle cx="367.6" cy="205.2" r="2.3"/>
<circle cx="371.3" cy="206.6" r="2.3"/>
<circle cx="375.0" cy="208.0" r="2.3"/>
<circle cx="378.7" cy="209.3" r="2.3"/>
<circle cx="382.4" cy="210.6" r="2.3"/>
<circle cx="386.1" cy="211.9" r="2.3"/>
<circle cx="389.9" cy="213.2" r="2.3"/>
<circle cx="393.6" cy="214.5" r="2.3"/>
<circle cx="397.3" cy="215.7" r="2.3"/>
<circle cx="401.0" cy="216.9" r="2.3"/>
<circle cx="404.7" cy="218.1" r="2.3"/>
<circle cx="408.4" cy="219.3" r="2.3"/>
<circle cx="412.1" cy="220.5" r="2.3"/>
<circle cx="415.8" cy="221.7" r="2.3"/>
<circle cx="419.5" cy="222.8" r="2.3"/>
<circle cx="423.2" cy="223.9" r="2.3"/>
<circle cx="426.9" cy="225.0" r="2.3"/>
<circle cx="430.6" cy="226.1" r="2.3"/>
<circle cx="434.4" cy="227.2" r="2.3"/>
<circle cx="438.1" cy="228.3" r="2.3"/>
<circle cx="441.8" cy="229.3" r="2.3"/>
<circle cx="445.5" cy="230.4" r="2.3"/>
<circle cx="449.2" cy="231.4" r="2.3"/>
<circle cx="452.9" cy="232.4" r="2.3"/>
<circle cx="456.6" cy="233.4" r="2.3"/>
<circle cx="460.3" cy="234.4" r="2.3"/>
<circle cx="464.0" cy="235.4" r="2.3"/>
<circle cx="467.7" cy="236.4" r="2.3"/>
<circle cx="471.4" cy="237.3" r="2.3"/>
<circle cx="475.1" cy="238.3" r="2.3"/>
<circle cx="478.8" cy="239.2" r="2.3"/>
<circle cx="482.6" cy="240.1" r="2.3"/>
<circle cx="486.3" cy="241.1" r="2.3"/>
<circle cx="490.0" cy="242.0" r="2.3"/>
<circle cx="493.7" cy="242.9" r="2.3"/>
<circle cx="497.4" cy="243.8" r="2.3"/>
<circle cx="501.1" cy="244.7" r="2.3"/>
<circle cx="504.8" cy="245.6" r="2.3"/>
<circle cx="508.5" cy="246.4" r="2.3"/>
<circle cx="512.2" cy="247.3" r="2.3"/>
<circle cx="515.9" cy="248.1" r="2.3"/>
<circle cx="519.6" cy="249.0" r="2.3"/>
<circle cx="523.3" cy="249.8" r="2.3"/>
<circle cx="527.0" cy="250.7" r="2.3"/>
<circle cx="530.8" cy="251.5" r="2.3"/>
<circle cx="534.5" cy="252.3" r="2.3"/>
<circle cx="538.2" cy="253.1" r="2.3"/>
<circle cx="541.9" cy="254.0" r="2.3"/>
<circle cx="545.6" cy="254.8" r="2.3"/>
<circle cx="549.3" cy="255.6" r="2.3"/>
<circle cx="553.0" cy="256.4" r="2.3"/>
<circle cx="556.7" cy="257.1" r="2.3"/>
<circle cx="560.4" cy="257.9" r="2.3"/>
<circle cx="564.1" cy="258.7" r="2.3"/>
<circle cx="567.8" cy="259.5" r="2.3"/>
<circle cx="571.5" cy="260.3" r="2.3"/>
<circle cx="575.3" cy="261.0" r="2.3"/>
<circle cx="579.0" cy="261.8" r="2.3"/>
<circle cx="582.7" cy="262.6" r="2.3"/>
<circle cx="586.4" cy="263.3" r="2.3"/>
<circle cx="590.1" cy="264.1" r="2.3"/>
<circle cx="593.8" cy="264.9" r="2.3"/>
<circle cx="597.5" cy="265.7" r="2.3"/>
<circle cx="601.2" cy="266.4" r="2.3"/>
<circle cx="604.9" cy="267.2" r="2.3"/>
<circle cx="608.6" cy="268.0" r="2.3"/>
<circle cx="612.3" cy="268.8" r="2.3"/>
<circle cx="616.0" cy="269.6" r="2.3"/>
<circle cx="619.8" cy="270.3" r="2.3"/>
<circle cx="623.5" cy="271.1" r="2.3"/>
<circle cx="627.2" cy="271.9" r="2.3"/>
<circle cx="630.9" cy="272.8" r="2.3"/>
<circle cx="634.6" cy="273.6" r="2.3"/>
<circle cx="638.3" cy="274.4" r="2.3"/>
<circle cx="642.0" cy="275.2" r="2.3"/>
<circle cx="645.7" cy="276.0" r="2.3"/>
<circle cx="649.4" cy="276.9" r="2.3"/>
<circle cx="653.1" cy="277.7" r="2.3"/>
<circle cx="656.8" cy="278.5" r="2.3"/>
<circle cx="660.5" cy="279.3" r="2.3"/>
<circle cx="664.2" cy="280.2" r="2.3"/>
<circle cx="668.0" cy="281.0" r="2.3"/>
<circle cx="671.7" cy="281.8" r="2.3"/>
<circle cx="675.4" cy="282.6" r="2.3"/>
<circle cx="679.1" cy="283.3" r="2.3"/>
<circle cx="682.8" cy="284.1" r="2.3"/>
<circle cx="686.5" cy="284.9" r="2.3"/>
<circle cx="690.2" cy="285.6" r="2.3"/>
<circle cx="693.9" cy="286.4" r="2.3"/>
<circle cx="697.6" cy="287.2" r="2.3"/>
<circle cx="701.3" cy="287.9" r="2.3"/>
<circle cx="705.0" cy="288.7" r="2.3"/>
<circle cx="708.7" cy="289.4" r="2.3"/>
<circle cx="712.4" cy="290.2" r="2.3"/>
<circle cx="716.2" cy="290.9" r="2.3"/>
<circle cx="719.9" cy="291.7" r="2.3"/>
<circle cx="723.6" cy="292.4" r="2.3"/>
<circle cx="727.3" cy="293.2" r="2.3"/>
<circle cx="731.0" cy="294.0" r="2.3"/>
<circle cx="734.7" cy="294.8" r="2.3"/>
<circle cx="738.4" cy="295.6" r="2.3"/>
<circle cx="742.1" cy="296.4" r="2.3"/>
<circle cx="745.8" cy="297.3" r="2.3"/>
<circle cx="749.5" cy="298.1" r="2.3"/>
<circle cx="753.2" cy="299.0" r="2.3"/>
<circle cx="756.9" cy="299.9" r="2.3"/>
<circle cx="760.7" cy="300.9" r="2.3"/>
<circle cx="764.4" cy="301.9" r="2.3"/>
<circle cx="768.1" cy="302.9" r="2.3"/>
<circle cx="771.8" cy="304.0" r="2.3"/>
<circle cx="775.5" cy="305.1" r="2.3"/>
<circle cx="779.2" cy="306.3" r="2.3"/>
<circle cx="782.9" cy="307.5" r="2.3"/>
<circle cx="786.6" cy="308.9" r="2.3"/>
<circle cx="790.3" cy="310.4" r="2.3"/>
<circle cx="794.0" cy="312.1" r="2.3"/>
<circle cx="797.7" cy="314.1" r="2.3"/>
<circle cx="801.4" cy="316.6" r="2.3"/>
<circle cx="805.1" cy="322.4" r="2.3"/>
<circle cx="111.8" cy="7.2" r="2.3"/>
<circle cx="115.5" cy="28.2" r="2.3"/>
<circle cx="119.2" cy="47.1" r="2.3"/>
<circle cx="122.9" cy="64.1" r="2.3"/>
<circle cx="126.6" cy="79.7" r="2.3"/>
<circle cx="130.3" cy="93.8" r="2.3"/>
<circle cx="134.0" cy="106.8" r="2.3"/>
<circle cx="137.7" cy="118.8" r="2.3"/>
<circle cx="141.4" cy="129.8" r="2.3"/>
<circle cx="145.1" cy="140.0" r="2.3"/>
<circle cx="148.8" cy="149.5" r="2.3"/>
<circle cx="152.5" cy="158.4" r="2.3"/>
<circle cx="156.2" cy="166.6" r="2.3"/>
<circle cx="160.0" cy="174.4" r="2.3"/>
<circle cx="163.7" cy="181.6" r="2.3"/>
<circle cx="167.4" cy="188.5" r="2.3"/>
<circle cx="171.1" cy="194.9" r="2.3"/>
<circle cx="174.8" cy="201.0" r="2.3"/>
<circle cx="178.5" cy="206.7" r="2.3"/>
<circle cx="182.2" cy="212.2" r="2.3"/>
<circle cx="185.9" cy="217.4" r="2.3"/>
<circle cx="189.6" cy="222.3" r="2.3"/>
<circle cx="193.3" cy="227.0" r="2.3"/>
<circle cx="197.0" cy="231.4" r="2.3"/>
<circle cx="200.7" cy="235.7" r="2.3"/>
<circle cx="204.5" cy="239.7" r="2.3"/>
<circle cx="208.2" cy="243.6" r="2.3"/>
<circle cx="211.9" cy="247.3" r="2.3"/>
<circle cx="215.6" cy="250.9" r="2.3"/>
<circle cx="219.3" cy="254.3" r="2.3"/>
<circle cx="223.0" cy="257.6" r="2.3"/>
<circle cx="226.7" cy="260.7" r="2.3"/>
<circle cx="230.4" cy="263.8" r="2.3"/>
<circle cx="234.1" cy="266.7" r="2.3"/>
<circle cx="237.8" cy="269.5" r="2.3"/>
<circle cx="241.5" cy="272.2" r="2.3"/>
<circle cx="245.2" cy="274.9" r="2.3"/>
<circle cx="248.9" cy="277.4" r="2.3"/>
<circle cx="252.7" cy="279.8" r="2.3"/>
<circle cx="256.4" cy="282.2" r="2.3"/>
<circle cx="260.1" cy="284.4" r="2.3"/>
<circle cx="263.8" cy="286.6" r="2.3"/>
<circle cx="267.5" cy="288.7" r="2.3"/>
<circle cx="271.2" cy="290.8" r="2.3"/>
<circle cx="274.9" cy="292.7" r="2.3"/>
<circle cx="278.6" cy="294.6" r="2.3"/>
<circle cx="282.3" cy="296.4" r="2.3"/>
<circle cx="286.0" cy="298.1" r="2.3"/>
<circle cx="289.7" cy="299.8" r="2.3"/>
<circle cx="293.4" cy="301.3" r="2.3"/>
<circle cx="297.2" cy="302.9" r="2.3"/>
<circle cx="300.9" cy="304.3" r="2.3"/>
<circle cx="304.6" cy="305.7" r="2.3"/>
<circle cx="308.3" cy="307.1" r="2.3"/>
<circle cx="312.0" cy="308.4" r="2.3"/>
<circle cx="315.7" cy="309.6" r="2.3"/>
<circle cx="319.4" cy="310.8" r="2.3"/>
<circle cx="323.1" cy="311.9" r="2.3"/>
<circle cx="326.8" cy="313.0" r="2.3"/>
<circle cx="330.5" cy="314.1" r="2.3"/>
<circle cx="334.2" cy="315.1" r="2.3"/>
<circle cx="337.9" cy="316.1" r="2.3"/>
<circle cx="341.7" cy="317.1" r="2.3"/>
<circle cx="345.4" cy="318.0" r="2.3"/>
<circle cx="349.1" cy="319.0" r="2.3"/>
<circle cx="352.8" cy="319.9" r="2.3"/>
<circle cx="356.5" cy="320.8" r="2.3"/>
<circle cx="360.2" cy="321.7" r="2.3"/>
<circle cx="363.9" cy="322.6" r="2.3"/>
<circle cx="367.6" cy="323.4" r="2.3"/>
<circle cx="371.3" cy="324.3" r="2.3"/>
<circle cx="375.0" cy="325.2" r="2.3"/>
<circle cx="378.7" cy="326.0" r="2.3"/>
<circle cx="382.4" cy="326.9" r="2.3"/>
<circle cx="386.1" cy="327.7" r="2.3"/>
<circle cx="389.9" cy="328.6" r="2.3"/>
<circle cx="393.6" cy="329.4" r="2.3"/>
<circle cx="397.3" cy="330.3" r="2.3"/>
<circle cx="401.0" cy="331.1" r="2.3"/>
<circle cx="404.7" cy="331.9" r="2.3"/>
<circle cx="408.4" cy="332.7" r="2.3"/>
<circle cx="412.1" cy="333.5" r="2.3"/>
<circle cx="415.8" cy="334.3" r="2.3"/>
<circle cx="419.5" cy="335.0" r="2.3"/>
<circle cx="423.2" cy="335.7" r="2.3"/>
<circle cx="426.9" cy="336.4" r="2.3"/>
<circle cx="430.6" cy="337.1" r="2.3"/>
<circle cx="434.4" cy="337.7" r="2.3"/>
<circle cx="438.1" cy="338.3" r="2.3"/>
<circle cx="441.8" cy="338.9" r="2.3"/>
<circle cx="445.5" cy="339.4" r="2.3"/>
<circle cx="449.2" cy="339.9" r="2.3"/>
<circle cx="452.9" cy="340.5" r="2.3"/>
<circle cx="456.6" cy="340.9" r="2.3"/>
<circle cx="460.3" cy="341.4" r="2.3"/>
<circle cx="464.0" cy="341.9" r="2.3"/>
<circle cx="467.7" cy="342.3" r="2.3"/>
<circle cx="471.4" cy="342.7" r="2.3"/>
<circle cx="475.1" cy="343.1" r="2.3"/>
<circle cx="478.8" cy="343.5" r="2.3"/>
<circle cx="482.6" cy="343.8" r="2.3"/>
<circle cx="486.3" cy="344.2" r="2.3"/>
<circle cx="490.0" cy="344.5" r="2.3"/>
<circle cx="493.7" cy="344.8" r="2.3"/>
<circle cx="497.4" cy="345.1" r="2.3"/>
<circle cx="501.1" cy="345.4" r="2.3"/>
<circle cx="504.8" cy="345.6" r="2.3"/>
<circle cx="508.5" cy="345.9" r="2.3"/>
<circle cx="512.2" cy="346.1" r="2.3"/>
<circle cx="515.9" cy="346.4" r="2.3"/>
<circle cx="519.6" cy="346.6" r="2.3"/>
<circle cx="523.3" cy="346.8" r="2.3"/>
<circle cx="527.0" cy="347.0" r="2.3"/>
<circle cx="530.8" cy="347.1" r="2.3"/>
<circle cx="534.5" cy="347.3" r="2.3"/>
<circle cx="538.2" cy="347.5" r="2.3"/>
<circle cx="541.9" cy="347.6" r="2.3"/>
<circle cx="545.6" cy="347.8" r="2.3"/>
<circle cx="549.3" cy="347.9" r="2.3"/>
<circle cx="553.0" cy="348.0" r="2.3"/>
<circle cx="556.7" cy="348.1" r="2.3"/>
<circle cx="560.4" cy="348.2" r="2.3"/>
<circle cx="564.1" cy="348.3" r="2.3"/>
<circle cx="567.8" cy="348.4" r="2.3"/>
<circle cx="571.5" cy="348.5" r="2.3"/>
<circle cx="575.3" cy="348.5" r="2.3"/>
<circle cx="579.0" cy="348.6" r="2.3"/>
<circle cx="582.7" cy="348.7" r="2.3"/>
<circle cx="586.4" cy="348.7" r="2.3"/>
<circle cx="590.1" cy="348.7" r="2.3"/>
<circle cx="593.8" cy="348.8" r="2.3"/>
<circle cx="597.5" cy="348.8" r="2.3"/>
<circle cx="601.2" cy="348.8" r="2.3"/>
<circle cx="604.9" cy="348.8" r="2.3"/>
<circle cx="608.6" cy="348.8" r="2.3"/>
<circle cx="612.3" cy="348.8" r="2.3"/>
<circle cx="616.0" cy="348.8" r="2.3"/>
<circle cx="619.8" cy="348.8" r="2.3"/>
<circle cx="623.5" cy="348.7" r="2.3"/>
<circle cx="627.2" cy="348.7" r="2.3"/>
<circle cx="630.9" cy="348.7" r="2.3"/>
<circle cx="634.6" cy="348.6" r="2.3"/>
<circle cx="638.3" cy="348.5" r="2.3"/>
<circle cx="642.0" cy="348.5" r="2.3"/>
<circle cx="645.7" cy="348.4" r="2.3"/>
<circle cx="649.4" cy="348.3" r="2.3"/>
<circle cx="653.1" cy="348.2" r="2.3"/>
<circle cx="656.8" cy="348.1" r="2.3"/>
<circle cx="660.5" cy="348.0" r="2.3"/>
<circle cx="664.2" cy="347.8" r="2.3"/>
<circle cx="668.0" cy="347.7" r="2.3"/>
<circle cx="671.7" cy="347.6" r="2.3"/>
<circle cx="675.4" cy="347.4" r="2.3"/>
<circle cx="679.1" cy="347.2" r="2.3"/>
<circle cx="682.8" cy="347.0" r="2.3"/>
<circle cx="686.5" cy="346.9" r="2.3"/>
<circle cx="690.2" cy="346.6" r="2.3"/>
<circle cx="693.9" cy="346.4" r="2.3"/>
<circle cx="697.6" cy="346.2" r="2.3"/>
<circle cx="701.3" cy="346.0" r="2.3"/>
<circle cx="705.0" cy="345.7" r="2.3"/>
<circle cx="708.7" cy="345.4" r="2.3"/>
<circle cx="712.4" cy="345.1" r="2.3"/>
<circle cx="716.2" cy="344.8" r="2.3"/>
<circle cx="719.9" cy="344.5" r="2.3"/>
<circle cx="723.6" cy="344.2" r="2.3"/>
<circle cx="727.3" cy="343.8" r="2.3"/>
<circle cx="731.0" cy="343.4" r="2.3"/>
<circle cx="734.7" cy="343.1" r="2.3"/>
<circle cx="738.4" cy="342.6" r="2.3"/>
<circle cx="742.1" cy="342.2" r="2.3"/>
<circle cx="745.8" cy="341.7" r="2.3"/>
<circle cx="749.5" cy="341.3" r="2.3"/>
<circle cx="753.2" cy="340.7" r="2.3"/>
<circle cx="756.9" cy="340.2" r="2.3"/>
<circle cx="760.7" cy="339.6" r="2.3"/>
<circle cx="764.4" cy="339.0" r="2.3"/>
<circle cx="768.1" cy="338.3" r="2.3"/>
<circle cx="771.8" cy="337.6" r="2.3"/>
<circle cx="775.5" cy="336.9" r="2.3"/>
<circle cx="779.2" cy="336.0" r="2.3"/>
<circle cx="782.9" cy="335.1" r="2.3"/>
<circle cx="786.6" cy="334.1" r="2.3"/>
<circle cx="790.3" cy="333.0" r="2.3"/>
<circle cx="794.0" cy="331.7" r="2.3"/>
<circle cx="797.7" cy="330.1" r="2.3"/>
<circle cx="801.4" cy="327.9" r="2.3"/>
</g>
<g fill="#0000ff">
<circle cx="67.3" cy="134.4" r="1.87"/>
<circle cx="71.0" cy="134.8" r="1.87"/>
<circle cx="74.7" cy="135.1" r="1.87"/>
<circle cx="78.4" cy="135.5" r="1.87"/>
<circle cx="82.1" cy="135.9" r="1.87"/>
<circle cx="85.8" cy="136.2" r="1.87"/>
<circle cx="89.5" cy="136.6" r="1.87"/>
<circle cx="93.2" cy="136.9" r="1.87"/>
<circle cx="96.9" cy="137.3" r="1.87"/>
<circle cx="100.6" cy="137.6" r="1.87"/>
<circle cx="104.3" cy="138.0" r="1.87"/>
<circle cx="108.0" cy="138.3" r="1.87"/>
<circle cx="111.8" cy="138.7" r="1.87"/>
<circle cx="115.5" cy="139.0" r="1.87"/>
<circle cx="119.2" cy="139.4" r="1.87"/>
<circle cx="122.9" cy="139.7" r="1.87"/>
<circle cx="126.6" cy="140.1" r="1.87"/>
<circle cx="130.3" cy="140.4" r="1.87"/>
<circle cx="134.0" cy="140.8" r="1.87"/>
<circle cx="137.7" cy="141.1" r="1.87"/>
<circle cx="141.4" cy="141.5" r="1.87"/>
<circle cx="145.1" cy="141.9" r="1.87"/>
<circle cx="148.8" cy="142.2" r="1.87"/>
<circle cx="152.5" cy="142.6" r="1.87"/>
<circle cx="156.2" cy="142.9" r="1.87"/>
<circle cx="160.0" cy="143.3" r="1.87"/>
<circle cx="163.7" cy="143.6" r="1.87"/>
<circle cx="167.4" cy="144.0" r="1.87"/>
<circle cx="171.1" cy="144.3" r="1.87"/>
<circle cx="174.8" cy="144.7" r="1.87"/>
<circle cx="178.5" cy="145.0" r="1.87"/>
<circle cx="182.2" cy="145.4" r="1.87"/>
<circle cx="185.9" cy="145.8" r="1.87"/>
<circle cx="189.6" cy="146.1" r="1.87"/>
<circle cx="193.3" cy="146.5" r="1.87"/>
<circle cx="197.0" cy="146.8" r="1.87"/>
<circle cx="200.7" cy="147.2" r="1.87"/>
<circle cx="204.5" cy="147.6" r="1.87"/>
<circle cx="208.2" cy="147.9" r="1.87"/>
<circle cx="211.9" cy="148.3" r="1.87"/>
<circle cx="215.6" cy="148.6" r="1.87"/>
<circle cx="219.3" cy="149.0" r="1.87"/>
<circle cx="223.0" cy="149.4" r="1.87"/>
<circle cx="226.7" cy="149.7" r="1.87"/>
<circle cx="230.4" cy="150.1" r="1.87"/>
<circle cx="234.1" cy="150.5" r="1.87"/>
<circle cx="237.8" cy="150.8" r="1.87"/>
<circle cx="241.5" cy="151.2" r="1.87"/>
<circle cx="245.2" cy="151.6" r="1.87"/>
<circle cx="248.9" cy="151.9" r="1.87"/>
<circle cx="252.7" cy="152.3" r="1.87"/>
<circle cx="256.4" cy="152.7" r="1.87"/>
<circle cx="260.1" cy="153.0" r="1.87"/>
<circle cx="263.8" cy="153.4" r="1.87"/>
<circle cx="267.5" cy="153.8" r="1.87"/>
<circle cx="271.2" cy="154.2" r="1.87"/>
<circle cx="274.9" cy="154.5" r="1.87"/>
<circle cx="278.6" cy="154.9" r="1.87"/>
<circle cx="282.3" cy="155.3" r="1.87"/>
<circle cx="286.0" cy="155.7" r="1.87"/>
<circle cx="289.7" cy="156.0" r="1.87"/>
<circle cx="293.4" cy="156.4" r="1.87"/>
<circle cx="297.2" cy="156.8" r="1.87"/>
<circle cx="300.9" cy="157.2" r="1.87"/>
<circle cx="304.6" cy="157.6" r="1.87"/>
<circle cx="308.3" cy="158.0" r="1.87"/>
<circle cx="312.0" cy="158.3" r="1.87"/>
<circle cx="315.7" cy="158.7" r="1.87"/>
<circle cx="319.4" cy="159.1" r="1.87"/>
<circle cx="323.1" cy="159.5" r="1.87"/>
<circle cx="326.8" cy="159.9" r="1.87"/>
<circle cx="330.5" cy="160.3" r="1.87"/>
<circle cx="334.2" cy="160.7" r="1.87"/>
<circle cx="337.9" cy="161.1" r="1.87"/>
<circle cx="341.7" cy="161.5" r="1.87"/>
<circle cx="345.4" cy="161.9" r="1.87"/>
<circle cx="349.1" cy="162.3" r="1.87"/>
<circle cx="352.8" cy="162.7" r="1.87"/>
<circle cx="356.5" cy="163.1" r="1.87"/>
<circle cx="360.2" cy="163.5" r="1.87"/>
<circle cx="363.9" cy="163.9" r="1.87"/>
<circle cx="367.6" cy="164.3" r="1.87"/>
<circle cx="371.3" cy="164.7" r="1.87"/>
<circle cx="375.0" cy="165.1" r="1.87"/>
<circle cx="378.7" cy="165.5" r="1.87"/>
<circle cx="382.4" cy="165.9" r="1.87"/>
<circle cx="386.1" cy="166.4" r="1.87"/>
<circle cx="389.9" cy="166.8" r="1.87"/>
<circle cx="393.6" cy="167.2" r="1.87"/>
<circle cx="397.3" cy="167.6" r="1.87"/>
<circle cx="401.0" cy="168.0" r="1.87"/>
<circle cx="404.7" cy="168.5" r="1.87"/>
<circle cx="408.4" cy="168.9" r="1.87"/>
<circle cx="412.1" cy="169.3" r="1.87"/>
<circle cx="415.8" cy="169.8" r="1.87"/>
<circle cx="419.5" cy="170.2" r="1.87"/>
<circle cx="423.2" cy="170.6" r="1.87"/>
<circle cx="426.9" cy="171.1" r="1.87"/>
<circle cx="430.6" cy="171.5" r="1.87"/>
<circle cx="434.4" cy="171.9" r="1.87"/>
<circle cx="438.1" cy="172.4" r="1.87"/>
<circle cx="441.8" cy="172.8" r="1.87"/>
<circle cx="445.5" cy="173.3" r="1.87"/>
<circle cx="449.2" cy="173.7" r="1.87"/>
<circle cx="452.9" cy="174.2" r="1.87"/>
<circle cx="456.6" cy="174.6" r="1.87"/>
<circle cx="460.3" cy="175.1" r="1.87"/>
<circle cx="464.0" cy="175.5" r="1.87"/>
<circle cx="467.7" cy="176.0" r="1.87"/>
<circle cx="471.4" cy="176.5" r="1.87"/>
<circle cx="475.1" cy="176.9" r="1.87"/>
<circle cx="478.8" cy="177.4" r="1.87"/>
<circle cx="482.6" cy="177.9" r="1.87"/>
<circle cx="486.3" cy="178.3" r="1.87"/>
<circle cx="490.0" cy="178.8" r="1.87"/>
<circle cx="493.7" cy="179.3" r="1.87"/>
<circle cx="497.4" cy="179.8" r="1.87"/>
<circle cx="501.1" cy="180.2" r="1.87"/>
<circle cx="504.8" cy="180.7" r="1.87"/>
<circle cx="508.5" cy="181.2" r="1.87"/>
<circle cx="512.2" cy="181.7" r="1.87"/>
<circle cx="515.9" cy="182.2" r="1.87"/>
<circle cx="519.6" cy="182.7" r="1.87"/>
<circle cx="523.3" cy="183.2" r="1.87"/>
<circle cx="527.0" cy="183.7" r="1.87"/>
<circle cx="530.8" cy="184.2" r="1.87"/>
<circle cx="534.5" cy="184.7" r="1.87"/>
<circle cx="538.2" cy="185.2" r="1.87"/>
<circle cx="541.9" cy="185.7" r="1.87"/>
<circle cx="545.6" cy="186.2" r="1.87"/>
<circle cx="549.3" cy="186.7" r="1.87"/>
<circle cx="553.0" cy="187.2" r="1.87"/>
<circle cx="556.7" cy="187.8" r="1.87"/>
<circle cx="560.4" cy="188.3" r="1.87"/>
<circle cx="564.1" cy="188.8" r="1.87"/>
<circle cx="567.8" cy="189.3" r="1.87"/>
<circle cx="571.5" cy="189.9" r="1.87"/>
<circle cx="575.3" cy="190.4" r="1.87"/>
<circle cx="579.0" cy="190.9" r="1.87"/>
<circle cx="582.7" cy="191.5" r="1.87"/>
<circle cx="586.4" cy="192.0" r="1.87"/>
<circle cx="590.1" cy="192.6" r="1.87"/>
<circle cx="593.8" cy="193.1" r="1.87"/>
<circle cx="597.5" cy="193.7" r="1.87"/>
<circle cx="601.2" cy="194.2" r="1.87"/>
<circle cx="604.9" cy="194.8" r="1.87"/>
<circle cx="608.6" cy="195.3" r="1.87"/>
<circle cx="612.3" cy="195.9" r="1.87"/>
<circle cx="616.0" cy="196.5" r="1.87"/>
<circle cx="619.8" cy="197.1" r="1.87"/>
<circle cx="623.5" cy="197.6" r="1.87"/>
<circle cx="627.2" cy="198.2" r="1.87"/>
<circle cx="630.9" cy="198.8" r="1.87"/>
<circle cx="634.6" cy="199.4" r="1.87"/>
<circle cx="638.3" cy="200.0" r="1.87"/>
<circle cx="642.0" cy="200.6" r="1.87"/>
<circle cx="645.7" cy="201.2" r="1.87"/>
<circle cx="649.4" cy="201.8" r="1.87"/>
<circle cx="653.1" cy="202.4" r="1.87"/>
<circle cx="656.8" cy="203.0" r="1.87"/>
<circle cx="660.5" cy="203.7" r="1.87"/>
<circle cx="664.2" cy="204.3" r="1.87"/>
<circle cx="668.0" cy="204.9" r="1.87"/>
<circle cx="671.7" cy="205.6" r="1.87"/>
<circle cx="675.4" cy="206.2" r="1.87"/>
<circle cx="679.1" cy="206.9" r="1.87"/>
<circle cx="682.8" cy="207.5" r="1.87"/>
<circle cx="686.5" cy="208.2" r="1.87"/>
<circle cx="690.2" cy="208.9" r="1.87"/>
<circle cx="693.9" cy="209.5" r="1.87"/>
<circle cx="697.6" cy="210.2" r="1.87"/>
<circle cx="701.3" cy="210.9" r="1.87"/>
<circle cx="705.0" cy="211.6" r="1.87"/>
<circle cx="708.7" cy="212.3" r="1.87"/>
<circle cx="712.4" cy="213.0" r="1.87"/>
<circle cx="716.2" cy="213.7" r="1.87"/>
<circle cx="719.9" cy="214.5" r="1.87"/>
<circle cx="723.6" cy="215.2" r="1.87"/>
<circle cx="727.3" cy="215.9" r="1.87"/>
<circle cx="731.0" cy="216.7" r="1.87"/>
<circle cx="734.7" cy="217.5" r="1.87"/>
<circle cx="738.4" cy="218.2" r="1.87"/>
<circle cx="742.1" cy="219.0" r="1.87"/>
<circle cx="745.8" cy="219.8" r="1.87"/>
<circle cx="749.5" cy="220.6" r="1.87"/>
<circle cx="753.2" cy="221.3" r="1.87"/>
<circle cx="756.9" cy="222.2" r="1.87"/>
<circle cx="760.7" cy="223.0" r="1.87"/>
<circle cx="764.4" cy="223.8" r="1.87"/>
<circle cx="768.1" cy="224.6" r="1.87"/>
<circle cx="771.8" cy="225.5" r="1.87"/>
<circle cx="775.5" cy="226.3" r="1.87"/>
<circle cx="779.2" cy="227.2" r="1.87"/>
<circle cx="782.9" cy="228.0" r="1.87"/>
<circle cx="786.6" cy="228.9" r="1.87"/>
<circle cx="790.3" cy="229.8" r="1.87"/>
<circle cx="794.0" cy="230.7" r="1.87"/>
<circle cx="797.7" cy="231.6" r="1.87"/>
<circle cx="801.4" cy="232.5" r="1.87"/>
<circle cx="805.1" cy="233.4" r="1.87"/>
<circle cx="67.3" cy="323.2" r="1.87"/>
<circle cx="71.0" cy="322.8" r="1.87"/>
<circle cx="74.7" cy="322.5" r="1.87"/>
<circle cx="78.4" cy="322.1" r="1.87"/>
<circle cx="82.1" cy="321.8" r="1.87"/>
<circle cx="85.8" cy="321.4" r="1.87"/>
<circle cx="89.5" cy="321.1" r="1.87"/>
<circle cx="93.2" cy="320.7" r="1.87"/>
<circle cx="96.9" cy="320.4" r="1.87"/>
<circle cx="100.6" cy="320.0" r="1.87"/>
<circle cx="104.3" cy="319.6" r="1.87"/>
<circle cx="108.0" cy="319.3" r="1.87"/>
<circle cx="111.8" cy="318.9" r="1.87"/>
<circle cx="115.5" cy="318.6" r="1.87"/>
<circle cx="119.2" cy="318.2" r="1.87"/>
<circle cx="122.9" cy="317.8" r="1.87"/>
<circle cx="126.6" cy="317.5" r="1.87"/>
<circle cx="130.3" cy="317.1" r="1.87"/>
<circle cx="134.0" cy="316.7" r="1.87"/>
<circle cx="137.7" cy="316.4" r="1.87"/>
<circle cx="141.4" cy="316.0" r="1.87"/>
<circle cx="145.1" cy="315.6" r="1.87"/>
<circle cx="148.8" cy="315.2" r="1.87"/>
<circle cx="152.5" cy="314.8" r="1.87"/>
<circle cx="156.2" cy="314.5" r="1.87"/>
<circle cx="160.0" cy="314.1" r="1.87"/>
<circle cx="163.7" cy="313.7" r="1.87"/>
<circle cx="167.4" cy="313.3" r="1.87"/>
<circle cx="171.1" cy="312.9" r="1.87"/>
<circle cx="174.8" cy="312.5" r="1.87"/>
<circle cx="178.5" cy="312.2" r="1.87"/>
<circle cx="182.2" cy="311.8" r="1.87"/>
<circle cx="185.9" cy="311.4" r="1.87"/>
<circle cx="189.6" cy="311.0" r="1.87"/>
<circle cx="193.3" cy="310.6" r="1.87"/>
<circle cx="197.0" cy="310.2" r="1.87"/>
<circle cx="200.7" cy="309.8" r="1.87"/>
<circle cx="204.5" cy="309.4" r="1.87"/>
<circle cx="208.2" cy="309.0" r="1.87"/>
<circle cx="211.9" cy="308.6" r="1.87"/>
<circle cx="215.6" cy="308.2" r="1.87"/>
<circle cx="219.3" cy="307.8" r="1.87"/>
<circle cx="223.0" cy="307.4" r="1.87"/>
<circle cx="226.7" cy="307.0" r="1.87"/>
<circle cx="230.4" cy="306.6" r="1.87"/>
<circle cx="234.1" cy="306.2" r="1.87"/>
<circle cx="237.8" cy="305.8" r="1.87"/>
<circle cx="241.5" cy="305.3" r="1.87"/>
<circle cx="245.2" cy="304.9" r="1.87"/>
<circle cx="248.9" cy="304.5" r="1.87"/>
<circle cx="252.7" cy="304.1" r="1.87"/>
<circle cx="256.4" cy="303.7" r="1.87"/>
<circle cx="260.1" cy="303.3" r="1.87"/>
<circle cx="263.8" cy="302.9" r="1.87"/>
<circle cx="267.5" cy="302.4" r="1.87"/>
<circle cx="271.2" cy="302.0" r="1.87"/>
<circle cx="274.9" cy="301.6" r="1.87"/>
<circle cx="278.6" cy="301.2" r="1.87"/>
<circle cx="282.3" cy="300.7" r="1.87"/>
<circle cx="286.0" cy="300.3" r="1.87"/>
<circle cx="289.7" cy="299.9" r="1.87"/>
<circle cx="293.4" cy="299.5" r="1.87"/>
<circle cx="297.2" cy="299.0" r="1.87"/>
<circle cx="300.9" cy="298.6" r="1.87"/>
<circle cx="304.6" cy="298.2" r="1.87"/>
<circle cx="308.3" cy="297.7" r="1.87"/>
<circle cx="312.0" cy="297.3" r="1.87"/>
<circle cx="315.7" cy="296.9" r="1.87"/>
<circle cx="319.4" cy="296.4" r="1.87"/>
<circle cx="323.1" cy="296.0" r="1.87"/>
<circle cx="326.8" cy="295.6" r="1.87"/>
<circle cx="330.5" cy="295.1" r="1.87"/>
<circle cx="334.2" cy="294.7" r="1.87"/>
<circle cx="337.9" cy="294.2" r="1.87"/>
<circle cx="341.7" cy="293.8" r="1.87"/>
<circle cx="345.4" cy="293.4" r="1.87"/>
<circle cx="349.1" cy="292.9" r="1.87"/>
<circle cx="352.8" cy="292.5" r="1.87"/>
<circle cx="356.5" cy="292.0" r="1.87"/>
<circle cx="360.2" cy="291.6" r="1.87"/>
<circle cx="363.9" cy="291.1" r="1.87"/>
<circle cx="367.6" cy="290.7" r="1.87"/>
<circle cx="371.3" cy="290.2" r="1.87"/>
<circle cx="375.0" cy="289.8" r="1.87"/>
<circle cx="378.7" cy="289.3" r="1.87"/>
<circle cx="382.4" cy="288.9" r="1.87"/>
<circle cx="386.1" cy="288.4" r="1.87"/>
<circle cx="389.9" cy="288.0" r="1.87"/>
<circle cx="393.6" cy="287.5" r="1.87"/>
<circle cx="397.3" cy="287.0" r="1.87"/>
<circle cx="401.0" cy="286.6" r="1.87"/>
<circle cx="404.7" cy="286.1" r="1.87"/>
<circle cx="408.4" cy="285.7" r="1.87"/>
<circle cx="412.1" cy="285.2" r="1.87"/>
<circle cx="415.8" cy="284.8" r="1.87"/>
<circle cx="419.5" cy="284.3" r="1.87"/>
<circle cx="423.2" cy="283.8" r="1.87"/>
<circle cx="426.9" cy="283.4" r="1.87"/>
<circle cx="430.6" cy="282.9" r="1.87"/>
<circle cx="434.4" cy="282.4" r="1.87"/>
<circle cx="438.1" cy="282.0" r="1.87"/>
<circle cx="441.8" cy="281.5" r="1.87"/>
<circle cx="445.5" cy="281.0" r="1.87"/>
<circle cx="449.2" cy="280.6" r="1.87"/>
<circle cx="452.9" cy="280.1" r="1.87"/>
<circle cx="456.6" cy="279.6" r="1.87"/>
<circle cx="460.3" cy="279.2" r="1.87"/>
<circle cx="464.0" cy="278.7" r="1.87"/>
<circle cx="467.7" cy="278.2" r="1.87"/>
<circle cx="471.4" cy="277.7" r="1.87"/>
<circle cx="475.1" cy="277.3" r="1.87"/>
<circle cx="478.8" cy="276.8" r="1.87"/>
<circle cx="482.6" cy="276.3" r="1.87"/>
<circle cx="486.3" cy="275.8" r="1.87"/>
<circle cx="490.0" cy="275.4" r="1.87"/>
<circle cx="493.7" cy="274.9" r="1.87"/>
<circle cx="497.4" cy="274.4" r="1.87"/>
<circle cx="501.1" cy="273.9" r="1.87"/>
<circle cx="504.8" cy="273.5" r="1.87"/>
<circle cx="508.5" cy="273.0" r="1.87"/>
<circle cx="512.2" cy="272.5" r="1.87"/>
<circle cx="515.9" cy="272.0" r="1.87"/>
<circle cx="519.6" cy="271.5" r="1.87"/>
<circle cx="523.3" cy="271.1" r="1.87"/>
<circle cx="527.0" cy="270.6" r="1.87"/>
<circle cx="530.8" cy="270.1" r="1.87"/>
<circle cx="534.5" cy="269.6" r="1.87"/>
<circle cx="538.2" cy="269.1" r="1.87"/>
<circle cx="541.9" cy="268.6" r="1.87"/>
<circle cx="545.6" cy="268.2" r="1.87"/>
<circle cx="549.3" cy="267.7" r="1.87"/>
<circle cx="553.0" cy="267.2" r="1.87"/>
<circle cx="556.7" cy="266.7" r="1.87"/>
<circle cx="560.4" cy="266.2" r="1.87"/>
<circle cx="564.1" cy="265.7" r="1.87"/>
<circle cx="567.8" cy="265.2" r="1.87"/>
<circle cx="571.5" cy="264.7" r="1.87"/>
<circle cx="575.3" cy="264.3" r="1.87"/>
<circle cx="579.0" cy="263.8" r="1.87"/>
<circle cx="582.7" cy="263.3" r="1.87"/>
<circle cx="586.4" cy="262.8" r="1.87"/>
<circle cx="590.1" cy="262.3" r="1.87"/>
<circle cx="593.8" cy="261.8" r="1.87"/>
<circle cx="597.5" cy="261.3" r="1.87"/>
<circle cx="601.2" cy="260.8" r="1.87"/>
<circle cx="604.9" cy="260.3" r="1.87"/>
<circle cx="608.6" cy="259.8" r="1.87"/>
<circle cx="612.3" cy="259.4" r="1.87"/>
<circle cx="616.0" cy="258.9" r="1.87"/>
<circle cx="619.8" cy="258.4" r="1.87"/>
<circle cx="623.5" cy="257.9" r="1.87"/>
<circle cx="627.2" cy="257.4" r="1.87"/>
<circle cx="630.9" cy="256.9" r="1.87"/>
<circle cx="634.6" cy="256.4" r="1.87"/>
<circle cx="638.3" cy="255.9" r="1.87"/>
<circle cx="642.0" cy="255.4" r="1.87"/>
<circle cx="645.7" cy="254.9" r="1.87"/>
<circle cx="649.4" cy="254.4" r="1.87"/>
<circle cx="653.1" cy="253.9" r="1.87"/>
<circle cx="656.8" cy="253.4" r="1.87"/>
<circle cx="660.5" cy="252.9" r="1.87"/>
<circle cx="664.2" cy="252.4" r="1.87"/>
<circle cx="668.0" cy="251.9" r="1.87"/>
<circle cx="671.7" cy="251.4" r="1.87"/>
<circle cx="675.4" cy="250.9" r="1.87"/>
<circle cx="679.1" cy="250.4" r="1.87"/>
<circle cx="682.8" cy="249.9" r="1.87"/>
<circle cx="686.5" cy="249.4" r="1.87"/>
<circle cx="690.2" cy="248.9" r="1.87"/>
<circle cx="693.9" cy="248.4" r="1.87"/>
<circle cx="697.6" cy="247.9" r="1.87"/>
<circle cx="701.3" cy="247.4" r="1.87"/>
<circle cx="705.0" cy="246.9" r="1.87"/>
<circle cx="708.7" cy="246.4" r="1.87"/>
<circle cx="712.4" cy="245.9" r="1.87"/>
<circle cx="716.2" cy="245.4" r="1.87"/>
<circle cx="719.9" cy="244.9" r="1.87"/>
<circle cx="723.6" cy="244.4" r="1.87"/>
<circle cx="727.3" cy="243.9" r="1.87"/>
<circle cx="731.0" cy="243.4" r="1.87"/>
<circle cx="734.7" cy="242.9" r="1.87"/>
<circle cx="738.4" cy="242.4" r="1.87"/>
<circle cx="742.1" cy="241.9" r="1.87"/>
<circle cx="745.8" cy="241.4" r="1.87"/>
<circle cx="749.5" cy="240.9" r="1.87"/>
<circle cx="753.2" cy="240.4" r="1.87"/>
<circle cx="756.9" cy="240.0" r="1.87"/>
<circle cx="760.7" cy="239.5" r="1.87"/>
<circle cx="764.4" cy="239.0" r="1.87"/>
<circle cx="768.1" cy="238.5" r="1.87"/>
<circle cx="771.8" cy="238.0" r="1.87"/>
<circle cx="775.5" cy="237.5" r="1.87"/>
<circle cx="779.2" cy="237.0" r="1.87"/>
<circle cx="782.9" cy="236.5" r="1.87"/>
<circle cx="786.6" cy="236.0" r="1.87"/>
<circle cx="790.3" cy="235.5" r="1.87"/>
<circle cx="794.0" cy="235.0" r="1.87"/>
<circle cx="797.7" cy="234.5" r="1.87"/>
<circle cx="801.4" cy="234.0" r="1.87"/>
<circle cx="805.1" cy="233.5" r="1.87"/>
<circle cx="67.3" cy="134.3" r="1.87"/>
<circle cx="71.0" cy="135.5" r="1.87"/>
<circle cx="74.7" cy="134.8" r="1.87"/>
<circle cx="78.4" cy="134.8" r="1.87"/>
<circle cx="82.1" cy="135.1" r="1.87"/>
<circle cx="85.8" cy="135.6" r="1.87"/>
<circle cx="89.5" cy="136.2" r="1.87"/>
<circle cx="93.2" cy="136.7" r="1.87"/>
<circle cx="96.9" cy="137.3" r="1.87"/>
<circle cx="100.6" cy="137.8" r="1.87"/>
<circle cx="104.3" cy="138.3" r="1.87"/>
<circle cx="108.0" cy="138.8" r="1.87"/>
<circle cx="111.8" cy="139.3" r="1.87"/>
<circle cx="115.5" cy="139.7" r="1.87"/>
<circle cx="119.2" cy="140.1" r="1.87"/>
<circle cx="122.9" cy="140.5" r="1.87"/>
<circle cx="126.6" cy="140.9" r="1.87"/>
<circle cx="130.3" cy="141.2" r="1.87"/>
<circle cx="134.0" cy="141.6" r="1.87"/>
<circle cx="137.7" cy="141.9" r="1.87"/>
<circle cx="141.4" cy="142.2" r="1.87"/>
<circle cx="145.1" cy="142.5" r="1.87"/>
<circle cx="148.8" cy="142.8" r="1.87"/>
<circle cx="152.5" cy="143.1" r="1.87"/>
<circle cx="156.2" cy="143.4" r="1.87"/>
<circle cx="160.0" cy="143.7" r="1.87"/>
<circle cx="163.7" cy="144.0" r="1.87"/>
<circle cx="167.4" cy="144.3" r="1.87"/>
<circle cx="171.1" cy="144.6" r="1.87"/>
<circle cx="174.8" cy="145.0" r="1.87"/>
<circle cx="178.5" cy="145.3" r="1.87"/>
<circle cx="182.2" cy="145.6" r="1.87"/>
<circle cx="185.9" cy="145.9" r="1.87"/>
<circle cx="189.6" cy="146.2" r="1.87"/>
<circle cx="193.3" cy="146.6" r="1.87"/>
<circle cx="197.0" cy="146.9" r="1.87"/>
<circle cx="200.7" cy="147.2" r="1.87"/>
<circle cx="204.5" cy="147.5" r="1.87"/>
<circle cx="208.2" cy="147.9" r="1.87"/>
<circle cx="211.9" cy="148.2" r="1.87"/>
<circle cx="215.6" cy="148.5" r="1.87"/>
<circle cx="219.3" cy="148.9" r="1.87"/>
<circle cx="223.0" cy="149.2" r="1.87"/>
<circle cx="226.7" cy="149.5" r="1.87"/>
<circle cx="230.4" cy="149.9" r="1.87"/>
<circle cx="234.1" cy="150.2" r="1.87"/>
<circle cx="237.8" cy="150.5" r="1.87"/>
<circle cx="241.5" cy="150.8" r="1.87"/>
<circle cx="245.2" cy="151.2" r="1.87"/>
<circle cx="248.9" cy="151.5" r="1.87"/>
<circle cx="252.7" cy="151.8" r="1.87"/>
<circle cx="256.4" cy="152.2" r="1.87"/>
<circle cx="260.1" cy="152.5" r="1.87"/>
<circle cx="263.8" cy="152.8" r="1.87"/>
<circle cx="267.5" cy="153.2" r="1.87"/>
<circle cx="271.2" cy="153.5" r="1.87"/>
<circle cx="274.9" cy="153.8" r="1.87"/>
<circle cx="278.6" cy="154.2" r="1.87"/>
<circle cx="282.3" cy="154.5" r="1.87"/>
<circle cx="286.0" cy="154.8" r="1.87"/>
<circle cx="289.7" cy="155.2" r="1.87"/>
<circle cx="293.4" cy="155.5" r="1.87"/>
<circle cx="297.2" cy="155.9" r="1.87"/>
<circle cx="300.9" cy="156.2" r="1.87"/>
<circle cx="304.6" cy="156.6" r="1.87"/>
<circle cx="308.3" cy="156.9" r="1.87"/>
<circle cx="312.0" cy="157.3" r="1.87"/>
<circle cx="315.7" cy="157.6" r="1.87"/>
<circle cx="319.4" cy="158.0" r="1.87"/>
<circle cx="323.1" cy="158.4" r="1.87"/>
<circle cx="326.8" cy="158.7" r="1.87"/>
<circle cx="330.5" cy="159.1" r="1.87"/>
<circle cx="334.2" cy="159.5" r="1.87"/>
<circle cx="337.9" cy="159.9" r="1.87"/>
<circle cx="341.7" cy="160.3" r="1.87"/>
<circle cx="345.4" cy="160.7" r="1.87"/>
<circle cx="349.1" cy="161.1" r="1.87"/>
<circle cx="352.8" cy="161.5" r="1.87"/>
<circle cx="356.5" cy="161.9" r="1.87"/>
<circle cx="360.2" cy="162.3" r="1.87"/>
<circle cx="363.9" cy="162.7" r="1.87"/>
<circle cx="367.6" cy="163.1" r="1.87"/>
<circle cx="371.3" cy="163.6" r="1.87"/>
<circle cx="375.0" cy="164.0" r="1.87"/>
<circle cx="378.7" cy="164.5" r="1.87"/>
<circle cx="382.4" cy="164.9" r="1.87"/>
<circle cx="386.1" cy="165.4" r="1.87"/>
<circle cx="389.9" cy="165.9" r="1.87"/>
<circle cx="393.6" cy="166.3" r="1.87"/>
<circle cx="397.3" cy="166.8" r="1.87"/>
<circle cx="401.0" cy="167.3" r="1.87"/>
<circle cx="404.7" cy="167.8" r="1.87"/>
<circle cx="408.4" cy="168.3" r="1.87"/>
<circle cx="412.1" cy="168.9" r="1.87"/>
<circle cx="415.8" cy="169.4" r="1.87"/>
<circle cx="419.5" cy="169.9" r="1.87"/>
<circle cx="423.2" cy="170.5" r="1.87"/>
<circle cx="426.9" cy="171.0" r="1.87"/>
<circle cx="430.6" cy="171.5" r="1.87"/>
<circle cx="434.4" cy="172.1" r="1.87"/>
<circle cx="438.1" cy="172.6" r="1.87"/>
<circle cx="441.8" cy="173.2" r="1.87"/>
<circle cx="445.5" cy="173.8" r="1.87"/>
<circle cx="449.2" cy="174.3" r="1.87"/>
<circle cx="452.9" cy="174.9" r="1.87"/>
<circle cx="456.6" cy="175.5" r="1.87"/>
<circle cx="460.3" cy="176.0" r="1.87"/>
<circle cx="464.0" cy="176.6" r="1.87"/>
<circle cx="467.7" cy="177.2" r="1.87"/>
<circle cx="471.4" cy="177.8" r="1.87"/>
<circle cx="475.1" cy="178.4" r="1.87"/>
<circle cx="478.8" cy="178.9" r="1.87"/>
<circle cx="482.6" cy="179.5" r="1.87"/>
<circle cx="486.3" cy="180.1" r="1.87"/>
<circle cx="490.0" cy="180.7" r="1.87"/>
<circle cx="493.7" cy="181.3" r="1.87"/>
<circle cx="497.4" cy="181.9" r="1.87"/>
<circle cx="501.1" cy="182.5" r="1.87"/>
<circle cx="504.8" cy="183.1" r="1.87"/>
<circle cx="508.5" cy="183.7" r="1.87"/>
<circle cx="512.2" cy="184.3" r="1.87"/>
<circle cx="515.9" cy="184.9" r="1.87"/>
<circle cx="519.6" cy="185.5" r="1.87"/>
<circle cx="523.3" cy="186.1" r="1.87"/>
<circle cx="527.0" cy="186.7" r="1.87"/>
<circle cx="530.8" cy="187.3" r="1.87"/>
<circle cx="534.5" cy="187.9" r="1.87"/>
<circle cx="538.2" cy="188.6" r="1.87"/>
<circle cx="541.9" cy="189.2" r="1.87"/>
<circle cx="545.6" cy="189.8" r="1.87"/>
<circle cx="549.3" cy="190.4" r="1.87"/>
<circle cx="553.0" cy="191.0" r="1.87"/>
<circle cx="556.7" cy="191.6" r="1.87"/>
<circle cx="560.4" cy="192.2" r="1.87"/>
<circle cx="564.1" cy="192.9" r="1.87"/>
<circle cx="567.8" cy="193.5" r="1.87"/>
<circle cx="571.5" cy="194.1" r="1.87"/>
<circle cx="575.3" cy="194.7" r="1.87"/>
<circle cx="579.0" cy="195.3" r="1.87"/>
<circle cx="582.7" cy="196.0" r="1.87"/>
<circle cx="586.4" cy="196.6" r="1.87"/>
<circle cx="590.1" cy="197.2" r="1.87"/>
<circle cx="593.8" cy="197.9" r="1.87"/>
<circle cx="597.5" cy="198.5" r="1.87"/>
<circle cx="601.2" cy="199.1" r="1.87"/>
<circle cx="604.9" cy="199.8" r="1.87"/>
<circle cx="608.6" cy="200.4" r="1.87"/>
<circle cx="612.3" cy="201.0" r="1.87"/>
<circle cx="616.0" cy="201.7" r="1.87"/>
<circle cx="619.8" cy="202.3" r="1.87"/>
<circle cx="623.5" cy="203.0" r="1.87"/>
<circle cx="627.2" cy="203.6" r="1.87"/>
<circle cx="630.9" cy="204.3" r="1.87"/>
<circle cx="634.6" cy="204.9" r="1.87"/>
<circle cx="638.3" cy="205.6" r="1.87"/>
<circle cx="642.0" cy="206.2" r="1.87"/>
<circle cx="645.7" cy="206.9" r="1.87"/>
<circle cx="649.4" cy="207.6" r="1.87"/>
<circle cx="653.1" cy="208.2" r="1.87"/>
<circle cx="656.8" cy="208.9" r="1.87"/>
<circle cx="660.5" cy="209.6" r="1.87"/>
<circle cx="664.2" cy="210.3" r="1.87"/>
<circle cx="668.0" cy="210.9" r="1.87"/>
<circle cx="671.7" cy="211.6" r="1.87"/>
<circle cx="675.4" cy="212.3" r="1.87"/>
<circle cx="679.1" cy="213.0" r="1.87"/>
<circle cx="682.8" cy="213.7" r="1.87"/>
<circle cx="686.5" cy="214.4" r="1.87"/>
<circle cx="690.2" cy="215.2" r="1.87"/>
<circle cx="693.9" cy="215.9" r="1.87"/>
<circle cx="697.6" cy="216.6" r="1.87"/>
<circle cx="701.3" cy="217.3" r="1.87"/>
<circle cx="705.0" cy="218.1" r="1.87"/>
<circle cx="708.7" cy="218.8" r="1.87"/>
<circle cx="712.4" cy="219.6" r="1.87"/>
<circle cx="716.2" cy="220.4" r="1.87"/>
<circle cx="719.9" cy="221.2" r="1.87"/>
<circle cx="723.6" cy="221.9" r="1.87"/>
<circle cx="727.3" cy="222.7" r="1.87"/>
<circle cx="731.0" cy="223.6" r="1.87"/>
<circle cx="734.7" cy="224.4" r="1.87"/>
<circle cx="738.4" cy="225.2" r="1.87"/>
<circle cx="742.1" cy="226.1" r="1.87"/>
<circle cx="745.8" cy="227.0" r="1.87"/>
<circle cx="749.5" cy="227.9" r="1.87"/>
<circle cx="753.2" cy="228.8" r="1.87"/>
<circle cx="756.9" cy="229.8" r="1.87"/>
<circle cx="760.7" cy="230.7" r="1.87"/>
<circle cx="764.4" cy="231.8" r="1.87"/>
<circle cx="768.1" cy="232.8" r="1.87"/>
<circle cx="771.8" cy="233.9" r="1.87"/>
<circle cx="775.5" cy="235.0" r="1.87"/>
<circle cx="779.2" cy="236.3" r="1.87"/>
<circle cx="782.9" cy="237.5" r="1.87"/>
<circle cx="786.6" cy="238.9" r="1.87"/>
<circle cx="790.3" cy="240.4" r="1.87"/>
<circle cx="794.0" cy="242.1" r="1.87"/>
<circle cx="797.7" cy="244.0" r="1.87"/>
<circle cx="801.4" cy="246.5" r="1.87"/>
<circle cx="805.1" cy="252.2" r="1.87"/>
<circle cx="82.1" cy="10.0" r="1.87"/>
<circle cx="85.8" cy="47.8" r="1.87"/>
<circle cx="89.5" cy="76.4" r="1.87"/>
<circle cx="93.2" cy="99.1" r="1.87"/>
<circle cx="96.9" cy="117.5" r="1.87"/>
<circle cx="100.6" cy="132.8" r="1.87"/>
<circle cx="104.3" cy="145.8" r="1.87"/>
<circle cx="108.0" cy="157.0" r="1.87"/>
<circle cx="111.8" cy="166.8" r="1.87"/>
<circle cx="115.5" cy="175.4" r="1.87"/>
<circle cx="119.2" cy="183.0" r="1.87"/>
<circle cx="122.9" cy="189.7" r="1.87"/>
<circle cx="126.6" cy="195.8" r="1.87"/>
<circle cx="130.3" cy="201.3" r="1.87"/>
<circle cx="134.0" cy="206.2" r="1.87"/>
<circle cx="137.7" cy="210.8" r="1.87"/>
<circle cx="141.4" cy="214.9" r="1.87"/>
<circle cx="145.1" cy="218.7" r="1.87"/>
<circle cx="148.8" cy="222.2" r="1.87"/>
<circle cx="152.5" cy="225.4" r="1.87"/>
<circle cx="156.2" cy="228.4" r="1.87"/>
<circle cx="160.0" cy="231.1" r="1.87"/>
<circle cx="163.7" cy="233.7" r="1.87"/>
<circle cx="167.4" cy="236.1" r="1.87"/>
<circle cx="171.1" cy="238.4" r="1.87"/>
<circle cx="174.8" cy="240.5" r="1.87"/>
<circle cx="178.5" cy="242.4" r="1.87"/>
<circle cx="182.2" cy="244.3" r="1.87"/>
<circle cx="185.9" cy="246.1" r="1.87"/>
<circle cx="189.6" cy="247.7" r="1.87"/>
<circle cx="193.3" cy="249.3" r="1.87"/>
<circle cx="197.0" cy="250.8" r="1.87"/>
<circle cx="200.7" cy="252.2" r="1.87"/>
<circle cx="204.5" cy="253.5" r="1.87"/>
<circle cx="208.2" cy="254.8" r="1.87"/>
<circle cx="211.9" cy="256.0" r="1.87"/>
<circle cx="215.6" cy="257.1" r="1.87"/>
<circle cx="219.3" cy="258.2" r="1.87"/>
<circle cx="223.0" cy="259.3" r="1.87"/>
<circle cx="226.7" cy="260.3" r="1.87"/>
<circle cx="230.4" cy="261.2" r="1.87"/>
<circle cx="234.1" cy="262.1" r="1.87"/>
<circle cx="237.8" cy="263.0" r="1.87"/>
<circle cx="241.5" cy="263.8" r="1.87"/>
<circle cx="245.2" cy="264.6" r="1.87"/>
<circle cx="248.9" cy="265.4" r="1.87"/>
<circle cx="252.7" cy="266.1" r="1.87"/>
<circle cx="256.4" cy="266.9" r="1.87"/>
<circle cx="260.1" cy="267.5" r="1.87"/>
<circle cx="263.8" cy="268.2" r="1.87"/>
<circle cx="267.5" cy="268.8" r="1.87"/>
<circle cx="271.2" cy="269.5" r="1.87"/>
<circle cx="274.9" cy="270.0" r="1.87"/>
<circle cx="278.6" cy="270.6" r="1.87"/>
<circle cx="282.3" cy="271.2" r="1.87"/>
<circle cx="286.0" cy="271.7" r="1.87"/>
<circle cx="289.7" cy="272.2" r="1.87"/>
<circle cx="293.4" cy="272.7" r="1.87"/>
<circle cx="297.2" cy="273.2" r="1.87"/>
<circle cx="300.9" cy="273.6" r="1.87"/>
<circle cx="304.6" cy="274.1" r="1.87"/>
<circle cx="308.3" cy="274.5" r="1.87"/>
<circle cx="312.0" cy="274.9" r="1.87"/>
<circle cx="315.7" cy="275.3" r="1.87"/>
<circle cx="319.4" cy="275.7" r="1.87"/>
<circle cx="323.1" cy="276.1" r="1.87"/>
<circle cx="326.8" cy="276.5" r="1.87"/>
<circle cx="330.5" cy="276.8" r="1.87"/>
<circle cx="334.2" cy="277.2" r="1.87"/>
<circle cx="337.9" cy="277.5" r="1.87"/>
<circle cx="341.7" cy="277.8" r="1.87"/>
<circle cx="345.4" cy="278.1" r="1.87"/>
<circle cx="349.1" cy="278.4" r="1.87"/>
<circle cx="352.8" cy="278.7" r="1.87"/>
<circle cx="356.5" cy="278.9" r="1.87"/>
<circle cx="360.2" cy="279.2" r="1.87"/>
<circle cx="363.9" cy="279.4" r="1.87"/>
<circle cx="367.6" cy="279.7" r="1.87"/>
<circle cx="371.3" cy="279.9" r="1.87"/>
<circle cx="375.0" cy="280.1" r="1.87"/>
<circle cx="378.7" cy="280.3" r="1.87"/>
<circle cx="382.4" cy="280.5" r="1.87"/>
<circle cx="386.1" cy="280.7" r="1.87"/>
<circle cx="389.9" cy="280.9" r="1.87"/>
<circle cx="393.6" cy="281.1" r="1.87"/>
<circle cx="397.3" cy="281.2" r="1.87"/>
<circle cx="401.0" cy="281.4" r="1.87"/>
<circle cx="404.7" cy="281.5" r="1.87"/>
<circle cx="408.4" cy="281.7" r="1.87"/>
<circle cx="412.1" cy="281.8" r="1.87"/>
<circle cx="415.8" cy="281.9" r="1.87"/>
<circle cx="419.5" cy="282.1" r="1.87"/>
<circle cx="423.2" cy="282.2" r="1.87"/>
<circle cx="426.9" cy="282.3" r="1.87"/>
<circle cx="430.6" cy="282.4" r="1.87"/>
<circle cx="434.4" cy="282.5" r="1.87"/>
<circle cx="438.1" cy="282.6" r="1.87"/>
<circle cx="441.8" cy="282.6" r="1.87"/>
<circle cx="445.5" cy="282.7" r="1.87"/>
<circle cx="449.2" cy="282.8" r="1.87"/>
<circle cx="452.9" cy="282.8" r="1.87"/>
<circle cx="456.6" cy="282.9" r="1.87"/>
<circle cx="460.3" cy="283.0" r="1.87"/>
<circle cx="464.0" cy="283.0" r="1.87"/>
<circle cx="467.7" cy="283.0" r="1.87"/>
<circle cx="471.4" cy="283.1" r="1.87"/>
<circle cx="475.1" cy="283.1" r="1.87"/>
<circle cx="478.8" cy="283.1" r="1.87"/>
<circle cx="482.6" cy="283.1" r="1.87"/>
<circle cx="486.3" cy="283.1" r="1.87"/>
<circle cx="490.0" cy="283.2" r="1.87"/>
<circle cx="493.7" cy="283.2" r="1.87"/>
<circle cx="497.4" cy="283.2" r="1.87"/>
<circle cx="501.1" cy="283.1" r="1.87"/>
<circle cx="504.8" cy="283.1" r="1.87"/>
<circle cx="508.5" cy="283.1" r="1.87"/>
<circle cx="512.2" cy="283.1" r="1.87"/>
<circle cx="515.9" cy="283.1" r="1.87"/>
<circle cx="519.6" cy="283.0" r="1.87"/>
<circle cx="523.3" cy="283.0" r="1.87"/>
<circle cx="527.0" cy="283.0" r="1.87"/>
<circle cx="530.8" cy="282.9" r="1.87"/>
<circle cx="534.5" cy="282.9" r="1.87"/>
<circle cx="538.2" cy="282.8" r="1.87"/>
<circle cx="541.9" cy="282.7" r="1.87"/>
<circle cx="545.6" cy="282.7" r="1.87"/>
<circle cx="549.3" cy="282.6" r="1.87"/>
<circle cx="553.0" cy="282.5" r="1.87"/>
<circle cx="556.7" cy="282.5" r="1.87"/>
<circle cx="560.4" cy="282.4" r="1.87"/>
<circle cx="564.1" cy="282.3" r="1.87"/>
<circle cx="567.8" cy="282.2" r="1.87"/>
<circle cx="571.5" cy="282.1" r="1.87"/>
<circle cx="575.3" cy="282.0" r="1.87"/>
<circle cx="579.0" cy="281.9" r="1.87"/>
<circle cx="582.7" cy="281.8" r="1.87"/>
<circle cx="586.4" cy="281.7" r="1.87"/>
<circle cx="590.1" cy="281.5" r="1.87"/>
<circle cx="593.8" cy="281.4" r="1.87"/>
<circle cx="597.5" cy="281.3" r="1.87"/>
<circle cx="601.2" cy="281.2" r="1.87"/>
<circle cx="604.9" cy="281.0" r="1.87"/>
<circle cx="608.6" cy="280.9" r="1.87"/>
<circle cx="612.3" cy="280.7" r="1.87"/>
<circle cx="616.0" cy="280.6" r="1.87"/>
<circle cx="619.8" cy="280.4" r="1.87"/>
<circle cx="623.5" cy="280.3" r="1.87"/>
<circle cx="627.2" cy="280.1" r="1.87"/>
<circle cx="630.9" cy="279.9" r="1.87"/>
<circle cx="634.6" cy="279.7" r="1.87"/>
<circle cx="638.3" cy="279.6" r="1.87"/>
<circle cx="642.0" cy="279.4" r="1.87"/>
<circle cx="645.7" cy="279.2" r="1.87"/>
<circle cx="649.4" cy="279.0" r="1.87"/>
<circle cx="653.1" cy="278.8" r="1.87"/>
<circle cx="656.8" cy="278.5" r="1.87"/>
<circle cx="660.5" cy="278.3" r="1.87"/>
<circle cx="664.2" cy="278.1" r="1.87"/>
<circle cx="668.0" cy="277.9" r="1.87"/>
<circle cx="671.7" cy="277.6" r="1.87"/>
<circle cx="675.4" cy="277.4" r="1.87"/>
<circle cx="679.1" cy="277.1" r="1.87"/>
<circle cx="682.8" cy="276.9" r="1.87"/>
<circle cx="686.5" cy="276.6" r="1.87"/>
<circle cx="690.2" cy="276.3" r="1.87"/>
<circle cx="693.9" cy="276.0" r="1.87"/>
<circle cx="697.6" cy="275.8" r="1.87"/>
<circle cx="701.3" cy="275.5" r="1.87"/>
<circle cx="705.0" cy="275.1" r="1.87"/>
<circle cx="708.7" cy="274.8" r="1.87"/>
<circle cx="712.4" cy="274.5" r="1.87"/>
<circle cx="716.2" cy="274.1" r="1.87"/>
<circle cx="719.9" cy="273.8" r="1.87"/>
<circle cx="723.6" cy="273.4" r="1.87"/>
<circle cx="727.3" cy="273.0" r="1.87"/>
<circle cx="731.0" cy="272.6" r="1.87"/>
<circle cx="734.7" cy="272.2" r="1.87"/>
<circle cx="738.4" cy="271.8" r="1.87"/>
<circle cx="742.1" cy="271.3" r="1.87"/>
<circle cx="745.8" cy="270.9" r="1.87"/>
<circle cx="749.5" cy="270.4" r="1.87"/>
<circle cx="753.2" cy="269.9" r="1.87"/>
<circle cx="756.9" cy="269.3" r="1.87"/>
<circle cx="760.7" cy="268.8" r="1.87"/>
<circle cx="764.4" cy="268.2" r="1.87"/>
<circle cx="768.1" cy="267.5" r="1.87"/>
<circle cx="771.8" cy="266.9" r="1.87"/>
<circle cx="775.5" cy="266.1" r="1.87"/>
<circle cx="779.2" cy="265.3" r="1.87"/>
<circle cx="782.9" cy="264.4" r="1.87"/>
<circle cx="786.6" cy="263.5" r="1.87"/>
<circle cx="790.3" cy="262.4" r="1.87"/>
<circle cx="794.0" cy="261.1" r="1.87"/>
<circle cx="797.7" cy="259.6" r="1.87"/>
<circle cx="801.4" cy="257.5" r="1.87"/>
<circle cx="108.0" cy="6.7" r="1.87"/>
<circle cx="111.8" cy="17.1" r="1.87"/>
<circle cx="115.5" cy="26.2" r="1.87"/>
<circle cx="119.2" cy="34.2" r="1.87"/>
<circle cx="122.9" cy="41.4" r="1.87"/>
<circle cx="126.6" cy="47.9" r="1.87"/>
<circle cx="130.3" cy="53.7" r="1.87"/>
<circle cx="134.0" cy="59.1" r="1.87"/>
<circle cx="137.7" cy="63.9" r="1.87"/>
<circle cx="141.4" cy="68.4" r="1.87"/>
<circle cx="145.1" cy="72.6" r="1.87"/>
<circle cx="148.8" cy="76.4" r="1.87"/>
<circle cx="152.5" cy="80.0" r="1.87"/>
<circle cx="156.2" cy="83.3" r="1.87"/>
<circle cx="160.0" cy="86.5" r="1.87"/>
<circle cx="163.7" cy="89.4" r="1.87"/>
<circle cx="167.4" cy="92.3" r="1.87"/>
<circle cx="171.1" cy="94.9" r="1.87"/>
<circle cx="174.8" cy="97.4" r="1.87"/>
<circle cx="178.5" cy="99.8" r="1.87"/>
<circle cx="182.2" cy="102.1" r="1.87"/>
<circle cx="185.9" cy="104.3" r="1.87"/>
<circle cx="189.6" cy="106.4" r="1.87"/>
<circle cx="193.3" cy="108.4" r="1.87"/>
<circle cx="197.0" cy="110.3" r="1.87"/>
<circle cx="200.7" cy="112.2" r="1.87"/>
<circle cx="204.5" cy="114.0" r="1.87"/>
<circle cx="208.2" cy="115.7" r="1.87"/>
<circle cx="211.9" cy="117.4" r="1.87"/>
<circle cx="215.6" cy="119.0" r="1.87"/>
<circle cx="219.3" cy="120.5" r="1.87"/>
<circle cx="223.0" cy="122.0" r="1.87"/>
<circle cx="226.7" cy="123.5" r="1.87"/>
<circle cx="230.4" cy="124.9" r="1.87"/>
<circle cx="234.1" cy="126.3" r="1.87"/>
<circle cx="237.8" cy="127.6" r="1.87"/>
<circle cx="241.5" cy="128.9" r="1.87"/>
<circle cx="245.2" cy="130.2" r="1.87"/>
<circle cx="248.9" cy="131.5" r="1.87"/>
<circle cx="252.7" cy="132.7" r="1.87"/>
<circle cx="256.4" cy="133.8" r="1.87"/>
<circle cx="260.1" cy="135.0" r="1.87"/>
<circle cx="263.8" cy="136.1" r="1.87"/>
<circle cx="267.5" cy="137.2" r="1.87"/>
<circle cx="271.2" cy="138.3" r="1.87"/>
<circle cx="274.9" cy="139.3" r="1.87"/>
<circle cx="278.6" cy="140.4" r="1.87"/>
<circle cx="282.3" cy="141.4" r="1.87"/>
<circle cx="286.0" cy="142.4" r="1.87"/>
<circle cx="289.7" cy="143.3" r="1.87"/>
<circle cx="293.4" cy="144.3" r="1.87"/>
<circle cx="297.2" cy="145.2" r="1.87"/>
<circle cx="300.9" cy="146.2" r="1.87"/>
<circle cx="304.6" cy="147.1" r="1.87"/>
<circle cx="308.3" cy="147.9" r="1.87"/>
<circle cx="312.0" cy="148.8" r="1.87"/>
<circle cx="315.7" cy="149.7" r="1.87"/>
<circle cx="319.4" cy="150.5" r="1.87"/>
<circle cx="323.1" cy="151.3" r="1.87"/>
<circle cx="326.8" cy="152.2" r="1.87"/>
<circle cx="330.5" cy="153.0" r="1.87"/>
<circle cx="334.2" cy="153.8" r="1.87"/>
<circle cx="337.9" cy="154.5" r="1.87"/>
<circle cx="341.7" cy="155.3" r="1.87"/>
<circle cx="345.4" cy="156.1" r="1.87"/>
<circle cx="349.1" cy="156.8" r="1.87"/>
<circle cx="352.8" cy="157.6" r="1.87"/>
<circle cx="356.5" cy="158.3" r="1.87"/>
<circle cx="360.2" cy="159.0" r="1.87"/>
<circle cx="363.9" cy="159.7" r="1.87"/>
<circle cx="367.6" cy="160.4" r="1.87"/>
<circle cx="371.3" cy="161.1" r="1.87"/>
<circle cx="375.0" cy="161.8" r="1.87"/>
<circle cx="378.7" cy="162.5" r="1.87"/>
<circle cx="382.4" cy="163.2" r="1.87"/>
<circle cx="386.1" cy="163.8" r="1.87"/>
<circle cx="389.9" cy="164.5" r="1.87"/>
<circle cx="393.6" cy="165.2" r="1.87"/>
<circle cx="397.3" cy="165.8" r="1.87"/>
<circle cx="401.0" cy="166.4" r="1.87"/>
<circle cx="404.7" cy="167.1" r="1.87"/>
<circle cx="408.4" cy="167.7" r="1.87"/>
<circle cx="412.1" cy="168.3" r="1.87"/>
<circle cx="415.8" cy="168.9" r="1.87"/>
<circle cx="419.5" cy="169.5" r="1.87"/>
<circle cx="423.2" cy="170.1" r="1.87"/>
<circle cx="426.9" cy="170.7" r="1.87"/>
<circle cx="430.6" cy="171.3" r="1.87"/>
<circle cx="434.4" cy="171.9" r="1.87"/>
<circle cx="126.6" cy="7.6" r="1.87"/>
<circle cx="130.3" cy="21.9" r="1.87"/>
<circle cx="134.0" cy="35.0" r="1.87"/>
<circle cx="137.7" cy="47.1" r="1.87"/>
<circle cx="141.4" cy="58.2" r="1.87"/>
<circle cx="145.1" cy="68.6" r="1.87"/>
<circle cx="148.8" cy="78.2" r="1.87"/>
<circle cx="152.5" cy="87.2" r="1.87"/>
<circle cx="156.2" cy="95.6" r="1.87"/>
<circle cx="160.0" cy="103.5" r="1.87"/>
<circle cx="163.7" cy="110.9" r="1.87"/>
<circle cx="167.4" cy="118.0" r="1.87"/>
<circle cx="171.1" cy="124.6" r="1.87"/>
<circle cx="174.8" cy="130.9" r="1.87"/>
<circle cx="178.5" cy="136.8" r="1.87"/>
<circle cx="182.2" cy="142.5" r="1.87"/>
<circle cx="185.9" cy="147.8" r="1.87"/>
<circle cx="189.6" cy="153.0" r="1.87"/>
<circle cx="193.3" cy="157.8" r="1.87"/>
<circle cx="197.0" cy="162.5" r="1.87"/>
<circle cx="200.7" cy="166.9" r="1.87"/>
<circle cx="204.5" cy="171.2" r="1.87"/>
<circle cx="208.2" cy="175.3" r="1.87"/>
<circle cx="211.9" cy="179.2" r="1.87"/>
<circle cx="215.6" cy="183.0" r="1.87"/>
<circle cx="219.3" cy="186.6" r="1.87"/>
<circle cx="223.0" cy="190.1" r="1.87"/>
<circle cx="226.7" cy="193.4" r="1.87"/>
<circle cx="230.4" cy="196.6" r="1.87"/>
<circle cx="234.1" cy="199.7" r="1.87"/>
<circle cx="237.8" cy="202.7" r="1.87"/>
<circle cx="241.5" cy="205.6" r="1.87"/>
<circle cx="245.2" cy="208.4" r="1.87"/>
<circle cx="248.9" cy="211.1" r="1.87"/>
<circle cx="252.7" cy="213.8" r="1.87"/>
<circle cx="256.4" cy="216.3" r="1.87"/>
<circle cx="260.1" cy="218.7" r="1.87"/>
<circle cx="263.8" cy="221.1" r="1.87"/>
<circle cx="267.5" cy="223.4" r="1.87"/>
<circle cx="271.2" cy="225.6" r="1.87"/>
<circle cx="274.9" cy="227.8" r="1.87"/>
<circle cx="278.6" cy="229.9" r="1.87"/>
<circle cx="282.3" cy="231.9" r="1.87"/>
<circle cx="286.0" cy="233.9" r="1.87"/>
<circle cx="289.7" cy="235.8" r="1.87"/>
<circle cx="293.4" cy="237.7" r="1.87"/>
<circle cx="297.2" cy="239.5" r="1.87"/>
<circle cx="300.9" cy="241.2" r="1.87"/>
<circle cx="304.6" cy="242.9" r="1.87"/>
<circle cx="308.3" cy="244.6" r="1.87"/>
<circle cx="312.0" cy="246.2" r="1.87"/>
<circle cx="315.7" cy="247.8" r="1.87"/>
<circle cx="319.4" cy="249.3" r="1.87"/>
<circle cx="323.1" cy="250.8" r="1.87"/>
<circle cx="326.8" cy="252.3" r="1.87"/>
<circle cx="330.5" cy="253.7" r="1.87"/>
<circle cx="334.2" cy="255.1" r="1.87"/>
<circle cx="337.9" cy="256.4" r="1.87"/>
<circle cx="341.7" cy="257.8" r="1.87"/>
<circle cx="345.4" cy="259.0" r="1.87"/>
<circle cx="349.1" cy="260.3" r="1.87"/>
<circle cx="352.8" cy="261.5" r="1.87"/>
<circle cx="356.5" cy="262.7" r="1.87"/>
<circle cx="360.2" cy="263.9" r="1.87"/>
<circle cx="363.9" cy="265.0" r="1.87"/>
<circle cx="367.6" cy="266.1" r="1.87"/>
<circle cx="371.3" cy="267.2" r="1.87"/>
<circle cx="375.0" cy="268.3" r="1.87"/>
<circle cx="378.7" cy="269.3" r="1.87"/>
<circle cx="382.4" cy="270.3" r="1.87"/>
<circle cx="386.1" cy="271.3" r="1.87"/>
<circle cx="389.9" cy="272.3" r="1.87"/>
<circle cx="393.6" cy="273.2" r="1.87"/>
<circle cx="397.3" cy="274.1" r="1.87"/>
<circle cx="401.0" cy="275.1" r="1.87"/>
<circle cx="404.7" cy="275.9" r="1.87"/>
<circle cx="408.4" cy="276.8" r="1.87"/>
<circle cx="412.1" cy="277.7" r="1.87"/>
<circle cx="415.8" cy="278.5" r="1.87"/>
<circle cx="419.5" cy="279.3" r="1.87"/>
<circle cx="423.2" cy="280.1" r="1.87"/>
<circle cx="426.9" cy="280.9" r="1.87"/>
<circle cx="430.6" cy="281.7" r="1.87"/>
<circle cx="434.4" cy="282.4" r="1.87"/>
<circle cx="438.1" cy="283.1" r="1.87"/>
<circle cx="441.8" cy="283.9" r="1.87"/>
<circle cx="445.5" cy="284.6" r="1.87"/>
<circle cx="449.2" cy="285.3" r="1.87"/>
<circle cx="452.9" cy="285.9" r="1.87"/>
<circle cx="456.6" cy="286.6" r="1.87"/>
<circle cx="460.3" cy="287.3" r="1.87"/>
<circle cx="464.0" cy="287.9" r="1.87"/>
<circle cx="467.7" cy="288.5" r="1.87"/>
<circle cx="471.4" cy="289.1" r="1.87"/>
<circle cx="475.1" cy="289.8" r="1.87"/>
<circle cx="478.8" cy="290.3" r="1.87"/>
<circle cx="482.6" cy="290.9" r="1.87"/>
<circle cx="486.3" cy="291.5" r="1.87"/>
<circle cx="490.0" cy="292.1" r="1.87"/>
<circle cx="493.7" cy="292.6" r="1.87"/>
<circle cx="497.4" cy="293.2" r="1.87"/>
<circle cx="501.1" cy="293.7" r="1.87"/>
<circle cx="504.8" cy="294.2" r="1.87"/>
<circle cx="508.5" cy="294.7" r="1.87"/>
<circle cx="512.2" cy="295.2" r="1.87"/>
<circle cx="515.9" cy="295.7" r="1.87"/>
<circle cx="519.6" cy="296.2" r="1.87"/>
<circle cx="523.3" cy="296.7" r="1.87"/>
<circle cx="527.0" cy="297.1" r="1.87"/>
<circle cx="530.8" cy="297.6" r="1.87"/>
<circle cx="534.5" cy="298.1" r="1.87"/>
<circle cx="538.2" cy="298.5" r="1.87"/>
<circle cx="541.9" cy="298.9" r="1.87"/>
<circle cx="545.6" cy="299.4" r="1.87"/>
<circle cx="549.3" cy="299.8" r="1.87"/>
<circle cx="553.0" cy="300.2" r="1.87"/>
<circle cx="556.7" cy="300.6" r="1.87"/>
<circle cx="560.4" cy="301.0" r="1.87"/>
<circle cx="564.1" cy="301.4" r="1.87"/>
<circle cx="567.8" cy="301.8" r="1.87"/>
<circle cx="571.5" cy="302.1" r="1.87"/>
<circle cx="575.3" cy="302.5" r="1.87"/>
<circle cx="579.0" cy="302.9" r="1.87"/>
<circle cx="582.7" cy="303.2" r="1.87"/>
<circle cx="586.4" cy="303.6" r="1.87"/>
<circle cx="590.1" cy="303.9" r="1.87"/>
<circle cx="593.8" cy="304.3" r="1.87"/>
<circle cx="597.5" cy="304.6" r="1.87"/>
<circle cx="601.2" cy="304.9" r="1.87"/>
<circle cx="604.9" cy="305.2" r="1.87"/>
<circle cx="608.6" cy="305.6" r="1.87"/>
<circle cx="612.3" cy="305.9" r="1.87"/>
<circle cx="616.0" cy="306.2" r="1.87"/>
<circle cx="619.8" cy="306.5" r="1.87"/>
<circle cx="623.5" cy="306.8" r="1.87"/>
<circle cx="627.2" cy="307.1" r="1.87"/>
<circle cx="630.9" cy="307.3" r="1.87"/>
<circle cx="634.6" cy="307.6" r="1.87"/>
<circle cx="638.3" cy="307.9" r="1.87"/>
<circle cx="642.0" cy="308.2" r="1.87"/>
<circle cx="645.7" cy="308.4" r="1.87"/>
<circle cx="649.4" cy="308.7" r="1.87"/>
<circle cx="653.1" cy="308.9" r="1.87"/>
<circle cx="656.8" cy="309.2" r="1.87"/>
<circle cx="660.5" cy="309.4" r="1.87"/>
<circle cx="664.2" cy="309.7" r="1.87"/>
<circle cx="668.0" cy="309.9" r="1.87"/>
<circle cx="671.7" cy="310.2" r="1.87"/>
<circle cx="675.4" cy="310.4" r="1.87"/>
<circle cx="679.1" cy="310.6" r="1.87"/>
<circle cx="682.8" cy="310.8" r="1.87"/>
<circle cx="686.5" cy="311.1" r="1.87"/>
<circle cx="690.2" cy="311.3" r="1.87"/>
<circle cx="693.9" cy="311.5" r="1.87"/>
<circle cx="697.6" cy="311.7" r="1.87"/>
<circle cx="701.3" cy="311.9" r="1.87"/>
<circle cx="705.0" cy="312.1" r="1.87"/>
<circle cx="708.7" cy="312.3" r="1.87"/>
<circle cx="712.4" cy="312.5" r="1.87"/>
<circle cx="716.2" cy="312.7" r="1.87"/>
<circle cx="719.9" cy="312.9" r="1.87"/>
<circle cx="723.6" cy="313.1" r="1.87"/>
<circle cx="727.3" cy="313.3" r="1.87"/>
<circle cx="731.0" cy="313.4" r="1.87"/>
<circle cx="734.7" cy="313.6" r="1.87"/>
<circle cx="738.4" cy="313.8" r="1.87"/>
<circle cx="742.1" cy="314.0" r="1.87"/>
<circle cx="745.8" cy="314.1" r="1.87"/>
<circle cx="749.5" cy="314.3" r="1.87"/>
<circle cx="753.2" cy="314.5" r="1.87"/>
<circle cx="756.9" cy="314.6" r="1.87"/>
<circle cx="760.7" cy="314.8" r="1.87"/>
<circle cx="764.4" cy="314.9" r="1.87"/>
<circle cx="768.1" cy="315.1" r="1.87"/>
<circle cx="771.8" cy="315.2" r="1.87"/>
<circle cx="775.5" cy="315.4" r="1.87"/>
<circle cx="779.2" cy="315.5" r="1.87"/>
<circle cx="782.9" cy="315.7" r="1.87"/>
<circle cx="786.6" cy="315.8" r="1.87"/>
<circle cx="790.3" cy="315.9" r="1.87"/>
<circle cx="794.0" cy="316.1" r="1.87"/>
<circle cx="797.7" cy="316.2" r="1.87"/>
<circle cx="801.4" cy="316.3" r="1.87"/>
<circle cx="805.1" cy="316.5" r="1.87"/>
<circle cx="182.2" cy="7.4" r="1.87"/>
<circle cx="185.9" cy="16.8" r="1.87"/>
<circle cx="189.6" cy="25.7" r="1.87"/>
<circle cx="193.3" cy="34.2" r="1.87"/>
<circle cx="197.0" cy="42.5" r="1.87"/>
<circle cx="200.7" cy="50.3" r="1.87"/>
<circle cx="204.5" cy="57.9" r="1.87"/>
<circle cx="208.2" cy="65.2" r="1.87"/>
<circle cx="211.9" cy="72.2" r="1.87"/>
<circle cx="215.6" cy="79.0" r="1.87"/>
<circle cx="219.3" cy="85.6" r="1.87"/>
<circle cx="223.0" cy="91.9" r="1.87"/>
<circle cx="226.7" cy="98.0" r="1.87"/>
<circle cx="230.4" cy="103.9" r="1.87"/>
<circle cx="234.1" cy="109.6" r="1.87"/>
<circle cx="237.8" cy="115.2" r="1.87"/>
<circle cx="241.5" cy="120.5" r="1.87"/>
<circle cx="245.2" cy="125.8" r="1.87"/>
<circle cx="248.9" cy="130.8" r="1.87"/>
<circle cx="252.7" cy="135.8" r="1.87"/>
<circle cx="256.4" cy="140.5" r="1.87"/>
<circle cx="260.1" cy="145.2" r="1.87"/>
<circle cx="263.8" cy="149.7" r="1.87"/>
<circle cx="267.5" cy="154.1" r="1.87"/>
<circle cx="271.2" cy="158.5" r="1.87"/>
<circle cx="274.9" cy="162.6" r="1.87"/>
<circle cx="278.6" cy="166.7" r="1.87"/>
<circle cx="282.3" cy="170.7" r="1.87"/>
<circle cx="286.0" cy="174.6" r="1.87"/>
<circle cx="289.7" cy="178.4" r="1.87"/>
<circle cx="293.4" cy="182.2" r="1.87"/>
<circle cx="297.2" cy="185.8" r="1.87"/>
<circle cx="300.9" cy="189.4" r="1.87"/>
<circle cx="304.6" cy="192.9" r="1.87"/>
<circle cx="308.3" cy="196.3" r="1.87"/>
<circle cx="312.0" cy="199.6" r="1.87"/>
<circle cx="315.7" cy="202.9" r="1.87"/>
<circle cx="319.4" cy="206.1" r="1.87"/>
<circle cx="323.1" cy="209.2" r="1.87"/>
<circle cx="326.8" cy="212.3" r="1.87"/>
<circle cx="330.5" cy="215.3" r="1.87"/>
<circle cx="334.2" cy="218.3" r="1.87"/>
<circle cx="337.9" cy="221.2" r="1.87"/>
<circle cx="341.7" cy="224.1" r="1.87"/>
<circle cx="345.4" cy="226.9" r="1.87"/>
<circle cx="349.1" cy="229.7" r="1.87"/>
<circle cx="352.8" cy="232.4" r="1.87"/>
<circle cx="356.5" cy="235.1" r="1.87"/>
<circle cx="360.2" cy="237.7" r="1.87"/>
<circle cx="363.9" cy="240.3" r="1.87"/>
<circle cx="367.6" cy="242.8" r="1.87"/>
<circle cx="371.3" cy="245.3" r="1.87"/>
<circle cx="375.0" cy="247.8" r="1.87"/>
<circle cx="378.7" cy="250.2" r="1.87"/>
<circle cx="382.4" cy="252.6" r="1.87"/>
<circle cx="386.1" cy="254.9" r="1.87"/>
<circle cx="389.9" cy="257.2" r="1.87"/>
<circle cx="393.6" cy="259.5" r="1.87"/>
<circle cx="397.3" cy="261.7" r="1.87"/>
<circle cx="401.0" cy="263.9" r="1.87"/>
<circle cx="404.7" cy="266.1" r="1.87"/>
<circle cx="408.4" cy="268.3" r="1.87"/>
<circle cx="412.1" cy="270.4" r="1.87"/>
<circle cx="415.8" cy="272.5" r="1.87"/>
<circle cx="419.5" cy="274.5" r="1.87"/>
<circle cx="423.2" cy="276.5" r="1.87"/>
<circle cx="426.9" cy="278.5" r="1.87"/>
<circle cx="430.6" cy="280.5" r="1.87"/>
<circle cx="434.4" cy="282.5" r="1.87"/>
<circle cx="438.1" cy="284.4" r="1.87"/>
<circle cx="441.8" cy="286.3" r="1.87"/>
<circle cx="445.5" cy="288.2" r="1.87"/>
<circle cx="449.2" cy="290.0" r="1.87"/>
<circle cx="452.9" cy="291.9" r="1.87"/>
<circle cx="456.6" cy="293.7" r="1.87"/>
<circle cx="460.3" cy="295.5" r="1.87"/>
<circle cx="464.0" cy="297.2" r="1.87"/>
<circle cx="467.7" cy="299.0" r="1.87"/>
<circle cx="471.4" cy="300.7" r="1.87"/>
<circle cx="475.1" cy="302.4" r="1.87"/>
<circle cx="478.8" cy="304.1" r="1.87"/>
<circle cx="482.6" cy="305.8" r="1.87"/>
<circle cx="486.3" cy="307.4" r="1.87"/>
<circle cx="490.0" cy="309.0" r="1.87"/>
<circle cx="493.7" cy="310.6" r="1.87"/>
<circle cx="497.4" cy="312.2" r="1.87"/>
<circle cx="501.1" cy="313.8" r="1.87"/>
<circle cx="504.8" cy="315.3" r="1.87"/>
<circle cx="508.5" cy="316.9" r="1.87"/>
<circle cx="512.2" cy="318.4" r="1.87"/>
<circle cx="515.9" cy="319.9" r="1.87"/>
<circle cx="519.6" cy="321.4" r="1.87"/>
<circle cx="523.3" cy="322.8" r="1.87"/>
<circle cx="527.0" cy="324.3" r="1.87"/>
<circle cx="530.8" cy="325.7" r="1.87"/>
<circle cx="534.5" cy="327.2" r="1.87"/>
<circle cx="538.2" cy="328.6" r="1.87"/>
<circle cx="541.9" cy="330.0" r="1.87"/>
<circle cx="545.6" cy="331.3" r="1.87"/>
<circle cx="549.3" cy="332.7" r="1.87"/>
<circle cx="553.0" cy="334.1" r="1.87"/>
<circle cx="556.7" cy="335.4" r="1.87"/>
<circle cx="560.4" cy="336.7" r="1.87"/>
<circle cx="564.1" cy="338.0" r="1.87"/>
<circle cx="567.8" cy="339.3" r="1.87"/>
<circle cx="571.5" cy="340.6" r="1.87"/>
<circle cx="575.3" cy="341.9" r="1.87"/>
<circle cx="579.0" cy="343.1" r="1.87"/>
<circle cx="582.7" cy="344.4" r="1.87"/>
<circle cx="586.4" cy="345.6" r="1.87"/>
<circle cx="590.1" cy="346.9" r="1.87"/>
<circle cx="593.8" cy="348.1" r="1.87"/>
<circle cx="597.5" cy="349.3" r="1.87"/>
<circle cx="601.2" cy="350.5" r="1.87"/>
<circle cx="604.9" cy="351.6" r="1.87"/>
<circle cx="608.6" cy="352.8" r="1.87"/>
<circle cx="612.3" cy="354.0" r="1.87"/>
<circle cx="616.0" cy="355.1" r="1.87"/>
<circle cx="619.8" cy="356.3" r="1.87"/>
<circle cx="623.5" cy="357.4" r="1.87"/>
<circle cx="627.2" cy="358.5" r="1.87"/>
<circle cx="630.9" cy="359.6" r="1.87"/>
<circle cx="634.6" cy="360.7" r="1.87"/>
<circle cx="638.3" cy="361.8" r="1.87"/>
<circle cx="642.0" cy="362.9" r="1.87"/>
<circle cx="645.7" cy="364.0" r="1.87"/>
<circle cx="649.4" cy="365.0" r="1.87"/>
<circle cx="653.1" cy="366.1" r="1.87"/>
<circle cx="656.8" cy="367.1" r="1.87"/>
<circle cx="660.5" cy="368.2" r="1.87"/>
<circle cx="664.2" cy="369.2" r="1.87"/>
<circle cx="668.0" cy="370.2" r="1.87"/>
<circle cx="671.7" cy="371.2" r="1.87"/>
<circle cx="675.4" cy="372.3" r="1.87"/>
<circle cx="679.1" cy="373.3" r="1.87"/>
<circle cx="682.8" cy="374.2" r="1.87"/>
<circle cx="686.5" cy="375.2" r="1.87"/>
<circle cx="690.2" cy="376.2" r="1.87"/>
<circle cx="693.9" cy="377.2" r="1.87"/>
<circle cx="697.6" cy="378.1" r="1.87"/>
<circle cx="701.3" cy="379.1" r="1.87"/>
<circle cx="705.0" cy="380.0" r="1.87"/>
<circle cx="708.7" cy="381.0" r="1.87"/>
<circle cx="712.4" cy="381.9" r="1.87"/>
<circle cx="716.2" cy="382.9" r="1.87"/>
<circle cx="719.9" cy="383.8" r="1.87"/>
<circle cx="723.6" cy="384.7" r="1.87"/>
<circle cx="727.3" cy="385.6" r="1.87"/>
<circle cx="731.0" cy="386.5" r="1.87"/>
<circle cx="734.7" cy="387.4" r="1.87"/>
<circle cx="738.4" cy="388.3" r="1.87"/>
<circle cx="742.1" cy="389.2" r="1.87"/>
<circle cx="745.8" cy="390.1" r="1.87"/>
<circle cx="749.5" cy="391.0" r="1.87"/>
<circle cx="753.2" cy="391.8" r="1.87"/>
<circle cx="756.9" cy="392.7" r="1.87"/>
<circle cx="760.7" cy="393.6" r="1.87"/>
<circle cx="764.4" cy="394.4" r="1.87"/>
<circle cx="768.1" cy="395.3" r="1.87"/>
<circle cx="771.8" cy="396.1" r="1.87"/>
<circle cx="775.5" cy="397.0" r="1.87"/>
<circle cx="779.2" cy="397.8" r="1.87"/>
<circle cx="782.9" cy="398.7" r="1.87"/>
<circle cx="786.6" cy="399.5" r="1.87"/>
<circle cx="790.3" cy="400.4" r="1.87"/>
<circle cx="794.0" cy="401.2" r="1.87"/>
<circle cx="797.7" cy="402.0" r="1.87"/>
<circle cx="801.4" cy="402.9" r="1.87"/>
<circle cx="805.1" cy="403.7" r="1.87"/>
<circle cx="82.1" cy="30.2" r="1.87"/>
<circle cx="85.8" cy="69.0" r="1.87"/>
<circle cx="89.5" cy="98.5" r="1.87"/>
<circle cx="93.2" cy="121.9" r="1.87"/>
<circle cx="96.9" cy="141.0" r="1.87"/>
<circle cx="100.6" cy="156.8" r="1.87"/>
<circle cx="104.3" cy="170.2" r="1.87"/>
<circle cx="108.0" cy="181.7" r="1.87"/>
<circle cx="111.8" cy="191.5" r="1.87"/>
<circle cx="115.5" cy="200.2" r="1.87"/>
<circle cx="119.2" cy="207.7" r="1.87"/>
<circle cx="122.9" cy="214.5" r="1.87"/>
<circle cx="126.6" cy="220.5" r="1.87"/>
<circle cx="130.3" cy="225.9" r="1.87"/>
<circle cx="134.0" cy="230.7" r="1.87"/>
<circle cx="137.7" cy="235.1" r="1.87"/>
<circle cx="141.4" cy="239.1" r="1.87"/>
<circle cx="145.1" cy="242.8" r="1.87"/>
<circle cx="148.8" cy="246.2" r="1.87"/>
<circle cx="152.5" cy="249.3" r="1.87"/>
<circle cx="156.2" cy="252.2" r="1.87"/>
<circle cx="160.0" cy="254.8" r="1.87"/>
<circle cx="163.7" cy="257.3" r="1.87"/>
<circle cx="167.4" cy="259.6" r="1.87"/>
<circle cx="171.1" cy="261.7" r="1.87"/>
<circle cx="174.8" cy="263.7" r="1.87"/>
<circle cx="178.5" cy="265.5" r="1.87"/>
<circle cx="182.2" cy="267.2" r="1.87"/>
<circle cx="185.9" cy="268.8" r="1.87"/>
<circle cx="189.6" cy="270.3" r="1.87"/>
<circle cx="193.3" cy="271.6" r="1.87"/>
<circle cx="197.0" cy="272.9" r="1.87"/>
<circle cx="200.7" cy="274.1" r="1.87"/>
<circle cx="204.5" cy="275.2" r="1.87"/>
<circle cx="208.2" cy="276.2" r="1.87"/>
<circle cx="211.9" cy="277.1" r="1.87"/>
<circle cx="215.6" cy="278.0" r="1.87"/>
<circle cx="219.3" cy="278.8" r="1.87"/>
<circle cx="223.0" cy="279.6" r="1.87"/>
<circle cx="226.7" cy="280.3" r="1.87"/>
<circle cx="230.4" cy="281.0" r="1.87"/>
<circle cx="234.1" cy="281.6" r="1.87"/>
<circle cx="237.8" cy="282.1" r="1.87"/>
<circle cx="241.5" cy="282.6" r="1.87"/>
<circle cx="245.2" cy="283.1" r="1.87"/>
<circle cx="248.9" cy="283.6" r="1.87"/>
<circle cx="252.7" cy="284.0" r="1.87"/>
<circle cx="256.4" cy="284.3" r="1.87"/>
<circle cx="260.1" cy="284.7" r="1.87"/>
<circle cx="263.8" cy="285.0" r="1.87"/>
<circle cx="267.5" cy="285.3" r="1.87"/>
<circle cx="271.2" cy="285.5" r="1.87"/>
<circle cx="274.9" cy="285.7" r="1.87"/>
<circle cx="278.6" cy="285.9" r="1.87"/>
<circle cx="282.3" cy="286.1" r="1.87"/>
<circle cx="286.0" cy="286.3" r="1.87"/>
<circle cx="289.7" cy="286.4" r="1.87"/>
<circle cx="293.4" cy="286.5" r="1.87"/>
<circle cx="297.2" cy="286.6" r="1.87"/>
<circle cx="300.9" cy="286.7" r="1.87"/>
<circle cx="304.6" cy="286.8" r="1.87"/>
<circle cx="308.3" cy="286.8" r="1.87"/>
<circle cx="312.0" cy="286.9" r="1.87"/>
<circle cx="315.7" cy="286.9" r="1.87"/>
<circle cx="319.4" cy="286.9" r="1.87"/>
<circle cx="323.1" cy="286.9" r="1.87"/>
<circle cx="326.8" cy="286.9" r="1.87"/>
<circle cx="330.5" cy="286.8" r="1.87"/>
<circle cx="334.2" cy="286.8" r="1.87"/>
<circle cx="337.9" cy="286.7" r="1.87"/>
<circle cx="341.7" cy="286.7" r="1.87"/>
<circle cx="345.4" cy="286.6" r="1.87"/>
<circle cx="349.1" cy="286.5" r="1.87"/>
<circle cx="352.8" cy="286.4" r="1.87"/>
<circle cx="356.5" cy="286.3" r="1.87"/>
<circle cx="360.2" cy="286.2" r="1.87"/>
<circle cx="363.9" cy="286.1" r="1.87"/>
<circle cx="367.6" cy="285.9" r="1.87"/>
<circle cx="371.3" cy="285.8" r="1.87"/>
<circle cx="375.0" cy="285.6" r="1.87"/>
<circle cx="378.7" cy="285.5" r="1.87"/>
<circle cx="382.4" cy="285.3" r="1.87"/>
<circle cx="386.1" cy="285.2" r="1.87"/>
<circle cx="389.9" cy="285.0" r="1.87"/>
<circle cx="393.6" cy="284.8" r="1.87"/>
<circle cx="397.3" cy="284.6" r="1.87"/>
<circle cx="401.0" cy="284.4" r="1.87"/>
<circle cx="404.7" cy="284.2" r="1.87"/>
<circle cx="408.4" cy="284.0" r="1.87"/>
<circle cx="412.1" cy="283.8" r="1.87"/>
<circle cx="415.8" cy="283.6" r="1.87"/>
<circle cx="419.5" cy="283.4" r="1.87"/>
<circle cx="423.2" cy="283.1" r="1.87"/>
<circle cx="426.9" cy="282.9" r="1.87"/>
<circle cx="430.6" cy="282.7" r="1.87"/>
<circle cx="434.4" cy="282.4" r="1.87"/>
<circle cx="438.1" cy="282.2" r="1.87"/>
<circle cx="441.8" cy="281.9" r="1.87"/>
<circle cx="445.5" cy="281.7" r="1.87"/>
<circle cx="449.2" cy="281.4" r="1.87"/>
<circle cx="452.9" cy="281.2" r="1.87"/>
<circle cx="456.6" cy="280.9" r="1.87"/>
<circle cx="460.3" cy="280.6" r="1.87"/>
<circle cx="464.0" cy="280.3" r="1.87"/>
<circle cx="467.7" cy="280.1" r="1.87"/>
<circle cx="471.4" cy="279.8" r="1.87"/>
<circle cx="475.1" cy="279.5" r="1.87"/>
<circle cx="478.8" cy="279.2" r="1.87"/>
<circle cx="482.6" cy="279.0" r="1.87"/>
<circle cx="486.3" cy="278.7" r="1.87"/>
<circle cx="490.0" cy="278.4" r="1.87"/>
<circle cx="493.7" cy="278.1" r="1.87"/>
<circle cx="497.4" cy="277.8" r="1.87"/>
<circle cx="501.1" cy="277.5" r="1.87"/>
<circle cx="504.8" cy="277.2" r="1.87"/>
<circle cx="508.5" cy="276.9" r="1.87"/>
<circle cx="512.2" cy="276.6" r="1.87"/>
<circle cx="515.9" cy="276.3" r="1.87"/>
<circle cx="519.6" cy="276.0" r="1.87"/>
<circle cx="523.3" cy="275.8" r="1.87"/>
<circle cx="527.0" cy="275.5" r="1.87"/>
<circle cx="530.8" cy="275.2" r="1.87"/>
<circle cx="534.5" cy="274.9" r="1.87"/>
<circle cx="538.2" cy="274.6" r="1.87"/>
<circle cx="541.9" cy="274.3" r="1.87"/>
<circle cx="545.6" cy="274.0" r="1.87"/>
<circle cx="549.3" cy="273.7" r="1.87"/>
<circle cx="553.0" cy="273.4" r="1.87"/>
<circle cx="556.7" cy="273.1" r="1.87"/>
<circle cx="560.4" cy="272.8" r="1.87"/>
<circle cx="564.1" cy="272.5" r="1.87"/>
<circle cx="567.8" cy="272.2" r="1.87"/>
<circle cx="571.5" cy="271.9" r="1.87"/>
<circle cx="575.3" cy="271.5" r="1.87"/>
<circle cx="579.0" cy="271.2" r="1.87"/>
<circle cx="582.7" cy="270.9" r="1.87"/>
<circle cx="586.4" cy="270.6" r="1.87"/>
<circle cx="590.1" cy="270.3" r="1.87"/>
<circle cx="593.8" cy="270.0" r="1.87"/>
<circle cx="597.5" cy="269.7" r="1.87"/>
<circle cx="601.2" cy="269.4" r="1.87"/>
<circle cx="604.9" cy="269.1" r="1.87"/>
<circle cx="608.6" cy="268.8" r="1.87"/>
<circle cx="612.3" cy="268.5" r="1.87"/>
<circle cx="616.0" cy="268.2" r="1.87"/>
<circle cx="619.8" cy="267.9" r="1.87"/>
<circle cx="623.5" cy="267.6" r="1.87"/>
<circle cx="627.2" cy="267.3" r="1.87"/>
<circle cx="630.9" cy="267.0" r="1.87"/>
<circle cx="634.6" cy="266.7" r="1.87"/>
<circle cx="638.3" cy="266.4" r="1.87"/>
<circle cx="642.0" cy="266.1" r="1.87"/>
<circle cx="645.7" cy="265.8" r="1.87"/>
<circle cx="649.4" cy="265.5" r="1.87"/>
<circle cx="653.1" cy="265.2" r="1.87"/>
<circle cx="656.8" cy="264.9" r="1.87"/>
<circle cx="660.5" cy="264.6" r="1.87"/>
<circle cx="664.2" cy="264.3" r="1.87"/>
<circle cx="668.0" cy="264.0" r="1.87"/>
<circle cx="671.7" cy="263.7" r="1.87"/>
<circle cx="675.4" cy="263.4" r="1.87"/>
<circle cx="679.1" cy="263.1" r="1.87"/>
<circle cx="682.8" cy="262.8" r="1.87"/>
<circle cx="686.5" cy="262.5" r="1.87"/>
<circle cx="690.2" cy="262.2" r="1.87"/>
<circle cx="693.9" cy="261.9" r="1.87"/>
<circle cx="697.6" cy="261.6" r="1.87"/>
<circle cx="701.3" cy="261.3" r="1.87"/>
<circle cx="705.0" cy="260.9" r="1.87"/>
<circle cx="708.7" cy="260.6" r="1.87"/>
<circle cx="712.4" cy="260.3" r="1.87"/>
<circle cx="716.2" cy="260.0" r="1.87"/>
<circle cx="719.9" cy="259.7" r="1.87"/>
<circle cx="723.6" cy="259.4" r="1.87"/>
<circle cx="727.3" cy="259.1" r="1.87"/>
<circle cx="731.0" cy="258.8" r="1.87"/>
<circle cx="734.7" cy="258.5" r="1.87"/>
<circle cx="738.4" cy="258.2" r="1.87"/>
<circle cx="742.1" cy="257.8" r="1.87"/>
<circle cx="745.8" cy="257.5" r="1.87"/>
<circle cx="749.5" cy="257.2" r="1.87"/>
<circle cx="753.2" cy="256.9" r="1.87"/>
<circle cx="756.9" cy="256.6" r="1.87"/>
<circle cx="760.7" cy="256.2" r="1.87"/>
<circle cx="764.4" cy="255.9" r="1.87"/>
<circle cx="768.1" cy="255.6" r="1.87"/>
<circle cx="771.8" cy="255.3" r="1.87"/>
<circle cx="775.5" cy="255.0" r="1.87"/>
<circle cx="779.2" cy="254.6" r="1.87"/>
<circle cx="782.9" cy="254.3" r="1.87"/>
<circle cx="786.6" cy="254.0" r="1.87"/>
<circle cx="790.3" cy="253.6" r="1.87"/>
<circle cx="794.0" cy="253.3" r="1.87"/>
<circle cx="797.7" cy="252.9" r="1.87"/>
<circle cx="801.4" cy="252.6" r="1.87"/>
<circle cx="805.1" cy="252.2" r="1.87"/>
<circle cx="74.7" cy="30.7" r="1.87"/>
<circle cx="78.4" cy="106.6" r="1.87"/>
<circle cx="82.1" cy="157.4" r="1.87"/>
<circle cx="85.8" cy="193.6" r="1.87"/>
<circle cx="89.5" cy="220.8" r="1.87"/>
<circle cx="93.2" cy="242.0" r="1.87"/>
<circle cx="96.9" cy="258.9" r="1.87"/>
<circle cx="100.6" cy="272.8" r="1.87"/>
<circle cx="104.3" cy="284.4" r="1.87"/>
<circle cx="108.0" cy="294.2" r="1.87"/>
<circle cx="111.8" cy="302.7" r="1.87"/>
<circle cx="115.5" cy="310.0" r="1.87"/>
<circle cx="119.2" cy="316.4" r="1.87"/>
<circle cx="122.9" cy="322.1" r="1.87"/>
<circle cx="126.6" cy="327.1" r="1.87"/>
<circle cx="130.3" cy="331.6" r="1.87"/>
<circle cx="134.0" cy="335.7" r="1.87"/>
<circle cx="137.7" cy="339.3" r="1.87"/>
<circle cx="141.4" cy="342.6" r="1.87"/>
<circle cx="145.1" cy="345.6" r="1.87"/>
<circle cx="148.8" cy="348.3" r="1.87"/>
<circle cx="152.5" cy="350.8" r="1.87"/>
<circle cx="156.2" cy="353.1" r="1.87"/>
<circle cx="160.0" cy="355.2" r="1.87"/>
<circle cx="163.7" cy="357.1" r="1.87"/>
<circle cx="167.4" cy="358.9" r="1.87"/>
<circle cx="171.1" cy="360.6" r="1.87"/>
<circle cx="174.8" cy="362.1" r="1.87"/>
<circle cx="178.5" cy="363.5" r="1.87"/>
<circle cx="182.2" cy="364.9" r="1.87"/>
<circle cx="185.9" cy="366.1" r="1.87"/>
<circle cx="189.6" cy="367.3" r="1.87"/>
<circle cx="193.3" cy="368.3" r="1.87"/>
<circle cx="197.0" cy="369.4" r="1.87"/>
<circle cx="200.7" cy="370.3" r="1.87"/>
<circle cx="204.5" cy="371.2" r="1.87"/>
<circle cx="208.2" cy="372.1" r="1.87"/>
<circle cx="211.9" cy="372.8" r="1.87"/>
<circle cx="215.6" cy="373.6" r="1.87"/>
<circle cx="219.3" cy="374.3" r="1.87"/>
<circle cx="223.0" cy="375.0" r="1.87"/>
<circle cx="226.7" cy="375.6" r="1.87"/>
<circle cx="230.4" cy="376.2" r="1.87"/>
<circle cx="234.1" cy="376.8" r="1.87"/>
<circle cx="237.8" cy="377.3" r="1.87"/>
<circle cx="241.5" cy="377.9" r="1.87"/>
<circle cx="245.2" cy="378.4" r="1.87"/>
<circle cx="248.9" cy="378.8" r="1.87"/>
<circle cx="252.7" cy="379.3" r="1.87"/>
<circle cx="256.4" cy="379.8" r="1.87"/>
<circle cx="260.1" cy="380.2" r="1.87"/>
<circle cx="263.8" cy="380.6" r="1.87"/>
<circle cx="267.5" cy="381.0" r="1.87"/>
<circle cx="271.2" cy="381.4" r="1.87"/>
<circle cx="274.9" cy="381.8" r="1.87"/>
<circle cx="278.6" cy="382.2" r="1.87"/>
<circle cx="282.3" cy="382.6" r="1.87"/>
<circle cx="286.0" cy="382.9" r="1.87"/>
<circle cx="289.7" cy="383.3" r="1.87"/>
<circle cx="293.4" cy="383.6" r="1.87"/>
<circle cx="297.2" cy="384.0" r="1.87"/>
<circle cx="300.9" cy="384.3" r="1.87"/>
<circle cx="304.6" cy="384.7" r="1.87"/>
<circle cx="308.3" cy="385.0" r="1.87"/>
<circle cx="312.0" cy="385.3" r="1.87"/>
<circle cx="315.7" cy="385.6" r="1.87"/>
<circle cx="319.4" cy="385.9" r="1.87"/>
<circle cx="323.1" cy="386.2" r="1.87"/>
<circle cx="326.8" cy="386.5" r="1.87"/>
<circle cx="330.5" cy="386.8" r="1.87"/>
<circle cx="334.2" cy="387.1" r="1.87"/>
<circle cx="337.9" cy="387.3" r="1.87"/>
<circle cx="341.7" cy="387.6" r="1.87"/>
<circle cx="345.4" cy="387.9" r="1.87"/>
<circle cx="349.1" cy="388.1" r="1.87"/>
<circle cx="352.8" cy="388.4" r="1.87"/>
<circle cx="356.5" cy="388.7" r="1.87"/>
<circle cx="360.2" cy="388.9" r="1.87"/>
<circle cx="363.9" cy="389.2" r="1.87"/>
<circle cx="367.6" cy="389.4" r="1.87"/>
<circle cx="371.3" cy="389.6" r="1.87"/>
<circle cx="375.0" cy="389.9" r="1.87"/>
<circle cx="378.7" cy="390.1" r="1.87"/>
<circle cx="382.4" cy="390.3" r="1.87"/>
<circle cx="386.1" cy="390.5" r="1.87"/>
<circle cx="389.9" cy="390.8" r="1.87"/>
<circle cx="393.6" cy="391.0" r="1.87"/>
<circle cx="397.3" cy="391.2" r="1.87"/>
<circle cx="401.0" cy="391.4" r="1.87"/>
<circle cx="404.7" cy="391.6" r="1.87"/>
<circle cx="408.4" cy="391.8" r="1.87"/>
<circle cx="412.1" cy="392.0" r="1.87"/>
<circle cx="415.8" cy="392.2" r="1.87"/>
<circle cx="419.5" cy="392.4" r="1.87"/>
<circle cx="423.2" cy="392.6" r="1.87"/>
<circle cx="426.9" cy="392.8" r="1.87"/>
<circle cx="430.6" cy="393.0" r="1.87"/>
<circle cx="434.4" cy="393.1" r="1.87"/>
<circle cx="438.1" cy="393.3" r="1.87"/>
<circle cx="441.8" cy="393.5" r="1.87"/>
<circle cx="445.5" cy="393.7" r="1.87"/>
<circle cx="449.2" cy="393.8" r="1.87"/>
<circle cx="452.9" cy="394.0" r="1.87"/>
<circle cx="456.6" cy="394.2" r="1.87"/>
<circle cx="460.3" cy="394.3" r="1.87"/>
<circle cx="464.0" cy="394.5" r="1.87"/>
<circle cx="467.7" cy="394.7" r="1.87"/>
<circle cx="471.4" cy="394.8" r="1.87"/>
<circle cx="475.1" cy="395.0" r="1.87"/>
<circle cx="478.8" cy="395.1" r="1.87"/>
<circle cx="482.6" cy="395.3" r="1.87"/>
<circle cx="486.3" cy="395.4" r="1.87"/>
<circle cx="490.0" cy="395.6" r="1.87"/>
<circle cx="493.7" cy="395.7" r="1.87"/>
<circle cx="497.4" cy="395.9" r="1.87"/>
<circle cx="501.1" cy="396.0" r="1.87"/>
<circle cx="504.8" cy="396.2" r="1.87"/>
<circle cx="508.5" cy="396.3" r="1.87"/>
<circle cx="512.2" cy="396.4" r="1.87"/>
<circle cx="515.9" cy="396.6" r="1.87"/>
<circle cx="519.6" cy="396.7" r="1.87"/>
<circle cx="523.3" cy="396.8" r="1.87"/>
<circle cx="527.0" cy="397.0" r="1.87"/>
<circle cx="530.8" cy="397.1" r="1.87"/>
<circle cx="534.5" cy="397.2" r="1.87"/>
<circle cx="538.2" cy="397.4" r="1.87"/>
<circle cx="541.9" cy="397.5" r="1.87"/>
<circle cx="545.6" cy="397.6" r="1.87"/>
<circle cx="549.3" cy="397.7" r="1.87"/>
<circle cx="553.0" cy="397.8" r="1.87"/>
<circle cx="556.7" cy="398.0" r="1.87"/>
<circle cx="560.4" cy="398.1" r="1.87"/>
<circle cx="564.1" cy="398.2" r="1.87"/>
<circle cx="567.8" cy="398.3" r="1.87"/>
<circle cx="571.5" cy="398.4" r="1.87"/>
<circle cx="575.3" cy="398.5" r="1.87"/>
<circle cx="579.0" cy="398.6" r="1.87"/>
<circle cx="582.7" cy="398.8" r="1.87"/>
<circle cx="586.4" cy="398.9" r="1.87"/>
<circle cx="590.1" cy="399.0" r="1.87"/>
<circle cx="593.8" cy="399.1" r="1.87"/>
<circle cx="597.5" cy="399.2" r="1.87"/>
<circle cx="601.2" cy="399.3" r="1.87"/>
<circle cx="604.9" cy="399.4" r="1.87"/>
<circle cx="608.6" cy="399.5" r="1.87"/>
<circle cx="612.3" cy="399.6" r="1.87"/>
<circle cx="616.0" cy="399.7" r="1.87"/>
<circle cx="619.8" cy="399.8" r="1.87"/>
<circle cx="623.5" cy="399.9" r="1.87"/>
<circle cx="627.2" cy="400.0" r="1.87"/>
<circle cx="630.9" cy="400.1" r="1.87"/>
<circle cx="634.6" cy="400.2" r="1.87"/>
<circle cx="638.3" cy="400.3" r="1.87"/>
<circle cx="642.0" cy="400.4" r="1.87"/>
<circle cx="645.7" cy="400.4" r="1.87"/>
<circle cx="649.4" cy="400.5" r="1.87"/>
<circle cx="653.1" cy="400.6" r="1.87"/>
<circle cx="656.8" cy="400.7" r="1.87"/>
<circle cx="660.5" cy="400.8" r="1.87"/>
<circle cx="664.2" cy="400.9" r="1.87"/>
<circle cx="668.0" cy="401.0" r="1.87"/>
<circle cx="671.7" cy="401.1" r="1.87"/>
<circle cx="675.4" cy="401.1" r="1.87"/>
<circle cx="679.1" cy="401.2" r="1.87"/>
<circle cx="682.8" cy="401.3" r="1.87"/>
<circle cx="686.5" cy="401.4" r="1.87"/>
<circle cx="690.2" cy="401.5" r="1.87"/>
<circle cx="693.9" cy="401.6" r="1.87"/>
<circle cx="697.6" cy="401.6" r="1.87"/>
<circle cx="701.3" cy="401.7" r="1.87"/>
<circle cx="705.0" cy="401.8" r="1.87"/>
<circle cx="708.7" cy="401.9" r="1.87"/>
<circle cx="712.4" cy="402.0" r="1.87"/>
<circle cx="716.2" cy="402.0" r="1.87"/>
<circle cx="719.9" cy="402.1" r="1.87"/>
<circle cx="723.6" cy="402.2" r="1.87"/>
<circle cx="727.3" cy="402.3" r="1.87"/>
<circle cx="731.0" cy="402.3" r="1.87"/>
<circle cx="734.7" cy="402.4" r="1.87"/>
<circle cx="738.4" cy="402.5" r="1.87"/>
<circle cx="742.1" cy="402.5" r="1.87"/>
<circle cx="745.8" cy="402.6" r="1.87"/>
<circle cx="749.5" cy="402.7" r="1.87"/>
<circle cx="753.2" cy="402.8" r="1.87"/>
<circle cx="756.9" cy="402.8" r="1.87"/>
<circle cx="760.7" cy="402.9" r="1.87"/>
<circle cx="764.4" cy="403.0" r="1.87"/>
<circle cx="768.1" cy="403.0" r="1.87"/>
<circle cx="771.8" cy="403.1" r="1.87"/>
<circle cx="775.5" cy="403.2" r="1.87"/>
<circle cx="779.2" cy="403.2" r="1.87"/>
<circle cx="782.9" cy="403.3" r="1.87"/>
<circle cx="786.6" cy="403.4" r="1.87"/>
<circle cx="790.3" cy="403.4" r="1.87"/>
<circle cx="794.0" cy="403.5" r="1.87"/>
<circle cx="797.7" cy="403.5" r="1.87"/>
<circle cx="801.4" cy="403.6" r="1.87"/>
<circle cx="805.1" cy="403.6" r="1.87"/>
<circle cx="137.7" cy="472.4" r="1.87"/>
<circle cx="141.4" cy="471.2" r="1.87"/>
<circle cx="145.1" cy="470.0" r="1.87"/>
<circle cx="148.8" cy="468.8" r="1.87"/>
<circle cx="152.5" cy="467.5" r="1.87"/>
<circle cx="156.2" cy="466.3" r="1.87"/>
<circle cx="160.0" cy="465.0" r="1.87"/>
<circle cx="163.7" cy="463.7" r="1.87"/>
<circle cx="167.4" cy="462.5" r="1.87"/>
<circle cx="171.1" cy="461.2" r="1.87"/>
<circle cx="174.8" cy="460.0" r="1.87"/>
<circle cx="178.5" cy="458.7" r="1.87"/>
<circle cx="182.2" cy="457.5" r="1.87"/>
<circle cx="185.9" cy="456.2" r="1.87"/>
<circle cx="189.6" cy="455.0" r="1.87"/>
<circle cx="193.3" cy="453.8" r="1.87"/>
<circle cx="197.0" cy="452.6" r="1.87"/>
<circle cx="200.7" cy="451.3" r="1.87"/>
<circle cx="204.5" cy="450.2" r="1.87"/>
<circle cx="208.2" cy="449.0" r="1.87"/>
<circle cx="211.9" cy="447.8" r="1.87"/>
<circle cx="215.6" cy="446.6" r="1.87"/>
<circle cx="219.3" cy="445.5" r="1.87"/>
<circle cx="223.0" cy="444.3" r="1.87"/>
<circle cx="226.7" cy="443.2" r="1.87"/>
<circle cx="230.4" cy="442.1" r="1.87"/>
<circle cx="234.1" cy="441.0" r="1.87"/>
<circle cx="237.8" cy="439.9" r="1.87"/>
<circle cx="241.5" cy="438.8" r="1.87"/>
<circle cx="245.2" cy="437.7" r="1.87"/>
<circle cx="248.9" cy="436.7" r="1.87"/>
<circle cx="252.7" cy="435.6" r="1.87"/>
<circle cx="256.4" cy="434.6" r="1.87"/>
<circle cx="260.1" cy="433.5" r="1.87"/>
<circle cx="263.8" cy="432.5" r="1.87"/>
<circle cx="267.5" cy="431.5" r="1.87"/>
<circle cx="271.2" cy="430.5" r="1.87"/>
<circle cx="274.9" cy="429.5" r="1.87"/>
<circle cx="278.6" cy="428.5" r="1.87"/>
<circle cx="282.3" cy="427.5" r="1.87"/>
<circle cx="286.0" cy="426.5" r="1.87"/>
<circle cx="289.7" cy="425.6" r="1.87"/>
<circle cx="293.4" cy="424.6" r="1.87"/>
<circle cx="297.2" cy="423.7" r="1.87"/>
<circle cx="300.9" cy="422.7" r="1.87"/>
<circle cx="304.6" cy="421.8" r="1.87"/>
<circle cx="308.3" cy="420.9" r="1.87"/>
<circle cx="312.0" cy="420.0" r="1.87"/>
<circle cx="315.7" cy="419.0" r="1.87"/>
<circle cx="319.4" cy="418.1" r="1.87"/>
<circle cx="323.1" cy="417.3" r="1.87"/>
<circle cx="326.8" cy="416.4" r="1.87"/>
<circle cx="330.5" cy="415.5" r="1.87"/>
<circle cx="334.2" cy="414.6" r="1.87"/>
<circle cx="337.9" cy="413.7" r="1.87"/>
<circle cx="341.7" cy="412.9" r="1.87"/>
<circle cx="345.4" cy="412.0" r="1.87"/>
<circle cx="349.1" cy="411.2" r="1.87"/>
<circle cx="352.8" cy="410.3" r="1.87"/>
<circle cx="356.5" cy="409.5" r="1.87"/>
<circle cx="360.2" cy="408.7" r="1.87"/>
<circle cx="363.9" cy="407.8" r="1.87"/>
<circle cx="367.6" cy="407.0" r="1.87"/>
<circle cx="371.3" cy="406.2" r="1.87"/>
<circle cx="375.0" cy="405.4" r="1.87"/>
<circle cx="378.7" cy="404.6" r="1.87"/>
<circle cx="382.4" cy="403.8" r="1.87"/>
<circle cx="386.1" cy="403.0" r="1.87"/>
<circle cx="389.9" cy="402.2" r="1.87"/>
<circle cx="393.6" cy="401.4" r="1.87"/>
<circle cx="397.3" cy="400.6" r="1.87"/>
<circle cx="401.0" cy="399.8" r="1.87"/>
<circle cx="404.7" cy="399.1" r="1.87"/>
<circle cx="408.4" cy="398.3" r="1.87"/>
<circle cx="412.1" cy="397.5" r="1.87"/>
<circle cx="415.8" cy="396.8" r="1.87"/>
<circle cx="419.5" cy="396.0" r="1.87"/>
<circle cx="423.2" cy="395.2" r="1.87"/>
<circle cx="426.9" cy="394.5" r="1.87"/>
<circle cx="430.6" cy="393.7" r="1.87"/>
<circle cx="434.4" cy="393.0" r="1.87"/>
<circle cx="438.1" cy="392.2" r="1.87"/>
<circle cx="441.8" cy="391.5" r="1.87"/>
<circle cx="445.5" cy="390.8" r="1.87"/>
<circle cx="449.2" cy="390.0" r="1.87"/>
<circle cx="452.9" cy="389.3" r="1.87"/>
<circle cx="456.6" cy="388.6" r="1.87"/>
<circle cx="460.3" cy="387.8" r="1.87"/>
<circle cx="464.0" cy="387.1" r="1.87"/>
<circle cx="467.7" cy="386.4" r="1.87"/>
<circle cx="471.4" cy="385.7" r="1.87"/>
<circle cx="475.1" cy="384.9" r="1.87"/>
<circle cx="478.8" cy="384.2" r="1.87"/>
<circle cx="482.6" cy="383.5" r="1.87"/>
<circle cx="486.3" cy="382.8" r="1.87"/>
<circle cx="490.0" cy="382.1" r="1.87"/>
<circle cx="493.7" cy="381.3" r="1.87"/>
<circle cx="497.4" cy="380.6" r="1.87"/>
<circle cx="501.1" cy="379.9" r="1.87"/>
<circle cx="504.8" cy="379.2" r="1.87"/>
<circle cx="508.5" cy="378.5" r="1.87"/>
<circle cx="512.2" cy="377.8" r="1.87"/>
<circle cx="515.9" cy="377.1" r="1.87"/>
<circle cx="519.6" cy="376.4" r="1.87"/>
<circle cx="523.3" cy="375.6" r="1.87"/>
<circle cx="527.0" cy="374.9" r="1.87"/>
<circle cx="530.8" cy="374.2" r="1.87"/>
<circle cx="534.5" cy="373.5" r="1.87"/>
<circle cx="538.2" cy="372.8" r="1.87"/>
<circle cx="541.9" cy="372.1" r="1.87"/>
<circle cx="545.6" cy="371.4" r="1.87"/>
<circle cx="549.3" cy="370.7" r="1.87"/>
<circle cx="553.0" cy="369.9" r="1.87"/>
<circle cx="556.7" cy="369.2" r="1.87"/>
<circle cx="560.4" cy="368.5" r="1.87"/>
<circle cx="564.1" cy="367.8" r="1.87"/>
<circle cx="567.8" cy="367.1" r="1.87"/>
<circle cx="571.5" cy="366.3" r="1.87"/>
<circle cx="575.3" cy="365.6" r="1.87"/>
<circle cx="579.0" cy="364.9" r="1.87"/>
<circle cx="582.7" cy="364.2" r="1.87"/>
<circle cx="586.4" cy="363.4" r="1.87"/>
<circle cx="590.1" cy="362.7" r="1.87"/>
<circle cx="593.8" cy="362.0" r="1.87"/>
<circle cx="597.5" cy="361.2" r="1.87"/>
<circle cx="601.2" cy="360.5" r="1.87"/>
<circle cx="604.9" cy="359.8" r="1.87"/>
<circle cx="608.6" cy="359.0" r="1.87"/>
<circle cx="612.3" cy="358.3" r="1.87"/>
<circle cx="616.0" cy="357.5" r="1.87"/>
<circle cx="619.8" cy="356.8" r="1.87"/>
<circle cx="623.5" cy="356.0" r="1.87"/>
<circle cx="627.2" cy="355.3" r="1.87"/>
<circle cx="630.9" cy="354.5" r="1.87"/>
<circle cx="634.6" cy="353.8" r="1.87"/>
<circle cx="638.3" cy="353.0" r="1.87"/>
<circle cx="642.0" cy="352.2" r="1.87"/>
<circle cx="645.7" cy="351.5" r="1.87"/>
<circle cx="649.4" cy="350.7" r="1.87"/>
<circle cx="653.1" cy="349.9" r="1.87"/>
<circle cx="656.8" cy="349.2" r="1.87"/>
<circle cx="660.5" cy="348.4" r="1.87"/>
<circle cx="664.2" cy="347.6" r="1.87"/>
<circle cx="668.0" cy="346.8" r="1.87"/>
<circle cx="671.7" cy="346.1" r="1.87"/>
<circle cx="675.4" cy="345.3" r="1.87"/>
<circle cx="679.1" cy="344.5" r="1.87"/>
<circle cx="682.8" cy="343.7" r="1.87"/>
<circle cx="686.5" cy="342.9" r="1.87"/>
<circle cx="690.2" cy="342.1" r="1.87"/>
<circle cx="693.9" cy="341.4" r="1.87"/>
<circle cx="697.6" cy="340.6" r="1.87"/>
<circle cx="701.3" cy="339.8" r="1.87"/>
<circle cx="705.0" cy="339.0" r="1.87"/>
<circle cx="708.7" cy="338.2" r="1.87"/>
<circle cx="712.4" cy="337.4" r="1.87"/>
<circle cx="716.2" cy="336.6" r="1.87"/>
<circle cx="719.9" cy="335.8" r="1.87"/>
<circle cx="723.6" cy="335.0" r="1.87"/>
<circle cx="727.3" cy="334.1" r="1.87"/>
<circle cx="731.0" cy="333.3" r="1.87"/>
<circle cx="734.7" cy="332.5" r="1.87"/>
<circle cx="738.4" cy="331.7" r="1.87"/>
<circle cx="742.1" cy="330.9" r="1.87"/>
<circle cx="745.8" cy="330.1" r="1.87"/>
<circle cx="749.5" cy="329.2" r="1.87"/>
<circle cx="753.2" cy="328.4" r="1.87"/>
<circle cx="756.9" cy="327.6" r="1.87"/>
<circle cx="760.7" cy="326.8" r="1.87"/>
<circle cx="764.4" cy="325.9" r="1.87"/>
<circle cx="768.1" cy="325.1" r="1.87"/>
<circle cx="771.8" cy="324.2" r="1.87"/>
<circle cx="775.5" cy="323.4" r="1.87"/>
<circle cx="779.2" cy="322.5" r="1.87"/>
<circle cx="782.9" cy="321.7" r="1.87"/>
<circle cx="786.6" cy="320.8" r="1.87"/>
<circle cx="790.3" cy="320.0" r="1.87"/>
<circle cx="794.0" cy="319.1" r="1.87"/>
<circle cx="797.7" cy="318.2" r="1.87"/>
<circle cx="801.4" cy="317.3" r="1.87"/>
<circle cx="805.1" cy="316.5" r="1.87"/>
</g>
</g>
<g stroke="#787878" stroke-width="0.9" fill="none">
<rect x="63.60" y="0.70" width="760.20" height="469.50"/>
<path d="M63.55 470.20v-5.70M63.55 0.70v5.70M100.63 470.20v-3.60M100.63 0.70v3.60M137.71 470.20v-3.60M137.71 0.70v3.60M174.79 470.20v-3.60M174.79 0.70v3.60M211.87 470.20v-3.60M211.87 0.70v3.60M248.95 470.20v-5.70M248.95 0.70v5.70M286.03 470.20v-3.60M286.03 0.70v3.60M323.11 470.20v-3.60M323.11 0.70v3.60M360.19 470.20v-3.60M360.19 0.70v3.60M397.27 470.20v-3.60M397.27 0.70v3.60M434.35 470.20v-5.70M434.35 0.70v5.70M471.43 470.20v-3.60M471.43 0.70v3.60M508.51 470.20v-3.60M508.51 0.70v3.60M545.59 470.20v-3.60M545.59 0.70v3.60M582.67 470.20v-3.60M582.67 0.70v3.60M619.75 470.20v-5.70M619.75 0.70v5.70M656.83 470.20v-3.60M656.83 0.70v3.60M693.91 470.20v-3.60M693.91 0.70v3.60M730.99 470.20v-3.60M730.99 0.70v3.60M768.07 470.20v-3.60M768.07 0.70v3.60M805.15 470.20v-5.70M805.15 0.70v5.70M63.60 470.10h3.60M823.80 470.10h-3.60M63.60 448.00h3.60M823.80 448.00h-3.60M63.60 425.90h3.60M823.80 425.90h-3.60M63.60 403.80h5.70M823.80 403.80h-5.70M63.60 381.70h3.60M823.80 381.70h-3.60M63.60 359.60h3.60M823.80 359.60h-3.60M63.60 337.50h3.60M823.80 337.50h-3.60M63.60 315.40h3.60M823.80 315.40h-3.60M63.60 293.30h5.70M823.80 293.30h-5.70M63.60 271.20h3.60M823.80 271.20h-3.60M63.60 249.10h3.60M823.80 249.10h-3.60M63.60 227.00h3.60M823.80 227.00h-3.60M63.60 204.90h3.60M823.80 204.90h-3.60M63.60 182.80h5.70M823.80 182.80h-5.70M63.60 160.70h3.60M823.80 160.70h-3.60M63.60 138.60h3.60M823.80 138.60h-3.60M63.60 116.50h3.60M823.80 116.50h-3.60M63.60 94.40h3.60M823.80 94.40h-3.60M63.60 72.30h5.70M823.80 72.30h-5.70M63.60 50.20h3.60M823.80 50.20h-3.60M63.60 28.10h3.60M823.80 28.10h-3.60M63.60 6.00h3.60M823.80 6.00h-3.60"/>
</g>
<g font-family="Liberation Sans, sans-serif" font-size="23" fill="#727272" text-anchor="middle">
<text x="63.3" y="492.6">0.0</text>
<text x="248.8" y="492.6">0.5</text>
<text x="434.2" y="492.6">1.0</text>
<text x="619.5" y="492.6">1.5</text>
<text x="804.9" y="492.6">2.0</text>
</g>
<g font-family="Liberation Sans, sans-serif" font-size="23" fill="#727272" text-anchor="end">
<text x="58.9" y="410.7">2</text>
<text x="58.9" y="300.2">3</text>
<text x="58.9" y="189.7">4</text>
<text x="58.9" y="79.2">5</text>
</g>
<g stroke-width="3" stroke-linecap="butt">
<line x1="340.5" y1="28" x2="373" y2="28" stroke="#ff0000"/>
<line x1="507" y1="28" x2="539.5" y2="28" stroke="#00aa00"/>
<line x1="674" y1="28" x2="706.5" y2="28" stroke="#0000ff"/>
</g>
<g font-family="Liberation Serif, serif" font-size="27.3" fill="#000">
<text x="383.6" y="35.1" textLength="87.4" lengthAdjust="spacingAndGlyphs">LGRAV</text>
<text x="552.9" y="35.1" textLength="81.3" lengthAdjust="spacingAndGlyphs">LGINO</text>
<text x="728.1" y="35.1" textLength="65.4" lengthAdjust="spacingAndGlyphs">LVEC</text>
</g>
<g font-family="Liberation Serif, serif" fill="#000">
<g transform="translate(25.7,250.2) rotate(-90)"><text x="0" y="0" font-size="29" font-style="italic" textLength="19.4" lengthAdjust="spacingAndGlyphs">E</text><text x="20.2" y="4.6" font-size="19">0</text></g>
<text x="59.6" y="531.5" font-size="30" font-style="italic">e</text>
<text x="76.3" y="520.6" font-size="18.5">2</text>
<text x="85.6" y="520.6" font-size="20.5" font-style="italic">&#966;</text>
<g stroke="#000" fill="none" stroke-linecap="round" stroke-linejoin="round"><path d="M388.3 531.3 C390.2 532.8 392.7 531.6 393.5 528 L396.7 513.4" stroke-width="1.15"/><path d="M404.9 532.2 L409.1 514.6 C409.9 511.6 411.8 510.5 414.6 510.5" stroke-width="1.15"/><path d="M411.6 510.9 L414.6 510.5" stroke-width="1.9"/></g>
<circle cx="388.1" cy="531.2" r="1.25"/>
<path d="M395.9 512.7 L398.2 512.7 L405.7 530.6 L404.5 533 Z"/>
<path d="M423.4 522.2h17.9M423.4 527.1h17.9" stroke="#000" stroke-width="1.1" fill="none"/>
<text x="450.4" y="531.8" font-size="27.3">4</text>
<text x="742.4" y="531.7" font-size="27.6" textLength="33.4" lengthAdjust="spacingAndGlyphs">SU</text>
<text x="778.0" y="533.0" font-size="31.5">(</text>
<text x="787.6" y="531.7" font-size="27.6">2</text>
<text x="802.6" y="533.0" font-size="31.5">)</text>
<text x="812.9" y="535.5" font-size="17.5" font-style="italic" textLength="13.2" lengthAdjust="spacingAndGlyphs">F</text>
</g>
</svg>
</body></html>
